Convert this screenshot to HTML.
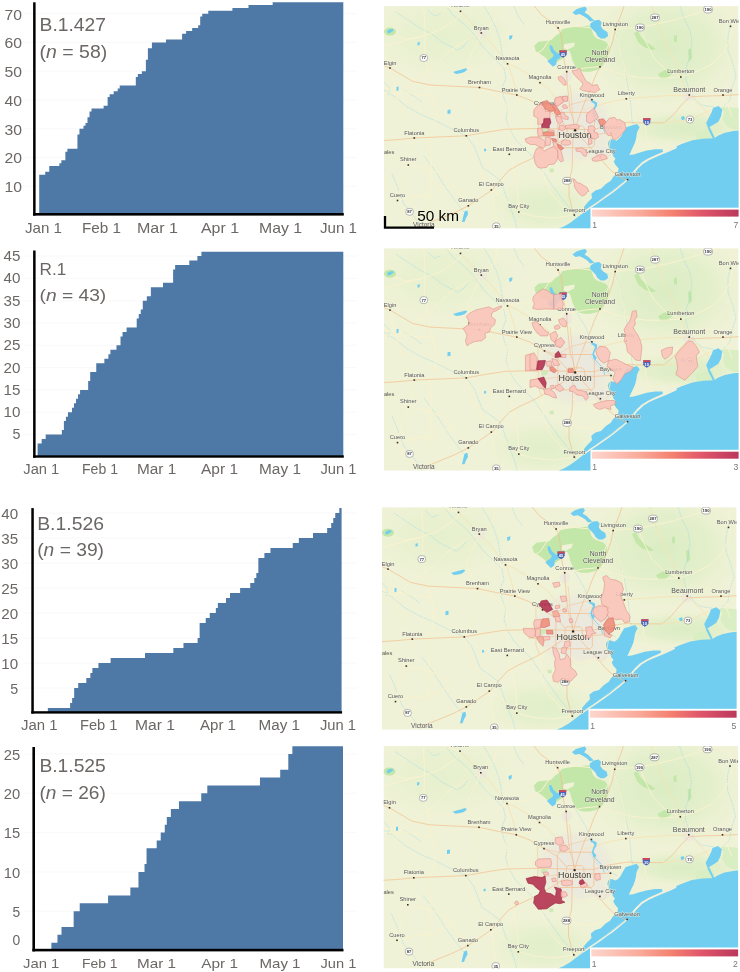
<!DOCTYPE html>
<html lang="en"><head><meta charset="utf-8"><title>Variant cumulative counts and maps</title>
<style>html,body{margin:0;padding:0;background:#fff}svg{display:block}text{font-family:"Liberation Sans",sans-serif}</style></head><body>
<svg width="740" height="972" viewBox="0 0 740 972">
<rect width="740" height="972" fill="#fff"/>
<defs><linearGradient id="lg" x1="0" x2="1" y1="0" y2="0"><stop offset="0" stop-color="#fdd6cd"/><stop offset="0.33" stop-color="#f9aa9a"/><stop offset="0.55" stop-color="#f4806f"/><stop offset="0.75" stop-color="#e0566a"/><stop offset="1" stop-color="#bb385c"/></linearGradient><radialGradient id="urb"><stop offset="0" stop-color="#ebe8de"/><stop offset="0.55" stop-color="#ebe8de" stop-opacity="0.95"/><stop offset="0.8" stop-color="#ece9dc" stop-opacity="0.6"/><stop offset="1" stop-color="#eff2d6" stop-opacity="0"/></radialGradient><radialGradient id="grn"><stop offset="0" stop-color="#d7ecc0" stop-opacity="0.85"/><stop offset="0.6" stop-color="#daedc3" stop-opacity="0.55"/><stop offset="1" stop-color="#e6f0cc" stop-opacity="0"/></radialGradient></defs>
<g id="chart1">
<line x1="25.1" y1="186.15" x2="357" y2="186.15" stroke="#f6f6f6" stroke-width="0.7"/>
<line x1="25.1" y1="157.4" x2="357" y2="157.4" stroke="#f6f6f6" stroke-width="0.7"/>
<line x1="25.1" y1="128.65" x2="357" y2="128.65" stroke="#f6f6f6" stroke-width="0.7"/>
<line x1="25.1" y1="99.9" x2="357" y2="99.9" stroke="#f6f6f6" stroke-width="0.7"/>
<line x1="25.1" y1="71.15" x2="357" y2="71.15" stroke="#f6f6f6" stroke-width="0.7"/>
<line x1="25.1" y1="42.4" x2="357" y2="42.4" stroke="#f6f6f6" stroke-width="0.7"/>
<line x1="25.1" y1="13.65" x2="357" y2="13.65" stroke="#f6f6f6" stroke-width="0.7"/>
<path d="M39.2,214.9V174.65H45.24V171.78H49.26V166.03H59.33V163.15H61.34V160.28H65.36V151.65H67.38V148.78H77.44V134.4H79.45V128.65H83.48V125.78H85.49V122.9H87.5V117.15H89.52V111.4H91.53V108.53H103.6V105.65H107.63V97.03H109.64V94.15H113.67V91.28H117.69V88.4H119.7V85.53H135.8V76.9H137.82V74.03H141.84V71.15H145.87V59.65H147.88V48.15H151.91V42.4H165.99V39.53H182.09V33.78H186.12V30.9H192.16V28.03H198.2V25.15H200.21V16.53H202.22V13.65H208.26V10.78H232.41V7.9H248.51V5.03H272.66V2.15H343.3V214.9Z" fill="#4e79a7"/>
<rect x="33.1" y="2.3" width="2.5" height="213.3" fill="#000"/>
<rect x="33.1" y="213" width="310.7" height="2.6" fill="#000"/>
<text x="4.6" y="192.15" font-size="15.08" textLength="17.5" lengthAdjust="spacingAndGlyphs" fill="#6b6765">10</text>
<text x="4.6" y="163.4" font-size="15.08" textLength="17.5" lengthAdjust="spacingAndGlyphs" fill="#6b6765">20</text>
<text x="4.6" y="134.65" font-size="15.08" textLength="17.5" lengthAdjust="spacingAndGlyphs" fill="#6b6765">30</text>
<text x="4.6" y="105.9" font-size="15.08" textLength="17.5" lengthAdjust="spacingAndGlyphs" fill="#6b6765">40</text>
<text x="4.6" y="77.15" font-size="15.08" textLength="17.5" lengthAdjust="spacingAndGlyphs" fill="#6b6765">50</text>
<text x="4.6" y="48.4" font-size="15.08" textLength="17.5" lengthAdjust="spacingAndGlyphs" fill="#6b6765">60</text>
<text x="4.6" y="19.65" font-size="15.08" textLength="17.5" lengthAdjust="spacingAndGlyphs" fill="#6b6765">70</text>
<text x="25" y="233" font-size="14.8" textLength="37" lengthAdjust="spacingAndGlyphs" fill="#6b6765">Jan 1</text>
<text x="82" y="233" font-size="14.8" textLength="39" lengthAdjust="spacingAndGlyphs" fill="#6b6765">Feb 1</text>
<text x="137" y="233" font-size="14.8" textLength="41" lengthAdjust="spacingAndGlyphs" fill="#6b6765">Mar 1</text>
<text x="201" y="233" font-size="14.8" textLength="38" lengthAdjust="spacingAndGlyphs" fill="#6b6765">Apr 1</text>
<text x="259" y="233" font-size="14.8" textLength="43" lengthAdjust="spacingAndGlyphs" fill="#6b6765">May 1</text>
<text x="320" y="233" font-size="14.8" textLength="37" lengthAdjust="spacingAndGlyphs" fill="#6b6765">Jun 1</text>
<text x="39.6" y="31.4" font-size="18.3" textLength="66.4" lengthAdjust="spacingAndGlyphs" fill="#6b6765">B.1.427</text>
<text x="39.6" y="58.4" font-size="18.3" textLength="67.6" lengthAdjust="spacingAndGlyphs" fill="#6b6765">(<tspan font-style="italic">n</tspan> = 58)</text>
</g>
<g id="chart2">
<line x1="25.1" y1="434.5" x2="357" y2="434.5" stroke="#f6f6f6" stroke-width="0.7"/>
<line x1="25.1" y1="412.2" x2="357" y2="412.2" stroke="#f6f6f6" stroke-width="0.7"/>
<line x1="25.1" y1="389.9" x2="357" y2="389.9" stroke="#f6f6f6" stroke-width="0.7"/>
<line x1="25.1" y1="367.6" x2="357" y2="367.6" stroke="#f6f6f6" stroke-width="0.7"/>
<line x1="25.1" y1="345.3" x2="357" y2="345.3" stroke="#f6f6f6" stroke-width="0.7"/>
<line x1="25.1" y1="323" x2="357" y2="323" stroke="#f6f6f6" stroke-width="0.7"/>
<line x1="25.1" y1="300.7" x2="357" y2="300.7" stroke="#f6f6f6" stroke-width="0.7"/>
<line x1="25.1" y1="278.4" x2="357" y2="278.4" stroke="#f6f6f6" stroke-width="0.7"/>
<line x1="25.1" y1="256.1" x2="357" y2="256.1" stroke="#f6f6f6" stroke-width="0.7"/>
<path d="M37.6,456.8V443.42H41.65V438.96H45.69V434.5H61.87V430.04H63.89V421.12H65.91V416.66H67.94V412.2H71.98V407.74H74V403.28H76.03V398.82H78.05V394.36H80.07V389.9H88.16V380.98H90.19V372.06H96.25V363.14H104.34V358.68H108.39V354.22H110.41V349.76H116.48V345.3H120.52V336.38H122.54V331.92H126.59V327.46H136.7V318.54H138.72V314.08H140.75V309.62H142.77V300.7H146.81V296.24H150.86V287.32H163V282.86H173.11V269.48H175.13V265.02H189.29V260.56H197.38V256.1H201.42V251.64H343.3V456.8Z" fill="#4e79a7"/>
<rect x="33.1" y="250.5" width="2.5" height="207.2" fill="#000"/>
<rect x="33.1" y="455.3" width="310.7" height="2.4" fill="#000"/>
<text x="12.55" y="439.45" font-size="13.83" textLength="7.95" lengthAdjust="spacingAndGlyphs" fill="#6b6765">5</text>
<text x="3.6" y="417.15" font-size="13.83" textLength="16.9" lengthAdjust="spacingAndGlyphs" fill="#6b6765">10</text>
<text x="3.6" y="394.85" font-size="13.83" textLength="16.9" lengthAdjust="spacingAndGlyphs" fill="#6b6765">15</text>
<text x="3.6" y="372.55" font-size="13.83" textLength="16.9" lengthAdjust="spacingAndGlyphs" fill="#6b6765">20</text>
<text x="3.6" y="350.25" font-size="13.83" textLength="16.9" lengthAdjust="spacingAndGlyphs" fill="#6b6765">25</text>
<text x="3.6" y="327.95" font-size="13.83" textLength="16.9" lengthAdjust="spacingAndGlyphs" fill="#6b6765">30</text>
<text x="3.6" y="305.65" font-size="13.83" textLength="16.9" lengthAdjust="spacingAndGlyphs" fill="#6b6765">35</text>
<text x="3.6" y="283.35" font-size="13.83" textLength="16.9" lengthAdjust="spacingAndGlyphs" fill="#6b6765">40</text>
<text x="3.6" y="261.05" font-size="13.83" textLength="16.9" lengthAdjust="spacingAndGlyphs" fill="#6b6765">45</text>
<text x="23.3" y="474" font-size="13.97" textLength="36" lengthAdjust="spacingAndGlyphs" fill="#6b6765">Jan 1</text>
<text x="82" y="474" font-size="13.97" textLength="36" lengthAdjust="spacingAndGlyphs" fill="#6b6765">Feb 1</text>
<text x="137" y="474" font-size="13.97" textLength="39.3" lengthAdjust="spacingAndGlyphs" fill="#6b6765">Mar 1</text>
<text x="201" y="474" font-size="13.97" textLength="37" lengthAdjust="spacingAndGlyphs" fill="#6b6765">Apr 1</text>
<text x="259" y="474" font-size="13.97" textLength="42" lengthAdjust="spacingAndGlyphs" fill="#6b6765">May 1</text>
<text x="320.5" y="474" font-size="13.97" textLength="36" lengthAdjust="spacingAndGlyphs" fill="#6b6765">Jun 1</text>
<text x="39.5" y="274.5" font-size="17.04" textLength="26.7" lengthAdjust="spacingAndGlyphs" fill="#6b6765">R.1</text>
<text x="39.5" y="301.1" font-size="17.04" textLength="66.7" lengthAdjust="spacingAndGlyphs" fill="#6b6765">(<tspan font-style="italic">n</tspan> = 43)</text>
</g>
<g id="chart3">
<line x1="23.3" y1="688.1" x2="357" y2="688.1" stroke="#f6f6f6" stroke-width="0.7"/>
<line x1="23.3" y1="663.1" x2="357" y2="663.1" stroke="#f6f6f6" stroke-width="0.7"/>
<line x1="23.3" y1="638.1" x2="357" y2="638.1" stroke="#f6f6f6" stroke-width="0.7"/>
<line x1="23.3" y1="613.1" x2="357" y2="613.1" stroke="#f6f6f6" stroke-width="0.7"/>
<line x1="23.3" y1="588.1" x2="357" y2="588.1" stroke="#f6f6f6" stroke-width="0.7"/>
<line x1="23.3" y1="563.1" x2="357" y2="563.1" stroke="#f6f6f6" stroke-width="0.7"/>
<line x1="23.3" y1="538.1" x2="357" y2="538.1" stroke="#f6f6f6" stroke-width="0.7"/>
<line x1="23.3" y1="513.1" x2="357" y2="513.1" stroke="#f6f6f6" stroke-width="0.7"/>
<path d="M47.84,713.1V708.1H70.11V703.1H72.13V698.1H74.16V688.1H78.2V683.1H86.3V678.1H90.35V673.1H92.37V668.1H98.44V663.1H110.59V658.1H145V653.1H173.33V648.1H183.45V643.1H197.62V638.1H199.64V623.1H205.72V618.1H209.76V613.1H215.84V608.1H217.86V603.1H225.96V598.1H230V593.1H240.12V588.1H250.24V583.1H254.29V578.1H256.32V573.1H258.34V558.1H264.41V553.1H270.48V548.1H292.75V543.1H298.82V538.1H312.99V533.1H327.16V528.1H331.2V523.1H333.23V518.1H335.25V513.1H339.3V508.1H341.6V713.1Z" fill="#4e79a7"/>
<rect x="31.3" y="508.1" width="2.5" height="205.5" fill="#000"/>
<rect x="31.3" y="711.2" width="310.8" height="2.4" fill="#000"/>
<text x="10.15" y="693.8" font-size="13.97" textLength="7.95" lengthAdjust="spacingAndGlyphs" fill="#6b6765">5</text>
<text x="1.2" y="668.8" font-size="13.97" textLength="16.9" lengthAdjust="spacingAndGlyphs" fill="#6b6765">10</text>
<text x="1.2" y="643.8" font-size="13.97" textLength="16.9" lengthAdjust="spacingAndGlyphs" fill="#6b6765">15</text>
<text x="1.2" y="618.8" font-size="13.97" textLength="16.9" lengthAdjust="spacingAndGlyphs" fill="#6b6765">20</text>
<text x="1.2" y="593.8" font-size="13.97" textLength="16.9" lengthAdjust="spacingAndGlyphs" fill="#6b6765">25</text>
<text x="1.2" y="568.8" font-size="13.97" textLength="16.9" lengthAdjust="spacingAndGlyphs" fill="#6b6765">30</text>
<text x="1.2" y="543.8" font-size="13.97" textLength="16.9" lengthAdjust="spacingAndGlyphs" fill="#6b6765">35</text>
<text x="1.2" y="518.8" font-size="13.97" textLength="16.9" lengthAdjust="spacingAndGlyphs" fill="#6b6765">40</text>
<text x="21" y="730" font-size="13.97" textLength="36.5" lengthAdjust="spacingAndGlyphs" fill="#6b6765">Jan 1</text>
<text x="80" y="730" font-size="13.97" textLength="37.5" lengthAdjust="spacingAndGlyphs" fill="#6b6765">Feb 1</text>
<text x="135" y="730" font-size="13.97" textLength="40" lengthAdjust="spacingAndGlyphs" fill="#6b6765">Mar 1</text>
<text x="200" y="730" font-size="13.97" textLength="36" lengthAdjust="spacingAndGlyphs" fill="#6b6765">Apr 1</text>
<text x="258.5" y="730" font-size="13.97" textLength="41.5" lengthAdjust="spacingAndGlyphs" fill="#6b6765">May 1</text>
<text x="320" y="730" font-size="13.97" textLength="36" lengthAdjust="spacingAndGlyphs" fill="#6b6765">Jun 1</text>
<text x="37.2" y="529.9" font-size="18.02" textLength="66.8" lengthAdjust="spacingAndGlyphs" fill="#6b6765">B.1.526</text>
<text x="37.2" y="556.2" font-size="18.02" textLength="66.8" lengthAdjust="spacingAndGlyphs" fill="#6b6765">(<tspan font-style="italic">n</tspan> = 39)</text>
</g>
<g id="chart4">
<line x1="24.4" y1="911.2" x2="357" y2="911.2" stroke="#f6f6f6" stroke-width="0.7"/>
<line x1="24.4" y1="871.9" x2="357" y2="871.9" stroke="#f6f6f6" stroke-width="0.7"/>
<line x1="24.4" y1="832.6" x2="357" y2="832.6" stroke="#f6f6f6" stroke-width="0.7"/>
<line x1="24.4" y1="793.3" x2="357" y2="793.3" stroke="#f6f6f6" stroke-width="0.7"/>
<line x1="24.4" y1="754" x2="357" y2="754" stroke="#f6f6f6" stroke-width="0.7"/>
<path d="M51.38,950.5V942.64H57.45V934.78H61.5V926.92H73.65V911.2H79.72V903.34H108.08V895.48H130.35V887.62H138.45V871.9H144.52V864.04H146.55V848.32H156.68V840.46H160.72V832.6H164.77V824.74H166.8V816.88H170.85V809.02H178.95V801.16H201.23V793.3H207.3V785.44H259.95V777.58H280.2V769.72H288.3V754H292.35V746.14H343V950.5Z" fill="#4e79a7"/>
<rect x="32.4" y="747" width="2.6" height="204.4" fill="#000"/>
<rect x="32.4" y="948.8" width="311.1" height="2.6" fill="#000"/>
<text x="12.4" y="917.05" font-size="14.39" textLength="7.7" lengthAdjust="spacingAndGlyphs" fill="#6b6765">5</text>
<text x="3.7" y="877.75" font-size="14.39" textLength="16.4" lengthAdjust="spacingAndGlyphs" fill="#6b6765">10</text>
<text x="3.7" y="838.45" font-size="14.39" textLength="16.4" lengthAdjust="spacingAndGlyphs" fill="#6b6765">15</text>
<text x="3.7" y="799.15" font-size="14.39" textLength="16.4" lengthAdjust="spacingAndGlyphs" fill="#6b6765">20</text>
<text x="3.7" y="759.85" font-size="14.39" textLength="16.4" lengthAdjust="spacingAndGlyphs" fill="#6b6765">25</text>
<text x="12.4" y="945.15" font-size="14.39" textLength="7.7" lengthAdjust="spacingAndGlyphs" fill="#6b6765">0</text>
<text x="23" y="967.5" font-size="13.41" textLength="36.3" lengthAdjust="spacingAndGlyphs" fill="#6b6765">Jan 1</text>
<text x="82" y="967.5" font-size="13.41" textLength="35.5" lengthAdjust="spacingAndGlyphs" fill="#6b6765">Feb 1</text>
<text x="137" y="967.5" font-size="13.41" textLength="39" lengthAdjust="spacingAndGlyphs" fill="#6b6765">Mar 1</text>
<text x="201.3" y="967.5" font-size="13.41" textLength="36.7" lengthAdjust="spacingAndGlyphs" fill="#6b6765">Apr 1</text>
<text x="259.5" y="967.5" font-size="13.41" textLength="41" lengthAdjust="spacingAndGlyphs" fill="#6b6765">May 1</text>
<text x="320.5" y="967.5" font-size="13.41" textLength="35.8" lengthAdjust="spacingAndGlyphs" fill="#6b6765">Jun 1</text>
<text x="39.4" y="772.4" font-size="18.3" textLength="66.4" lengthAdjust="spacingAndGlyphs" fill="#6b6765">B.1.525</text>
<text x="39.4" y="799.2" font-size="18.3" textLength="66.4" lengthAdjust="spacingAndGlyphs" fill="#6b6765">(<tspan font-style="italic">n</tspan> = 26)</text>
</g>
<clipPath id="clip0"><rect x="0" y="0" width="354.6" height="222.5"/></clipPath>
<g id="map1" transform="translate(384.0,6.1)"><g clip-path="url(#clip0)">
<rect x="0" y="0" width="354.6" height="222.5" fill="#eff2d6"/>
<ellipse cx="282" cy="42" rx="78" ry="58" fill="url(#grn)"/>
<ellipse cx="300" cy="122" rx="62" ry="18" fill="url(#grn)"/>
<ellipse cx="160" cy="200" rx="55" ry="28" fill="url(#grn)" opacity="0.7"/>
<ellipse cx="60" cy="30" rx="70" ry="40" fill="url(#grn)" opacity="0.45"/>
<path d="M150.3,39.6 154.3,35.6 160.8,34.8 167.3,34 171.4,29.9 176.2,26.7 177.8,23.4 183.5,21.8 190,21 198.1,20.2 205.4,19.4 207.8,23.4 209.5,29.1 212.7,32.3 217.6,34 221.6,35.6 224.9,39.6 224.9,46.1 223.3,52.6 220,57.5 217.6,61.5 212.7,64 206.2,65.6 199.7,65.6 194.1,64 191.6,60.7 188.4,54.2 186.8,47.7 185.1,44.5 182.7,45.3 180.3,51 177,53.4 173,55.9 168.9,57.5 164.9,55 160.8,51 156,47.7 151.9,45.3Z" fill="#c3e6a9"/>
<path d="M250,27 254,25 257,31 262,36 268,40 272,43 268,44 260,41 254,36Z" fill="#c3e6a9"/>
<path d="M274,68 281,64 287,63 288,68 283,72 277,73Z" fill="#c3e6a9"/>
<path d="M304,44 307,42 308,52 305,56Z" fill="#c3e6a9"/>
<path d="M290,30 293,29 293,36 290,36Z" fill="#c3e6a9"/>
<path d="M180.3,38 190.8,36.4 190,40.4 183.5,43.7 179.5,42.1Z" fill="#eff2d6"/>
<path d="M337.1,100.7 356,102 356,123.7 349.2,123.7 342.5,119.6 338.4,112.9 339.8,106.1Z" fill="#d9eec3"/>
<path d="M311.4,126.4 319.5,123.7 327.6,122.3 330.3,127.7 331.7,131.8 320.9,133.2 312.8,133.8Z" fill="#d9eec3"/>
<ellipse cx="191" cy="121" rx="44" ry="41" fill="url(#urb)"/>
<ellipse cx="183" cy="70" rx="5" ry="6" fill="#ece9df"/>
<ellipse cx="305" cy="90" rx="6" ry="5" fill="#ece9df"/>
<ellipse cx="218" cy="147" rx="9" ry="7" fill="#ece9df"/>
<ellipse cx="98" cy="27" rx="5" ry="5" fill="#ece9df"/>
<path d="M62,0 70,10 80,18 88,26 94,34 100,42 108,50 114,56 120,62 122,72 118,82 120,92 124,102 122,112 126,124 132,134 140,142 150,152 158,164 166,176 176,190 186,202 192,211" fill="none" stroke="#8fd3ee" stroke-width="0.7" stroke-linejoin="round" stroke-linecap="round" stroke-dasharray="1.3 1.5" stroke-opacity="0.6"/>
<path d="M0,84 10,90 22,100 36,108 50,114 66,122 82.3,129.7 90,140 94,150 98.5,161.4 108,168 116,174 120,184 124,196 128,206 131,214 133,222" fill="none" stroke="#8fd3ee" stroke-width="0.7" stroke-linejoin="round" stroke-linecap="round" stroke-dasharray="1.3 1.5" stroke-opacity="0.6"/>
<path d="M231,26 234,38 238,50 240,62 243,76 246,90 247,102 248,114 250,122" fill="none" stroke="#8fd3ee" stroke-width="0.7" stroke-linejoin="round" stroke-linecap="round" stroke-dasharray="1.3 1.5" stroke-opacity="0.6"/>
<path d="M296,0 300,12 306,24 308,36 306,50 302,62 302,74 306,86 312,94 318,99 330,101" fill="none" stroke="#8fd3ee" stroke-width="0.7" stroke-linejoin="round" stroke-linecap="round" stroke-dasharray="1.3 1.5" stroke-opacity="0.6"/>
<path d="M347,16 344,30 344,44 349,58 352,70 348,82 346,94 340,100" fill="none" stroke="#8fd3ee" stroke-width="0.7" stroke-linejoin="round" stroke-linecap="round" stroke-dasharray="1.3 1.5" stroke-opacity="0.6"/>
<path d="M190,60 196,70 202,80 206,90 207,96" fill="none" stroke="#8fd3ee" stroke-width="0.7" stroke-linejoin="round" stroke-linecap="round" stroke-dasharray="1.3 1.5" stroke-opacity="0.6"/>
<path d="M207,108 212,116 218,122 226,126 234,130" fill="none" stroke="#8fd3ee" stroke-width="0.7" stroke-linejoin="round" stroke-linecap="round" stroke-dasharray="1.3 1.5" stroke-opacity="0.6"/>
<path d="M100,0 106,10 112,22 116,34 118,46 120,56" fill="none" stroke="#8fd3ee" stroke-width="0.7" stroke-linejoin="round" stroke-linecap="round" stroke-dasharray="1.3 1.5" stroke-opacity="0.6"/>
<path d="M40,150 52,166 62,182 72,196 80,206" fill="none" stroke="#8fd3ee" stroke-width="0.7" stroke-linejoin="round" stroke-linecap="round" stroke-dasharray="1.3 1.5" stroke-opacity="0.6"/>
<path d="M8,168 14,182 20,198 30,210 38,222" fill="none" stroke="#8fd3ee" stroke-width="0.7" stroke-linejoin="round" stroke-linecap="round" stroke-dasharray="1.3 1.5" stroke-opacity="0.6"/>
<path d="M12,6 24,14 36,22 48,28 58,36 66,40 74,44 80,40 84,34 92,30" fill="none" stroke="#8fd3ee" stroke-width="0.7" stroke-linejoin="round" stroke-linecap="round" stroke-dasharray="1.3 1.5" stroke-opacity="0.6"/>
<path d="M20,84 30,90 38,96" fill="none" stroke="#8fd3ee" stroke-width="0.7" stroke-linejoin="round" stroke-linecap="round" stroke-dasharray="1.3 1.5" stroke-opacity="0.6"/>
<path d="M0,76 6,82 4,90" fill="none" stroke="#8fd3ee" stroke-width="0.7" stroke-linejoin="round" stroke-linecap="round" stroke-dasharray="1.3 1.5" stroke-opacity="0.6"/>
<path d="M44,4 50,10 56,8" fill="none" stroke="#8fd3ee" stroke-width="0.7" stroke-linejoin="round" stroke-linecap="round" stroke-dasharray="1.3 1.5" stroke-opacity="0.6"/>
<path d="M130,0 134,10 140,18" fill="none" stroke="#8fd3ee" stroke-width="0.7" stroke-linejoin="round" stroke-linecap="round" stroke-dasharray="1.3 1.5" stroke-opacity="0.6"/>
<path d="M-0.3,40.2 38.5,30.2 56,23.9 71,13.9 78.5,6.4" fill="none" stroke="#f9f2d0" stroke-width="1.0" stroke-linejoin="round" stroke-linecap="round"/>
<path d="M97.3,26.9 88.5,31.4 78.5,36.4 63.5,46.4 46,63.9 28.5,75.2" fill="none" stroke="#f9f2d0" stroke-width="1.0" stroke-linejoin="round" stroke-linecap="round"/>
<path d="M39.8,1.4 41,23.9 40.5,51.4 44.8,68.9 46,78.9 49.8,93.9 52.3,108.9 50,122 46,132" fill="none" stroke="#f9f2d0" stroke-width="1.0" stroke-linejoin="round" stroke-linecap="round"/>
<path d="M97.3,26.9 111,13.9 113.5,1.4" fill="none" stroke="#f9f2d0" stroke-width="1.0" stroke-linejoin="round" stroke-linecap="round"/>
<path d="M95.5,81.4 83.5,56.4 91,41.4 97.3,26.9" fill="none" stroke="#f9f2d0" stroke-width="1.0" stroke-linejoin="round" stroke-linecap="round"/>
<path d="M124,57.7 143.5,53.9 158.5,43.9 173,21.9" fill="none" stroke="#f9f2d0" stroke-width="1.0" stroke-linejoin="round" stroke-linecap="round"/>
<path d="M95.5,81.4 106,68.9 124,57.7" fill="none" stroke="#f9f2d0" stroke-width="1.0" stroke-linejoin="round" stroke-linecap="round"/>
<path d="M-0.3,86.4 16,87.7 28.5,75.2" fill="none" stroke="#f9f2d0" stroke-width="1.0" stroke-linejoin="round" stroke-linecap="round"/>
<path d="M95.5,81.4 93.5,98.9 88.5,115.9 82.3,129.7" fill="none" stroke="#f9f2d0" stroke-width="1.0" stroke-linejoin="round" stroke-linecap="round"/>
<path d="M76.5,5.2 60,0" fill="none" stroke="#f9f2d0" stroke-width="1.0" stroke-linejoin="round" stroke-linecap="round"/>
<path d="M0,23 10,29 22,33 38.5,30.2" fill="none" stroke="#f9f2d0" stroke-width="1.0" stroke-linejoin="round" stroke-linecap="round"/>
<path d="M95.5,81.4 112,90 124,100 125.3,120 125.3,148.2" fill="none" stroke="#f9f2d0" stroke-width="1.0" stroke-linejoin="round" stroke-linecap="round"/>
<path d="M0,82 14,84 30,88 48,90 50,90" fill="none" stroke="#f9f2d0" stroke-width="1.0" stroke-linejoin="round" stroke-linecap="round"/>
<path d="M6,62 10,78 14,96 20,112 30.3,131.9" fill="none" stroke="#f9f2d0" stroke-width="1.0" stroke-linejoin="round" stroke-linecap="round"/>
<path d="M30.3,131.9 28,146 24.3,158.9 18,176 13.5,194.4 20,206 30,214 39.8,222" fill="none" stroke="#f9f2d0" stroke-width="1.0" stroke-linejoin="round" stroke-linecap="round"/>
<path d="M0,146 10,150 24.3,158.9 40,162 58,168 70,180 84.3,199.7" fill="none" stroke="#f9f2d0" stroke-width="1.0" stroke-linejoin="round" stroke-linecap="round"/>
<path d="M82.3,129.7 86,146 92,160 100,172 107.3,183.9" fill="none" stroke="#f9f2d0" stroke-width="1.0" stroke-linejoin="round" stroke-linecap="round"/>
<path d="M107.3,183.9 110,198 112,212 112.3,222" fill="none" stroke="#f9f2d0" stroke-width="1.0" stroke-linejoin="round" stroke-linecap="round"/>
<path d="M107.3,183.9 120,192 134.8,205.9 150,210 170,212 190.3,209" fill="none" stroke="#f9f2d0" stroke-width="1.0" stroke-linejoin="round" stroke-linecap="round"/>
<path d="M125.3,148.2 130,166 134,186 134.8,205.9" fill="none" stroke="#f9f2d0" stroke-width="1.0" stroke-linejoin="round" stroke-linecap="round"/>
<path d="M13.5,194.4 30,190 50,188 60,182 70,180" fill="none" stroke="#f9f2d0" stroke-width="1.0" stroke-linejoin="round" stroke-linecap="round"/>
<path d="M46,132 47,150 47,170 46,190 44,206" fill="none" stroke="#f9f2d0" stroke-width="1.0" stroke-linejoin="round" stroke-linecap="round"/>
<path d="M173,21.9 190,20 210,22 229.3,23.2 245,22 256,21.4 272,18 290,14 310,8 324,3.4 336,0" fill="none" stroke="#f9f2d0" stroke-width="1.0" stroke-linejoin="round" stroke-linecap="round"/>
<path d="M229.3,23.2 226,36 220,48" fill="none" stroke="#f9f2d0" stroke-width="1.0" stroke-linejoin="round" stroke-linecap="round"/>
<path d="M216,60.5 230,66 246,70 262,72 280,72 296.8,70.9" fill="none" stroke="#f9f2d0" stroke-width="1.0" stroke-linejoin="round" stroke-linecap="round"/>
<path d="M216,60.5 200,62 182,66 168,70 154.8,76.4" fill="none" stroke="#f9f2d0" stroke-width="1.0" stroke-linejoin="round" stroke-linecap="round"/>
<path d="M242.3,92.7 242,78 240,60 236,44 229.3,23.2" fill="none" stroke="#f9f2d0" stroke-width="1.0" stroke-linejoin="round" stroke-linecap="round"/>
<path d="M242.3,92.7 246,104 246,114" fill="none" stroke="#f9f2d0" stroke-width="1.0" stroke-linejoin="round" stroke-linecap="round"/>
<path d="M296.8,70.9 312,66 328,58 340,46 348,30 348,20.2 346,0" fill="none" stroke="#f9f2d0" stroke-width="1.0" stroke-linejoin="round" stroke-linecap="round"/>
<path d="M305.3,89.5 316,84 326,80 339,89.5" fill="none" stroke="#f9f2d0" stroke-width="1.0" stroke-linejoin="round" stroke-linecap="round"/>
<path d="M256,21.4 262,36 270,52 282,64 296.8,70.9" fill="none" stroke="#f9f2d0" stroke-width="1.0" stroke-linejoin="round" stroke-linecap="round"/>
<path d="M261,114.3 262,128 266,140 270,150" fill="none" stroke="#f9f2d0" stroke-width="1.0" stroke-linejoin="round" stroke-linecap="round"/>
<path d="M226.8,126.9 236,120 246,114.2" fill="none" stroke="#f9f2d0" stroke-width="1.0" stroke-linejoin="round" stroke-linecap="round"/>
<path d="M154.8,76.4 148,86 133,89" fill="none" stroke="#f9f2d0" stroke-width="1.0" stroke-linejoin="round" stroke-linecap="round"/>
<path d="M133,89 140,104 146,116 148,122" fill="none" stroke="#f9f2d0" stroke-width="1.0" stroke-linejoin="round" stroke-linecap="round"/>
<path d="M160,141.5 158,156 160,172 166,186 178,200 190.3,209" fill="none" stroke="#f9f2d0" stroke-width="1.0" stroke-linejoin="round" stroke-linecap="round"/>
<path d="M184,175 200,180 214,178 226,172" fill="none" stroke="#f9f2d0" stroke-width="1.0" stroke-linejoin="round" stroke-linecap="round"/>
<path d="M216.7,150.5 206,154 196,156 188.5,150" fill="none" stroke="#f9f2d0" stroke-width="1.0" stroke-linejoin="round" stroke-linecap="round"/>
<path d="M339,89.5 344,100 348,110" fill="none" stroke="#f9f2d0" stroke-width="1.0" stroke-linejoin="round" stroke-linecap="round"/>
<path d="M174.4,222.5 179.8,220.4 186.3,216.6 192.8,211.7 199.2,206.9 206.8,201.5 216.5,193.4 226.3,185.8 236,178.2 244.9,172.2 250.6,164.6 258.1,157.1 267.6,151.4 278.9,146.7 286.8,142.9 297.6,138 308.4,134.2 319.2,132.6 330.1,132.1 334.4,129.4 340.9,126.7 349.5,125 356.5,124.3 356.5,222.5Z" fill="#72cef1"/>
<path d="M242.2,121.1 240.6,123.8 238.9,126.5 237.3,129.8 235.1,132.5 232.4,134.6 229.7,133.6 227,133 224.9,134.6 223.8,137.3 224.5,140.6 226,143.8 228,147.1 229.5,150.3 231.5,152.6 229.7,155.3 231.4,158.6 234.6,162.3 234,166 235.7,170.5 238.9,173.7 243,174.5 245.4,173.7 247.5,169.5 251.5,164 256,159 262,154.8 268.5,151.2 275,148 279,145.8 278.5,143.2 271.4,143.2 262.7,144.5 255.1,146.7 249.7,148.3 245.4,148.8 248.1,142.7 249.7,139.5 251.4,135.2 252.4,130.9 253,126.5 254.1,123.8 255.7,121.1 253,117.9 247.6,119.5Z" fill="#72cef1"/>
<path d="M245,172.5 238,170 232,168 229,171 226.8,174.6 221.9,177.9 217,182.7 211.4,184.4 207.3,187.6 208,192 204,196 200.3,200.4 199,207 206.8,201.5 216.5,193.4 226.3,185.8 236,178.2 244.9,172.5Z" fill="#72cef1"/>
<path d="M329,102 334.4,100 338.4,103.4 337.1,110.2 334.4,115.6 329,119 325.5,121 327.5,125 331,132.4 329,132.6 324.5,123.5 322.2,116.9 324.9,111.5 327.6,106.1Z" fill="#72cef1"/>
<ellipse cx="6" cy="25.5" rx="6" ry="4" fill="#c3e6a9"/>
<path d="M206.2,17.7 210.3,14.5 215.1,13.7 217.6,16.1 216.8,20.2 219.2,23.4 223.3,25.9 224.1,29.9 220.8,32.3 216.8,32.3 213.5,29.9 211.9,26.7 208.7,23.4 206.2,21Z" fill="#72cef1"/>
<path d="M188.4,6.4 192.4,3.2 197.3,1.5 201.4,0.7 203,3.2 200.6,6.4 204.6,8.8 207.8,12.1 210.3,14.5 206.2,15.3 203,12.1 198.9,9.6 195.7,8 191.6,8.8Z" fill="#72cef1"/>
<path d="M165.7,38.8 168.1,39.6 169.7,43.7 173,46.9 177,48.6 176.2,51.8 173,53.4 172.2,58.3 168.9,60.7 164.9,56.7 163.3,55 166.5,52.6 168.9,51 169.7,48.6 167.3,46.1 165.7,42.1Z" fill="#72cef1"/>
<path d="M69,65.8 73,64.6 77,63.6 81.5,62.2 83.4,63.4 80.5,66 76.5,67.2 72,67.8Z" fill="#72cef1"/>
<path d="M3,25 5.5,23.2 9,22.8 9.6,24.5 7,26.3 4,27.5Z" fill="#72cef1"/>
<path d="M125,30 128.5,29 128,32.5 125.5,34Z" fill="#72cef1"/>
<path d="M33.5,36.5 36,36 35.5,39 33.5,39.5Z" fill="#72cef1"/>
<path d="M63.5,104 66.5,103.5 66.5,107.5 63.5,108Z" fill="#72cef1"/>
<path d="M12.5,81 14.5,80.5 14.5,84.5 12.5,85Z" fill="#72cef1"/>
<path d="M80.5,205.5 83.5,204.5 84,208.5 82,212 80.5,216 78,216 79,211.5Z" fill="#72cef1"/>
<path d="M100,143 102,142.5 102.2,145 100.2,145.5Z" fill="#72cef1"/>
<path d="M297,111 300,110 301,113 298,114.5Z" fill="#72cef1"/>
<path d="M243.8,173.3 238.9,177.6 233.5,182 228.1,186.3 222.7,190.1 217.3,193.9 211.9,197.7 206.8,201 200,205.8" fill="none" stroke="#f3f1da" stroke-width="1.5" stroke-linejoin="round" stroke-linecap="round"/>
<path d="M249.5,166.5 253,162.3 258.4,157 264.5,153.3 271,150.2 278,147.3 285,144.5 292,141.2" fill="none" stroke="#f3f1da" stroke-width="1.9" stroke-linejoin="round" stroke-linecap="round"/>
<path d="M0,134.4 14,133.5 30.3,131.9 56,130.8 82.3,129.7 100,126.5 121,123.2 146.5,122.5 173.9,122.7 191.1,123.4 210.4,123.4 214.6,122.1 219.5,120.3 229.2,118.5 236.5,117.3 246,116 252,116.7 262.8,116.7 280,116.7 289.5,108.5 297.6,98.8 305.7,90.7 320,90 339,89.5 355,88.5" fill="none" stroke="#f4bd8a" stroke-width="0.75" stroke-linejoin="round" stroke-linecap="round" stroke-opacity="0.9"/>
<path d="M191.1,124.2 189.1,113 186.6,106.3 185.4,98.4 184.2,86.3 183,74.1 182.7,65.6 180.3,55.9 179.1,47.7 178.3,38 177,28.3 174.1,21.8 168.9,16.9 157.6,8.8 149.5,-0.9" fill="none" stroke="#f4bd8a" stroke-width="0.75" stroke-linejoin="round" stroke-linecap="round" stroke-opacity="0.9"/>
<path d="M191.1,124.2 197.6,131.9 203.7,138.6 210.4,145.9 217,153.2 224.3,161.7 232,168.5 239,172.5 243.6,173.6" fill="none" stroke="#f4bd8a" stroke-width="0.75" stroke-linejoin="round" stroke-linecap="round" stroke-opacity="0.9"/>
<path d="M191.1,124.2 193.9,114.2 197.6,104.5 201.2,94.8 206.1,83.8 209.7,74.1 212.7,67.2 216,60.7 224.9,46.1 228.9,34.8 231,23.4 237,8.8 240.3,-0.9" fill="none" stroke="#f4bd8a" stroke-width="0.75" stroke-linejoin="round" stroke-linecap="round" stroke-opacity="0.9"/>
<path d="M191.1,124.2 183,131.3 173.9,137.3 162.3,144.6 153.8,149.5 146.5,153.2 136,158 125.3,164 118,172 108.5,183.5 96,192 84.3,199.7 71,206.4 55,213 40,219" fill="none" stroke="#f4bd8a" stroke-width="0.75" stroke-linejoin="round" stroke-linecap="round" stroke-opacity="0.9"/>
<path d="M183,120.9 173.9,110.6 160.5,102.7 153.8,98.4 146.5,94.2 132.8,88.9 113.5,85.2 95.5,81.4 71,80.2 46,78.9 28.5,75.2 6,61.9 0,59.5" fill="none" stroke="#f4bd8a" stroke-width="0.75" stroke-linejoin="round" stroke-linecap="round" stroke-opacity="0.9"/>
<path d="M189.1,131.3 188.5,141.6 188.5,152 187.9,164.1 185,175 185,190 188,202 190.3,209" fill="none" stroke="#f4bd8a" stroke-width="0.75" stroke-linejoin="round" stroke-linecap="round" stroke-opacity="0.9"/>
<path d="M200.6,127.6 210.4,128.2 219.5,127.6 227,127.3" fill="none" stroke="#f4bd8a" stroke-width="0.75" stroke-linejoin="round" stroke-linecap="round" stroke-opacity="0.9"/>
<path d="M197.6,104.5 208,101 220,97.5 232,94.5 242.3,92.7 262,91 284,89.5 305.3,89.5" fill="none" stroke="#f6e3b4" stroke-width="0.9" stroke-linejoin="round" stroke-linecap="round"/>
<path d="M186.6,106.3 176.9,96 169.6,88.7 164.7,82.6 156,76.6 144,68 132,61 124,57.7" fill="none" stroke="#f6e3b4" stroke-width="0.9" stroke-linejoin="round" stroke-linecap="round"/>
<path d="M227,127.3 226,136 224,146 221,154 217,153.2" fill="none" stroke="#f6e3b4" stroke-width="0.9" stroke-linejoin="round" stroke-linecap="round"/>
<path d="M76.5,5.2 88,17 97.3,26.9 106,35 114,45 124,57.7 128,70 131,80 133,89" fill="none" stroke="#f6e3b4" stroke-width="0.9" stroke-linejoin="round" stroke-linecap="round"/>
<path d="M305.3,89.5 301,80 296.8,70.9 292,58 284,42 277,26 271,11 268,0" fill="none" stroke="#f6e3b4" stroke-width="0.9" stroke-linejoin="round" stroke-linecap="round"/>
<path d="M305.3,89.5 312,96 320,103 326,110" fill="none" stroke="#f6e3b4" stroke-width="0.9" stroke-linejoin="round" stroke-linecap="round"/>
<path d="M280,116.7 294,115 306,113.5 316,109 326,104" fill="none" stroke="#f6e3b4" stroke-width="0.9" stroke-linejoin="round" stroke-linecap="round"/>
<path d="M191.1,124.2 189.3,114.2 188.5,106.3 187.6,96 187.2,88.7 186,79" fill="none" stroke="#f4bd8a" stroke-width="0.6" stroke-linejoin="round" stroke-linecap="round" stroke-opacity="0.8"/>
<path d="M153.8,98.4 154,110.6 154.4,122.7 153.8,137.3 157.4,147.1" fill="none" stroke="#f4bd8a" stroke-width="0.6" stroke-linejoin="round" stroke-linecap="round" stroke-opacity="0.8"/>
<path d="M160.5,102.7 173.9,106.3 180.6,102.1 186.6,98.4 201.2,94.8 207.3,93.6" fill="none" stroke="#f4bd8a" stroke-width="0.6" stroke-linejoin="round" stroke-linecap="round" stroke-opacity="0.8"/>
<path d="M146.5,131.3 162.3,130.7 173.9,128.8 183,127.6" fill="none" stroke="#f4bd8a" stroke-width="0.6" stroke-linejoin="round" stroke-linecap="round" stroke-opacity="0.8"/>
<path d="M176.3,106.3 207.9,106.3 210.4,108.8 210.4,139.2 207.9,141.6 176.3,141.6 173.9,139.2 173.9,108.8 176.3,106.3" fill="none" stroke="#f4bd8a" stroke-width="0.7" stroke-linejoin="round" stroke-linecap="round"/>
<path d="M184.8,119.7 198.2,119.7 200.3,121.8 200.6,129.4 198.8,131.5 184.8,131.9 183,130 183,121.5 184.8,119.7" fill="none" stroke="#f4bd8a" stroke-width="0.7" stroke-linejoin="round" stroke-linecap="round"/>
<path d="M207.9,94.2 210.4,95 213.2,96.6 212.8,100.2 210.7,103.3 210,106 212.8,109.4 211.6,112 209.7,110.6 208.3,106 209.5,102.3 211,99 209.7,97.2 207.3,96Z" fill="#72cef1"/>
<path d="M211.6,112 214.6,115.5 217.7,118.5 219.5,122.7 220.7,126.4" fill="none" stroke="#72cef1" stroke-width="0.8" stroke-linejoin="round" stroke-linecap="round"/>
<path d="M157.9,122.8 164,122.6 163.2,126.6 157.2,127.5Z" fill="#cfe9b6"/>
<path d="M165.3,162.7 169.5,162.2 170,165.8 166,166.4Z" fill="#cfe9b6"/>
<path d="M208,88 211,87.6 211,90 208,90.4Z" fill="#cfe9b6"/>
<rect x="36" y="48.5" width="7.5" height="6.8" rx="3" fill="#fff" stroke="#777" stroke-width="0.5"/>
<text x="39.8" y="53.4" font-size="4.2" text-anchor="middle" fill="#333" font-weight="bold">77</text>
<rect x="251.5" y="18" width="9" height="6.8" rx="3" fill="#fff" stroke="#777" stroke-width="0.5"/>
<text x="256" y="22.9" font-size="4.2" text-anchor="middle" fill="#333" font-weight="bold">190</text>
<rect x="266.5" y="8" width="9" height="6.8" rx="3" fill="#fff" stroke="#777" stroke-width="0.5"/>
<text x="271" y="12.9" font-size="4.2" text-anchor="middle" fill="#333" font-weight="bold">287</text>
<rect x="319.5" y="0" width="9" height="6.8" rx="3" fill="#fff" stroke="#777" stroke-width="0.5"/>
<text x="324" y="4.9" font-size="4.2" text-anchor="middle" fill="#333" font-weight="bold">190</text>
<rect x="178.5" y="171.3" width="9" height="6.8" rx="3" fill="#fff" stroke="#777" stroke-width="0.5"/>
<text x="183" y="176.2" font-size="4.2" text-anchor="middle" fill="#333" font-weight="bold">288</text>
<rect x="302.2" y="110" width="7.5" height="6.8" rx="3" fill="#fff" stroke="#777" stroke-width="0.5"/>
<text x="306" y="114.9" font-size="4.2" text-anchor="middle" fill="#333" font-weight="bold">73</text>
<rect x="21.8" y="202.3" width="7.5" height="6.8" rx="3" fill="#fff" stroke="#777" stroke-width="0.5"/>
<text x="25.5" y="207.2" font-size="4.2" text-anchor="middle" fill="#333" font-weight="bold">87</text>
<rect x="108.5" y="216.8" width="7.5" height="6.8" rx="3" fill="#fff" stroke="#777" stroke-width="0.5"/>
<text x="112.3" y="221.7" font-size="4.2" text-anchor="middle" fill="#333" font-weight="bold">35</text>
<path d="M175.5,44.3H182.7V48.2Q182.3,50.7 179.1,51.7Q175.9,50.7 175.5,48.2Z" fill="#4a66b8"/>
<rect x="175.5" y="44.3" width="7.2" height="1.8" fill="#d0465a"/>
<text x="179.1" y="49.9" font-size="4" text-anchor="middle" fill="#fff" font-weight="bold">45</text>
<path d="M259.2,112.1H266.4V116Q266,118.5 262.8,119.5Q259.6,118.5 259.2,116Z" fill="#4a66b8"/>
<rect x="259.2" y="112.1" width="7.2" height="1.8" fill="#d0465a"/>
<text x="262.8" y="117.7" font-size="4" text-anchor="middle" fill="#fff" font-weight="bold">10</text>
<rect x="75.7" y="4.4" width="1.6" height="1.6" fill="#333"/>
<text x="76.5" y="0.9" font-size="5.7" text-anchor="middle" fill="#555" font-weight="normal" stroke="#f6f6e6" stroke-width="0.9" paint-order="stroke" stroke-opacity="0.7">Hearne</text>
<rect x="96.5" y="26.1" width="1.6" height="1.6" fill="#333"/>
<text x="97.3" y="23.5" font-size="5.7" text-anchor="middle" fill="#555" font-weight="normal" stroke="#f6f6e6" stroke-width="0.9" paint-order="stroke" stroke-opacity="0.7">Bryan</text>
<rect x="122.7" y="56.9" width="1.6" height="1.6" fill="#333"/>
<text x="123.5" y="54.3" font-size="5.7" text-anchor="middle" fill="#555" font-weight="normal" stroke="#f6f6e6" stroke-width="0.9" paint-order="stroke" stroke-opacity="0.7">Navasota</text>
<rect x="94.7" y="80.6" width="1.6" height="1.6" fill="#333"/>
<text x="95.5" y="77.8" font-size="5.7" text-anchor="middle" fill="#555" font-weight="normal" stroke="#f6f6e6" stroke-width="0.9" paint-order="stroke" stroke-opacity="0.7">Brenham</text>
<rect x="5.2" y="61.1" width="1.6" height="1.6" fill="#333"/>
<text x="6" y="58.5" font-size="5.7" text-anchor="middle" fill="#555" font-weight="normal" stroke="#f6f6e6" stroke-width="0.9" paint-order="stroke" stroke-opacity="0.7">Elgin</text>
<rect x="132" y="88.1" width="1.6" height="1.6" fill="#333"/>
<text x="132.8" y="85.5" font-size="5.7" text-anchor="middle" fill="#555" font-weight="normal" stroke="#f6f6e6" stroke-width="0.9" paint-order="stroke" stroke-opacity="0.7">Prairie View</text>
<rect x="155.2" y="75.8" width="1.6" height="1.6" fill="#333"/>
<text x="156" y="73" font-size="5.7" text-anchor="middle" fill="#555" font-weight="normal" stroke="#f6f6e6" stroke-width="0.9" paint-order="stroke" stroke-opacity="0.7">Magnolia</text>
<rect x="173.3" y="21" width="1.6" height="1.6" fill="#333"/>
<text x="174.1" y="18.3" font-size="5.7" text-anchor="middle" fill="#555" font-weight="normal" stroke="#f6f6e6" stroke-width="0.9" paint-order="stroke" stroke-opacity="0.7">Huntsville</text>
<rect x="230.4" y="22.6" width="1.6" height="1.6" fill="#333"/>
<text x="231.2" y="19.5" font-size="5.7" text-anchor="middle" fill="#555" font-weight="normal" stroke="#f6f6e6" stroke-width="0.9" paint-order="stroke" stroke-opacity="0.7">Livingston</text>
<rect x="345.7" y="19.4" width="1.6" height="1.6" fill="#333"/>
<text x="346.5" y="16.8" font-size="5.7" text-anchor="middle" fill="#555" font-weight="normal" stroke="#f6f6e6" stroke-width="0.9" paint-order="stroke" stroke-opacity="0.7">Bon Wier</text>
<rect x="181.9" y="64.8" width="1.6" height="1.6" fill="#333"/>
<text x="182.7" y="62.5" font-size="5.7" text-anchor="middle" fill="#555" font-weight="normal" stroke="#f6f6e6" stroke-width="0.9" paint-order="stroke" stroke-opacity="0.7">Conroe</text>
<rect x="296" y="70.1" width="1.6" height="1.6" fill="#333"/>
<text x="296.8" y="67.3" font-size="5.7" text-anchor="middle" fill="#555" font-weight="normal" stroke="#f6f6e6" stroke-width="0.9" paint-order="stroke" stroke-opacity="0.7">Lumberton</text>
<rect x="304.5" y="88.1" width="1.6" height="1.6" fill="#333"/>
<text x="305.3" y="85.7" font-size="7.0" text-anchor="middle" fill="#555" font-weight="normal" stroke="#f6f6e6" stroke-width="0.9" paint-order="stroke" stroke-opacity="0.7">Beaumont</text>
<rect x="338.2" y="88.1" width="1.6" height="1.6" fill="#333"/>
<text x="339" y="85.5" font-size="5.7" text-anchor="middle" fill="#555" font-weight="normal" stroke="#f6f6e6" stroke-width="0.9" paint-order="stroke" stroke-opacity="0.7">Orange</text>
<rect x="241.5" y="91.9" width="1.6" height="1.6" fill="#333"/>
<text x="242.3" y="89.3" font-size="5.7" text-anchor="middle" fill="#555" font-weight="normal" stroke="#f6f6e6" stroke-width="0.9" paint-order="stroke" stroke-opacity="0.7">Liberty</text>
<rect x="207.1" y="92.8" width="1.6" height="1.6" fill="#333"/>
<text x="207.9" y="90.6" font-size="5.7" text-anchor="middle" fill="#555" font-weight="normal" stroke="#f6f6e6" stroke-width="0.9" paint-order="stroke" stroke-opacity="0.7">Kingwood</text>
<rect x="159.7" y="101.9" width="1.6" height="1.6" fill="#333"/>
<text x="160.5" y="99.1" font-size="5.7" text-anchor="middle" fill="#555" font-weight="normal" stroke="#f6f6e6" stroke-width="0.9" paint-order="stroke" stroke-opacity="0.7">Cypress</text>
<rect x="226.2" y="126.5" width="1.6" height="1.6" fill="#333"/>
<text x="227" y="123.3" font-size="5.7" text-anchor="middle" fill="#555" font-weight="normal" stroke="#f6f6e6" stroke-width="0.9" paint-order="stroke" stroke-opacity="0.7">Baytown</text>
<rect x="29.5" y="131.1" width="1.6" height="1.6" fill="#333"/>
<text x="30.3" y="128.5" font-size="5.7" text-anchor="middle" fill="#555" font-weight="normal" stroke="#f6f6e6" stroke-width="0.9" paint-order="stroke" stroke-opacity="0.7">Flatonia</text>
<rect x="81.5" y="128.9" width="1.6" height="1.6" fill="#333"/>
<text x="82.3" y="126" font-size="5.7" text-anchor="middle" fill="#555" font-weight="normal" stroke="#f6f6e6" stroke-width="0.9" paint-order="stroke" stroke-opacity="0.7">Columbus</text>
<rect x="124.5" y="147.4" width="1.6" height="1.6" fill="#333"/>
<text x="125.3" y="144.8" font-size="5.7" text-anchor="middle" fill="#555" font-weight="normal" stroke="#f6f6e6" stroke-width="0.9" paint-order="stroke" stroke-opacity="0.7">East Bernard</text>
<rect x="23.5" y="158.1" width="1.6" height="1.6" fill="#333"/>
<text x="24.3" y="155.3" font-size="5.7" text-anchor="middle" fill="#555" font-weight="normal" stroke="#f6f6e6" stroke-width="0.9" paint-order="stroke" stroke-opacity="0.7">Shiner</text>
<rect x="106.5" y="183.1" width="1.6" height="1.6" fill="#333"/>
<text x="107.3" y="180.3" font-size="5.7" text-anchor="middle" fill="#555" font-weight="normal" stroke="#f6f6e6" stroke-width="0.9" paint-order="stroke" stroke-opacity="0.7">El Campo</text>
<rect x="12.7" y="193.6" width="1.6" height="1.6" fill="#333"/>
<text x="13.5" y="191" font-size="5.7" text-anchor="middle" fill="#555" font-weight="normal" stroke="#f6f6e6" stroke-width="0.9" paint-order="stroke" stroke-opacity="0.7">Cuero</text>
<rect x="83.5" y="198.9" width="1.6" height="1.6" fill="#333"/>
<text x="84.3" y="196" font-size="5.7" text-anchor="middle" fill="#555" font-weight="normal" stroke="#f6f6e6" stroke-width="0.9" paint-order="stroke" stroke-opacity="0.7">Ganado</text>
<rect x="134" y="205.1" width="1.6" height="1.6" fill="#333"/>
<text x="134.8" y="202.3" font-size="5.7" text-anchor="middle" fill="#555" font-weight="normal" stroke="#f6f6e6" stroke-width="0.9" paint-order="stroke" stroke-opacity="0.7">Bay City</text>
<rect x="215.6" y="149.7" width="1.6" height="1.6" fill="#333"/>
<text x="216.4" y="147.1" font-size="5.7" text-anchor="middle" fill="#555" font-weight="normal" stroke="#f6f6e6" stroke-width="0.9" paint-order="stroke" stroke-opacity="0.7">League City</text>
<rect x="242.8" y="172.7" width="1.6" height="1.6" fill="#333"/>
<text x="243.6" y="170" font-size="5.7" text-anchor="middle" fill="#555" font-weight="normal" stroke="#f6f6e6" stroke-width="0.9" paint-order="stroke" stroke-opacity="0.7">Galveston</text>
<rect x="189.5" y="208.1" width="1.6" height="1.6" fill="#333"/>
<text x="190.3" y="205.5" font-size="5.7" text-anchor="middle" fill="#555" font-weight="normal" stroke="#f6f6e6" stroke-width="0.9" paint-order="stroke" stroke-opacity="0.7">Freeport</text>
<text x="10.3" y="148" font-size="5.7" text-anchor="end" fill="#555">ales</text>
<text x="39.8" y="220.5" font-size="6.5" text-anchor="middle" fill="#555" font-weight="normal" stroke="#f6f6e6" stroke-width="0.9" paint-order="stroke" stroke-opacity="0.7">Victoria</text>
<text x="216" y="48.5" font-size="6.8" text-anchor="middle" fill="#555" font-weight="normal" stroke="#f6f6e6" stroke-width="0.9" paint-order="stroke" stroke-opacity="0.7">North</text>
<text x="216" y="55.8" font-size="6.8" text-anchor="middle" fill="#555" font-weight="normal" stroke="#f6f6e6" stroke-width="0.9" paint-order="stroke" stroke-opacity="0.7">Cleveland</text>
<rect x="215.2" y="59.9" width="1.6" height="1.6" fill="#333"/>
<circle cx="191.1" cy="124.2" r="1.2" fill="#222"/>
<text x="191.1" y="132.4" font-size="8.9" text-anchor="middle" fill="#333" font-weight="normal" stroke="#f6f6e6" stroke-width="0.9" paint-order="stroke" stroke-opacity="0.7">Houston</text>
<path d="M187.9,64.6 192.1,64 195.8,62.1 197,65.2 198.2,67.6 200.7,72.5 202.5,75.5 205.5,76.7 208,79.2 213.4,78.6 214.6,81.6 215.9,83.4 213.4,84.6 211.6,86.5 208,85.9 203.7,85.3 199.4,84.6 195.8,82.8 198.2,79.8 198.8,77.3 195.8,74.3 192.8,71.3 189.7,68.2Z" fill="#fac3b9" stroke="#dd9488" stroke-width="0.6" fill-opacity="0.88" stroke-linejoin="round"/>
<path d="M173.9,71.3 176.9,70 180,72.5 181.8,75.5 182.4,78.6 180,79.2 177.6,76.7 175.1,74.3Z" fill="#fac3b9" stroke="#dd9488" stroke-width="0.6" fill-opacity="0.88" stroke-linejoin="round"/>
<path d="M170.9,93.2 174.5,91.3 178.2,90.7 183,90.1 183.6,94.4 180.6,95 177.6,97.4 173.3,99.8 170.9,97.4Z" fill="#fac3b9" stroke="#dd9488" stroke-width="0.6" fill-opacity="0.88" stroke-linejoin="round"/>
<path d="M188.7,172.4 191.4,173.8 192.8,176.5 196.1,177.1 199.5,179.2 202.9,181.2 204.9,185.3 202.9,185.9 201.5,188.6 198.2,190 195.5,188 192.8,184.6 190.7,181.2 190.1,177.1Z" fill="#fac3b9" stroke="#dd9488" stroke-width="0.6" fill-opacity="0.88" stroke-linejoin="round"/>
<path d="M149.8,103.9 153.8,99.2 157.9,97.8 161.3,99.2 161.3,105.3 166,105.3 166,112 159.9,112 159.9,118.1 153.8,118.1 153.8,112 149.8,110Z" fill="#fac3b9" stroke="#dd9488" stroke-width="0.6" fill-opacity="0.88" stroke-linejoin="round"/>
<path d="M159.9,112.7 166,112.4 166.9,116.7 165.3,119.4 165.1,121.9 157.5,121.5 157.9,118.1 159.6,116.7Z" fill="#b32d4d" stroke="#94223e" stroke-width="0.6" fill-opacity="0.88" stroke-linejoin="round"/>
<path d="M157.9,95.8 163.3,94.4 166,97.8 168.7,100.5 171.4,103.9 168,105.3 164.6,104.6 161.3,102.5 158.6,99.2Z" fill="#f08b79" stroke="#d26f63" stroke-width="0.6" fill-opacity="0.88" stroke-linejoin="round"/>
<path d="M168.7,97.8 171.4,99.2 174.8,103.9 176.8,108 172.8,109.3 170.1,105.9 171.4,103.9 168.7,100.5Z" fill="#f08b79" stroke="#d26f63" stroke-width="0.6" fill-opacity="0.88" stroke-linejoin="round"/>
<path d="M171.4,91.7 176.8,90.4 179.5,95.1 178.2,96.5 174.1,99.8 171.4,99.2 170.7,95.1Z" fill="#fac3b9" stroke="#dd9488" stroke-width="0.6" fill-opacity="0.88" stroke-linejoin="round"/>
<path d="M178.2,90.4 183.6,90 183.6,95.1 179.5,95.1Z" fill="#fac3b9" stroke="#dd9488" stroke-width="0.6" fill-opacity="0.88" stroke-linejoin="round"/>
<path d="M178.8,99.2 181.5,98.5 183.6,101.9 180.9,102.5 178.6,101.2Z" fill="#fac3b9" stroke="#dd9488" stroke-width="0.6" fill-opacity="0.88" stroke-linejoin="round"/>
<path d="M176.8,105.9 180.2,106.6 181.5,110 184.2,110.7 184.2,113.4 179.5,112.7 176.8,110.7Z" fill="#fac3b9" stroke="#dd9488" stroke-width="0.6" fill-opacity="0.88" stroke-linejoin="round"/>
<path d="M171.4,110 176.8,110.7 178.8,115.4 175.5,118.1 172.8,115.4Z" fill="#fac3b9" stroke="#dd9488" stroke-width="0.6" fill-opacity="0.88" stroke-linejoin="round"/>
<path d="M181.5,119.4 186.9,118.8 191.7,118.1 195.1,119.4 195.1,122.1 191,122.8 186.9,122.1 181.5,122.4Z" fill="#fac3b9" stroke="#dd9488" stroke-width="0.6" fill-opacity="0.88" stroke-linejoin="round"/>
<path d="M175.5,119.4 179.5,118.8 181.5,122.4 178.8,124.8 174.8,123.5Z" fill="#fac3b9" stroke="#dd9488" stroke-width="0.6" fill-opacity="0.88" stroke-linejoin="round"/>
<path d="M202.5,108 209.9,101.9 211.9,105.9 214.6,111.3 211.3,114 205.9,117.4 202.5,115.4Z" fill="#fac3b9" stroke="#dd9488" stroke-width="0.6" fill-opacity="0.88" stroke-linejoin="round"/>
<path d="M214.6,113.4 219.4,112.7 222.1,116.1 220.1,118.8 216.7,119.4 215.1,116.7Z" fill="#f08b79" stroke="#d26f63" stroke-width="0.6" fill-opacity="0.88" stroke-linejoin="round"/>
<path d="M222.1,116.1 225.5,112 230.9,111.3 232.9,114 235.6,113.4 241,116.7 241.7,123.5 235.6,130.3 231.5,133.6 228.8,133 227.5,128.9 224.1,129.6 222.1,126.2 220.1,122.1 220.1,118.8Z" fill="#fac3b9" stroke="#dd9488" stroke-width="0.6" fill-opacity="0.88" stroke-linejoin="round"/>
<path d="M204.5,120.1 208.6,119.4 211.3,122.1 209.9,125.5 213.3,126.9 214.6,130.9 211.3,133 207.9,132.3 206.5,127.5 203.8,125.5Z" fill="#fac3b9" stroke="#dd9488" stroke-width="0.6" fill-opacity="0.88" stroke-linejoin="round"/>
<path d="M204.5,132.3 207.9,132.3 207.9,137.7 204.5,138.4Z" fill="#fac3b9" stroke="#dd9488" stroke-width="0.6" fill-opacity="0.88" stroke-linejoin="round"/>
<path d="M159.2,126.2 164,125.5 170.1,126.2 170.1,129.6 164,130 159.2,129.6Z" fill="#f08b79" stroke="#d26f63" stroke-width="0.6" fill-opacity="0.88" stroke-linejoin="round"/>
<path d="M164,123.5 170.1,124.2 170.1,126.2 164,125.5Z" fill="#fac3b9" stroke="#dd9488" stroke-width="0.6" fill-opacity="0.88" stroke-linejoin="round"/>
<path d="M167.4,132.3 172.1,133 172.8,135.7 168.7,135Z" fill="#f08b79" stroke="#d26f63" stroke-width="0.6" fill-opacity="0.88" stroke-linejoin="round"/>
<path d="M153.8,122.1 157.9,121.9 158.6,125.5 159.2,129.6 154.5,130.3 153.4,126.2Z" fill="#fac3b9" stroke="#dd9488" stroke-width="0.6" fill-opacity="0.88" stroke-linejoin="round"/>
<path d="M141,133 146.4,130.9 153.8,130.9 158.6,133 161.3,135.7 161.3,139.7 159.2,142.4 154.5,140.4 151.1,138.4 146.4,138.4 142.4,136.3Z" fill="#fac3b9" stroke="#dd9488" stroke-width="0.6" fill-opacity="0.88" stroke-linejoin="round"/>
<path d="M161.3,131.6 166,130.9 166.7,135.7 166,139 161.3,139.7Z" fill="#fac3b9" stroke="#dd9488" stroke-width="0.6" fill-opacity="0.88" stroke-linejoin="round"/>
<path d="M149.8,149.2 152.5,142.4 157.2,141.1 159.9,145.1 164.6,142.4 170.1,140.4 173.4,143.8 174.1,149.2 172.8,154.6 170.1,158 164.6,158.6 162.6,161.3 157.2,162 153.8,161.3 151.1,157.3Z" fill="#fac3b9" stroke="#dd9488" stroke-width="0.6" fill-opacity="0.88" stroke-linejoin="round"/>
<path d="M168.7,135.7 172.8,137 175.5,140.4 179.5,142.4 176.8,143.8 178.2,149.2 179.5,154.6 176.8,155.9 174.1,152.5 174.1,149.2 173.4,143.8 170.1,140.4Z" fill="#fac3b9" stroke="#dd9488" stroke-width="0.6" fill-opacity="0.88" stroke-linejoin="round"/>
<path d="M173.4,138.4 176.8,139 179.5,142.4 176.8,143.8 174.1,141.7Z" fill="#f08b79" stroke="#d26f63" stroke-width="0.6" fill-opacity="0.88" stroke-linejoin="round"/>
<path d="M177.5,135 181.5,133.6 186.3,135 186.9,137.7 184.2,139 180.2,139 177.2,137.7Z" fill="#fac3b9" stroke="#dd9488" stroke-width="0.6" fill-opacity="0.88" stroke-linejoin="round"/>
<path d="M191.7,142.4 197.8,141.7 201.8,143.8 203.2,147.1 201.8,150.5 199.1,149.2 197.1,145.8 192.4,145.1Z" fill="#fac3b9" stroke="#dd9488" stroke-width="0.6" fill-opacity="0.88" stroke-linejoin="round"/>
<path d="M207.9,152.5 214,149.2 218,147.8 222.1,149.8 223.4,152.5 218,153.9 212.6,155.3 208.6,154.6Z" fill="#fac3b9" stroke="#dd9488" stroke-width="0.6" fill-opacity="0.88" stroke-linejoin="round"/>
</g>
<rect x="206.5" y="201.6" width="150.1" height="22.9" fill="#fff"/>
<rect x="207.8" y="203.5" width="146.8" height="7.0" fill="url(#lg)"/>
<text x="208.3" y="221.6" font-size="8.6" fill="#777">1</text>
<text x="354.2" y="221.6" font-size="8.6" fill="#777" text-anchor="end">7</text>
<path d="M1,210V221.5H50" fill="none" stroke="#000" stroke-width="2.3"/>
<text x="33.2" y="214.9" font-size="14.6" textLength="41.8" lengthAdjust="spacingAndGlyphs" fill="#000">50 km</text>
</g>
<clipPath id="clip1"><rect x="0" y="0" width="354.6" height="222.5"/></clipPath>
<g id="map2" transform="translate(384.0,248.2)"><g clip-path="url(#clip1)">
<rect x="0" y="0" width="354.6" height="222.5" fill="#eff2d6"/>
<ellipse cx="282" cy="42" rx="78" ry="58" fill="url(#grn)"/>
<ellipse cx="300" cy="122" rx="62" ry="18" fill="url(#grn)"/>
<ellipse cx="160" cy="200" rx="55" ry="28" fill="url(#grn)" opacity="0.7"/>
<ellipse cx="60" cy="30" rx="70" ry="40" fill="url(#grn)" opacity="0.45"/>
<path d="M150.3,39.6 154.3,35.6 160.8,34.8 167.3,34 171.4,29.9 176.2,26.7 177.8,23.4 183.5,21.8 190,21 198.1,20.2 205.4,19.4 207.8,23.4 209.5,29.1 212.7,32.3 217.6,34 221.6,35.6 224.9,39.6 224.9,46.1 223.3,52.6 220,57.5 217.6,61.5 212.7,64 206.2,65.6 199.7,65.6 194.1,64 191.6,60.7 188.4,54.2 186.8,47.7 185.1,44.5 182.7,45.3 180.3,51 177,53.4 173,55.9 168.9,57.5 164.9,55 160.8,51 156,47.7 151.9,45.3Z" fill="#c3e6a9"/>
<path d="M250,27 254,25 257,31 262,36 268,40 272,43 268,44 260,41 254,36Z" fill="#c3e6a9"/>
<path d="M274,68 281,64 287,63 288,68 283,72 277,73Z" fill="#c3e6a9"/>
<path d="M304,44 307,42 308,52 305,56Z" fill="#c3e6a9"/>
<path d="M290,30 293,29 293,36 290,36Z" fill="#c3e6a9"/>
<path d="M180.3,38 190.8,36.4 190,40.4 183.5,43.7 179.5,42.1Z" fill="#eff2d6"/>
<path d="M337.1,100.7 356,102 356,123.7 349.2,123.7 342.5,119.6 338.4,112.9 339.8,106.1Z" fill="#d9eec3"/>
<path d="M311.4,126.4 319.5,123.7 327.6,122.3 330.3,127.7 331.7,131.8 320.9,133.2 312.8,133.8Z" fill="#d9eec3"/>
<ellipse cx="191" cy="121" rx="44" ry="41" fill="url(#urb)"/>
<ellipse cx="183" cy="70" rx="5" ry="6" fill="#ece9df"/>
<ellipse cx="305" cy="90" rx="6" ry="5" fill="#ece9df"/>
<ellipse cx="218" cy="147" rx="9" ry="7" fill="#ece9df"/>
<ellipse cx="98" cy="27" rx="5" ry="5" fill="#ece9df"/>
<path d="M62,0 70,10 80,18 88,26 94,34 100,42 108,50 114,56 120,62 122,72 118,82 120,92 124,102 122,112 126,124 132,134 140,142 150,152 158,164 166,176 176,190 186,202 192,211" fill="none" stroke="#8fd3ee" stroke-width="0.7" stroke-linejoin="round" stroke-linecap="round" stroke-dasharray="1.3 1.5" stroke-opacity="0.6"/>
<path d="M0,84 10,90 22,100 36,108 50,114 66,122 82.3,129.7 90,140 94,150 98.5,161.4 108,168 116,174 120,184 124,196 128,206 131,214 133,222" fill="none" stroke="#8fd3ee" stroke-width="0.7" stroke-linejoin="round" stroke-linecap="round" stroke-dasharray="1.3 1.5" stroke-opacity="0.6"/>
<path d="M231,26 234,38 238,50 240,62 243,76 246,90 247,102 248,114 250,122" fill="none" stroke="#8fd3ee" stroke-width="0.7" stroke-linejoin="round" stroke-linecap="round" stroke-dasharray="1.3 1.5" stroke-opacity="0.6"/>
<path d="M296,0 300,12 306,24 308,36 306,50 302,62 302,74 306,86 312,94 318,99 330,101" fill="none" stroke="#8fd3ee" stroke-width="0.7" stroke-linejoin="round" stroke-linecap="round" stroke-dasharray="1.3 1.5" stroke-opacity="0.6"/>
<path d="M347,16 344,30 344,44 349,58 352,70 348,82 346,94 340,100" fill="none" stroke="#8fd3ee" stroke-width="0.7" stroke-linejoin="round" stroke-linecap="round" stroke-dasharray="1.3 1.5" stroke-opacity="0.6"/>
<path d="M190,60 196,70 202,80 206,90 207,96" fill="none" stroke="#8fd3ee" stroke-width="0.7" stroke-linejoin="round" stroke-linecap="round" stroke-dasharray="1.3 1.5" stroke-opacity="0.6"/>
<path d="M207,108 212,116 218,122 226,126 234,130" fill="none" stroke="#8fd3ee" stroke-width="0.7" stroke-linejoin="round" stroke-linecap="round" stroke-dasharray="1.3 1.5" stroke-opacity="0.6"/>
<path d="M100,0 106,10 112,22 116,34 118,46 120,56" fill="none" stroke="#8fd3ee" stroke-width="0.7" stroke-linejoin="round" stroke-linecap="round" stroke-dasharray="1.3 1.5" stroke-opacity="0.6"/>
<path d="M40,150 52,166 62,182 72,196 80,206" fill="none" stroke="#8fd3ee" stroke-width="0.7" stroke-linejoin="round" stroke-linecap="round" stroke-dasharray="1.3 1.5" stroke-opacity="0.6"/>
<path d="M8,168 14,182 20,198 30,210 38,222" fill="none" stroke="#8fd3ee" stroke-width="0.7" stroke-linejoin="round" stroke-linecap="round" stroke-dasharray="1.3 1.5" stroke-opacity="0.6"/>
<path d="M12,6 24,14 36,22 48,28 58,36 66,40 74,44 80,40 84,34 92,30" fill="none" stroke="#8fd3ee" stroke-width="0.7" stroke-linejoin="round" stroke-linecap="round" stroke-dasharray="1.3 1.5" stroke-opacity="0.6"/>
<path d="M20,84 30,90 38,96" fill="none" stroke="#8fd3ee" stroke-width="0.7" stroke-linejoin="round" stroke-linecap="round" stroke-dasharray="1.3 1.5" stroke-opacity="0.6"/>
<path d="M0,76 6,82 4,90" fill="none" stroke="#8fd3ee" stroke-width="0.7" stroke-linejoin="round" stroke-linecap="round" stroke-dasharray="1.3 1.5" stroke-opacity="0.6"/>
<path d="M44,4 50,10 56,8" fill="none" stroke="#8fd3ee" stroke-width="0.7" stroke-linejoin="round" stroke-linecap="round" stroke-dasharray="1.3 1.5" stroke-opacity="0.6"/>
<path d="M130,0 134,10 140,18" fill="none" stroke="#8fd3ee" stroke-width="0.7" stroke-linejoin="round" stroke-linecap="round" stroke-dasharray="1.3 1.5" stroke-opacity="0.6"/>
<path d="M-0.3,40.2 38.5,30.2 56,23.9 71,13.9 78.5,6.4" fill="none" stroke="#f9f2d0" stroke-width="1.0" stroke-linejoin="round" stroke-linecap="round"/>
<path d="M97.3,26.9 88.5,31.4 78.5,36.4 63.5,46.4 46,63.9 28.5,75.2" fill="none" stroke="#f9f2d0" stroke-width="1.0" stroke-linejoin="round" stroke-linecap="round"/>
<path d="M39.8,1.4 41,23.9 40.5,51.4 44.8,68.9 46,78.9 49.8,93.9 52.3,108.9 50,122 46,132" fill="none" stroke="#f9f2d0" stroke-width="1.0" stroke-linejoin="round" stroke-linecap="round"/>
<path d="M97.3,26.9 111,13.9 113.5,1.4" fill="none" stroke="#f9f2d0" stroke-width="1.0" stroke-linejoin="round" stroke-linecap="round"/>
<path d="M95.5,81.4 83.5,56.4 91,41.4 97.3,26.9" fill="none" stroke="#f9f2d0" stroke-width="1.0" stroke-linejoin="round" stroke-linecap="round"/>
<path d="M124,57.7 143.5,53.9 158.5,43.9 173,21.9" fill="none" stroke="#f9f2d0" stroke-width="1.0" stroke-linejoin="round" stroke-linecap="round"/>
<path d="M95.5,81.4 106,68.9 124,57.7" fill="none" stroke="#f9f2d0" stroke-width="1.0" stroke-linejoin="round" stroke-linecap="round"/>
<path d="M-0.3,86.4 16,87.7 28.5,75.2" fill="none" stroke="#f9f2d0" stroke-width="1.0" stroke-linejoin="round" stroke-linecap="round"/>
<path d="M95.5,81.4 93.5,98.9 88.5,115.9 82.3,129.7" fill="none" stroke="#f9f2d0" stroke-width="1.0" stroke-linejoin="round" stroke-linecap="round"/>
<path d="M76.5,5.2 60,0" fill="none" stroke="#f9f2d0" stroke-width="1.0" stroke-linejoin="round" stroke-linecap="round"/>
<path d="M0,23 10,29 22,33 38.5,30.2" fill="none" stroke="#f9f2d0" stroke-width="1.0" stroke-linejoin="round" stroke-linecap="round"/>
<path d="M95.5,81.4 112,90 124,100 125.3,120 125.3,148.2" fill="none" stroke="#f9f2d0" stroke-width="1.0" stroke-linejoin="round" stroke-linecap="round"/>
<path d="M0,82 14,84 30,88 48,90 50,90" fill="none" stroke="#f9f2d0" stroke-width="1.0" stroke-linejoin="round" stroke-linecap="round"/>
<path d="M6,62 10,78 14,96 20,112 30.3,131.9" fill="none" stroke="#f9f2d0" stroke-width="1.0" stroke-linejoin="round" stroke-linecap="round"/>
<path d="M30.3,131.9 28,146 24.3,158.9 18,176 13.5,194.4 20,206 30,214 39.8,222" fill="none" stroke="#f9f2d0" stroke-width="1.0" stroke-linejoin="round" stroke-linecap="round"/>
<path d="M0,146 10,150 24.3,158.9 40,162 58,168 70,180 84.3,199.7" fill="none" stroke="#f9f2d0" stroke-width="1.0" stroke-linejoin="round" stroke-linecap="round"/>
<path d="M82.3,129.7 86,146 92,160 100,172 107.3,183.9" fill="none" stroke="#f9f2d0" stroke-width="1.0" stroke-linejoin="round" stroke-linecap="round"/>
<path d="M107.3,183.9 110,198 112,212 112.3,222" fill="none" stroke="#f9f2d0" stroke-width="1.0" stroke-linejoin="round" stroke-linecap="round"/>
<path d="M107.3,183.9 120,192 134.8,205.9 150,210 170,212 190.3,209" fill="none" stroke="#f9f2d0" stroke-width="1.0" stroke-linejoin="round" stroke-linecap="round"/>
<path d="M125.3,148.2 130,166 134,186 134.8,205.9" fill="none" stroke="#f9f2d0" stroke-width="1.0" stroke-linejoin="round" stroke-linecap="round"/>
<path d="M13.5,194.4 30,190 50,188 60,182 70,180" fill="none" stroke="#f9f2d0" stroke-width="1.0" stroke-linejoin="round" stroke-linecap="round"/>
<path d="M46,132 47,150 47,170 46,190 44,206" fill="none" stroke="#f9f2d0" stroke-width="1.0" stroke-linejoin="round" stroke-linecap="round"/>
<path d="M173,21.9 190,20 210,22 229.3,23.2 245,22 256,21.4 272,18 290,14 310,8 324,3.4 336,0" fill="none" stroke="#f9f2d0" stroke-width="1.0" stroke-linejoin="round" stroke-linecap="round"/>
<path d="M229.3,23.2 226,36 220,48" fill="none" stroke="#f9f2d0" stroke-width="1.0" stroke-linejoin="round" stroke-linecap="round"/>
<path d="M216,60.5 230,66 246,70 262,72 280,72 296.8,70.9" fill="none" stroke="#f9f2d0" stroke-width="1.0" stroke-linejoin="round" stroke-linecap="round"/>
<path d="M216,60.5 200,62 182,66 168,70 154.8,76.4" fill="none" stroke="#f9f2d0" stroke-width="1.0" stroke-linejoin="round" stroke-linecap="round"/>
<path d="M242.3,92.7 242,78 240,60 236,44 229.3,23.2" fill="none" stroke="#f9f2d0" stroke-width="1.0" stroke-linejoin="round" stroke-linecap="round"/>
<path d="M242.3,92.7 246,104 246,114" fill="none" stroke="#f9f2d0" stroke-width="1.0" stroke-linejoin="round" stroke-linecap="round"/>
<path d="M296.8,70.9 312,66 328,58 340,46 348,30 348,20.2 346,0" fill="none" stroke="#f9f2d0" stroke-width="1.0" stroke-linejoin="round" stroke-linecap="round"/>
<path d="M305.3,89.5 316,84 326,80 339,89.5" fill="none" stroke="#f9f2d0" stroke-width="1.0" stroke-linejoin="round" stroke-linecap="round"/>
<path d="M256,21.4 262,36 270,52 282,64 296.8,70.9" fill="none" stroke="#f9f2d0" stroke-width="1.0" stroke-linejoin="round" stroke-linecap="round"/>
<path d="M261,114.3 262,128 266,140 270,150" fill="none" stroke="#f9f2d0" stroke-width="1.0" stroke-linejoin="round" stroke-linecap="round"/>
<path d="M226.8,126.9 236,120 246,114.2" fill="none" stroke="#f9f2d0" stroke-width="1.0" stroke-linejoin="round" stroke-linecap="round"/>
<path d="M154.8,76.4 148,86 133,89" fill="none" stroke="#f9f2d0" stroke-width="1.0" stroke-linejoin="round" stroke-linecap="round"/>
<path d="M133,89 140,104 146,116 148,122" fill="none" stroke="#f9f2d0" stroke-width="1.0" stroke-linejoin="round" stroke-linecap="round"/>
<path d="M160,141.5 158,156 160,172 166,186 178,200 190.3,209" fill="none" stroke="#f9f2d0" stroke-width="1.0" stroke-linejoin="round" stroke-linecap="round"/>
<path d="M184,175 200,180 214,178 226,172" fill="none" stroke="#f9f2d0" stroke-width="1.0" stroke-linejoin="round" stroke-linecap="round"/>
<path d="M216.7,150.5 206,154 196,156 188.5,150" fill="none" stroke="#f9f2d0" stroke-width="1.0" stroke-linejoin="round" stroke-linecap="round"/>
<path d="M339,89.5 344,100 348,110" fill="none" stroke="#f9f2d0" stroke-width="1.0" stroke-linejoin="round" stroke-linecap="round"/>
<path d="M174.4,222.5 179.8,220.4 186.3,216.6 192.8,211.7 199.2,206.9 206.8,201.5 216.5,193.4 226.3,185.8 236,178.2 244.9,172.2 250.6,164.6 258.1,157.1 267.6,151.4 278.9,146.7 286.8,142.9 297.6,138 308.4,134.2 319.2,132.6 330.1,132.1 334.4,129.4 340.9,126.7 349.5,125 356.5,124.3 356.5,222.5Z" fill="#72cef1"/>
<path d="M242.2,121.1 240.6,123.8 238.9,126.5 237.3,129.8 235.1,132.5 232.4,134.6 229.7,133.6 227,133 224.9,134.6 223.8,137.3 224.5,140.6 226,143.8 228,147.1 229.5,150.3 231.5,152.6 229.7,155.3 231.4,158.6 234.6,162.3 234,166 235.7,170.5 238.9,173.7 243,174.5 245.4,173.7 247.5,169.5 251.5,164 256,159 262,154.8 268.5,151.2 275,148 279,145.8 278.5,143.2 271.4,143.2 262.7,144.5 255.1,146.7 249.7,148.3 245.4,148.8 248.1,142.7 249.7,139.5 251.4,135.2 252.4,130.9 253,126.5 254.1,123.8 255.7,121.1 253,117.9 247.6,119.5Z" fill="#72cef1"/>
<path d="M245,172.5 238,170 232,168 229,171 226.8,174.6 221.9,177.9 217,182.7 211.4,184.4 207.3,187.6 208,192 204,196 200.3,200.4 199,207 206.8,201.5 216.5,193.4 226.3,185.8 236,178.2 244.9,172.5Z" fill="#72cef1"/>
<path d="M329,102 334.4,100 338.4,103.4 337.1,110.2 334.4,115.6 329,119 325.5,121 327.5,125 331,132.4 329,132.6 324.5,123.5 322.2,116.9 324.9,111.5 327.6,106.1Z" fill="#72cef1"/>
<ellipse cx="6" cy="25.5" rx="6" ry="4" fill="#c3e6a9"/>
<path d="M206.2,17.7 210.3,14.5 215.1,13.7 217.6,16.1 216.8,20.2 219.2,23.4 223.3,25.9 224.1,29.9 220.8,32.3 216.8,32.3 213.5,29.9 211.9,26.7 208.7,23.4 206.2,21Z" fill="#72cef1"/>
<path d="M188.4,6.4 192.4,3.2 197.3,1.5 201.4,0.7 203,3.2 200.6,6.4 204.6,8.8 207.8,12.1 210.3,14.5 206.2,15.3 203,12.1 198.9,9.6 195.7,8 191.6,8.8Z" fill="#72cef1"/>
<path d="M165.7,38.8 168.1,39.6 169.7,43.7 173,46.9 177,48.6 176.2,51.8 173,53.4 172.2,58.3 168.9,60.7 164.9,56.7 163.3,55 166.5,52.6 168.9,51 169.7,48.6 167.3,46.1 165.7,42.1Z" fill="#72cef1"/>
<path d="M69,65.8 73,64.6 77,63.6 81.5,62.2 83.4,63.4 80.5,66 76.5,67.2 72,67.8Z" fill="#72cef1"/>
<path d="M3,25 5.5,23.2 9,22.8 9.6,24.5 7,26.3 4,27.5Z" fill="#72cef1"/>
<path d="M125,30 128.5,29 128,32.5 125.5,34Z" fill="#72cef1"/>
<path d="M33.5,36.5 36,36 35.5,39 33.5,39.5Z" fill="#72cef1"/>
<path d="M63.5,104 66.5,103.5 66.5,107.5 63.5,108Z" fill="#72cef1"/>
<path d="M12.5,81 14.5,80.5 14.5,84.5 12.5,85Z" fill="#72cef1"/>
<path d="M80.5,205.5 83.5,204.5 84,208.5 82,212 80.5,216 78,216 79,211.5Z" fill="#72cef1"/>
<path d="M100,143 102,142.5 102.2,145 100.2,145.5Z" fill="#72cef1"/>
<path d="M297,111 300,110 301,113 298,114.5Z" fill="#72cef1"/>
<path d="M243.8,173.3 238.9,177.6 233.5,182 228.1,186.3 222.7,190.1 217.3,193.9 211.9,197.7 206.8,201 200,205.8" fill="none" stroke="#f3f1da" stroke-width="1.5" stroke-linejoin="round" stroke-linecap="round"/>
<path d="M249.5,166.5 253,162.3 258.4,157 264.5,153.3 271,150.2 278,147.3 285,144.5 292,141.2" fill="none" stroke="#f3f1da" stroke-width="1.9" stroke-linejoin="round" stroke-linecap="round"/>
<path d="M0,134.4 14,133.5 30.3,131.9 56,130.8 82.3,129.7 100,126.5 121,123.2 146.5,122.5 173.9,122.7 191.1,123.4 210.4,123.4 214.6,122.1 219.5,120.3 229.2,118.5 236.5,117.3 246,116 252,116.7 262.8,116.7 280,116.7 289.5,108.5 297.6,98.8 305.7,90.7 320,90 339,89.5 355,88.5" fill="none" stroke="#f4bd8a" stroke-width="0.75" stroke-linejoin="round" stroke-linecap="round" stroke-opacity="0.9"/>
<path d="M191.1,124.2 189.1,113 186.6,106.3 185.4,98.4 184.2,86.3 183,74.1 182.7,65.6 180.3,55.9 179.1,47.7 178.3,38 177,28.3 174.1,21.8 168.9,16.9 157.6,8.8 149.5,-0.9" fill="none" stroke="#f4bd8a" stroke-width="0.75" stroke-linejoin="round" stroke-linecap="round" stroke-opacity="0.9"/>
<path d="M191.1,124.2 197.6,131.9 203.7,138.6 210.4,145.9 217,153.2 224.3,161.7 232,168.5 239,172.5 243.6,173.6" fill="none" stroke="#f4bd8a" stroke-width="0.75" stroke-linejoin="round" stroke-linecap="round" stroke-opacity="0.9"/>
<path d="M191.1,124.2 193.9,114.2 197.6,104.5 201.2,94.8 206.1,83.8 209.7,74.1 212.7,67.2 216,60.7 224.9,46.1 228.9,34.8 231,23.4 237,8.8 240.3,-0.9" fill="none" stroke="#f4bd8a" stroke-width="0.75" stroke-linejoin="round" stroke-linecap="round" stroke-opacity="0.9"/>
<path d="M191.1,124.2 183,131.3 173.9,137.3 162.3,144.6 153.8,149.5 146.5,153.2 136,158 125.3,164 118,172 108.5,183.5 96,192 84.3,199.7 71,206.4 55,213 40,219" fill="none" stroke="#f4bd8a" stroke-width="0.75" stroke-linejoin="round" stroke-linecap="round" stroke-opacity="0.9"/>
<path d="M183,120.9 173.9,110.6 160.5,102.7 153.8,98.4 146.5,94.2 132.8,88.9 113.5,85.2 95.5,81.4 71,80.2 46,78.9 28.5,75.2 6,61.9 0,59.5" fill="none" stroke="#f4bd8a" stroke-width="0.75" stroke-linejoin="round" stroke-linecap="round" stroke-opacity="0.9"/>
<path d="M189.1,131.3 188.5,141.6 188.5,152 187.9,164.1 185,175 185,190 188,202 190.3,209" fill="none" stroke="#f4bd8a" stroke-width="0.75" stroke-linejoin="round" stroke-linecap="round" stroke-opacity="0.9"/>
<path d="M200.6,127.6 210.4,128.2 219.5,127.6 227,127.3" fill="none" stroke="#f4bd8a" stroke-width="0.75" stroke-linejoin="round" stroke-linecap="round" stroke-opacity="0.9"/>
<path d="M197.6,104.5 208,101 220,97.5 232,94.5 242.3,92.7 262,91 284,89.5 305.3,89.5" fill="none" stroke="#f6e3b4" stroke-width="0.9" stroke-linejoin="round" stroke-linecap="round"/>
<path d="M186.6,106.3 176.9,96 169.6,88.7 164.7,82.6 156,76.6 144,68 132,61 124,57.7" fill="none" stroke="#f6e3b4" stroke-width="0.9" stroke-linejoin="round" stroke-linecap="round"/>
<path d="M227,127.3 226,136 224,146 221,154 217,153.2" fill="none" stroke="#f6e3b4" stroke-width="0.9" stroke-linejoin="round" stroke-linecap="round"/>
<path d="M76.5,5.2 88,17 97.3,26.9 106,35 114,45 124,57.7 128,70 131,80 133,89" fill="none" stroke="#f6e3b4" stroke-width="0.9" stroke-linejoin="round" stroke-linecap="round"/>
<path d="M305.3,89.5 301,80 296.8,70.9 292,58 284,42 277,26 271,11 268,0" fill="none" stroke="#f6e3b4" stroke-width="0.9" stroke-linejoin="round" stroke-linecap="round"/>
<path d="M305.3,89.5 312,96 320,103 326,110" fill="none" stroke="#f6e3b4" stroke-width="0.9" stroke-linejoin="round" stroke-linecap="round"/>
<path d="M280,116.7 294,115 306,113.5 316,109 326,104" fill="none" stroke="#f6e3b4" stroke-width="0.9" stroke-linejoin="round" stroke-linecap="round"/>
<path d="M191.1,124.2 189.3,114.2 188.5,106.3 187.6,96 187.2,88.7 186,79" fill="none" stroke="#f4bd8a" stroke-width="0.6" stroke-linejoin="round" stroke-linecap="round" stroke-opacity="0.8"/>
<path d="M153.8,98.4 154,110.6 154.4,122.7 153.8,137.3 157.4,147.1" fill="none" stroke="#f4bd8a" stroke-width="0.6" stroke-linejoin="round" stroke-linecap="round" stroke-opacity="0.8"/>
<path d="M160.5,102.7 173.9,106.3 180.6,102.1 186.6,98.4 201.2,94.8 207.3,93.6" fill="none" stroke="#f4bd8a" stroke-width="0.6" stroke-linejoin="round" stroke-linecap="round" stroke-opacity="0.8"/>
<path d="M146.5,131.3 162.3,130.7 173.9,128.8 183,127.6" fill="none" stroke="#f4bd8a" stroke-width="0.6" stroke-linejoin="round" stroke-linecap="round" stroke-opacity="0.8"/>
<path d="M176.3,106.3 207.9,106.3 210.4,108.8 210.4,139.2 207.9,141.6 176.3,141.6 173.9,139.2 173.9,108.8 176.3,106.3" fill="none" stroke="#f4bd8a" stroke-width="0.7" stroke-linejoin="round" stroke-linecap="round"/>
<path d="M184.8,119.7 198.2,119.7 200.3,121.8 200.6,129.4 198.8,131.5 184.8,131.9 183,130 183,121.5 184.8,119.7" fill="none" stroke="#f4bd8a" stroke-width="0.7" stroke-linejoin="round" stroke-linecap="round"/>
<path d="M207.9,94.2 210.4,95 213.2,96.6 212.8,100.2 210.7,103.3 210,106 212.8,109.4 211.6,112 209.7,110.6 208.3,106 209.5,102.3 211,99 209.7,97.2 207.3,96Z" fill="#72cef1"/>
<path d="M211.6,112 214.6,115.5 217.7,118.5 219.5,122.7 220.7,126.4" fill="none" stroke="#72cef1" stroke-width="0.8" stroke-linejoin="round" stroke-linecap="round"/>
<path d="M157.9,122.8 164,122.6 163.2,126.6 157.2,127.5Z" fill="#cfe9b6"/>
<path d="M165.3,162.7 169.5,162.2 170,165.8 166,166.4Z" fill="#cfe9b6"/>
<path d="M208,88 211,87.6 211,90 208,90.4Z" fill="#cfe9b6"/>
<rect x="36" y="48.5" width="7.5" height="6.8" rx="3" fill="#fff" stroke="#777" stroke-width="0.5"/>
<text x="39.8" y="53.4" font-size="4.2" text-anchor="middle" fill="#333" font-weight="bold">77</text>
<rect x="251.5" y="18" width="9" height="6.8" rx="3" fill="#fff" stroke="#777" stroke-width="0.5"/>
<text x="256" y="22.9" font-size="4.2" text-anchor="middle" fill="#333" font-weight="bold">190</text>
<rect x="266.5" y="8" width="9" height="6.8" rx="3" fill="#fff" stroke="#777" stroke-width="0.5"/>
<text x="271" y="12.9" font-size="4.2" text-anchor="middle" fill="#333" font-weight="bold">287</text>
<rect x="319.5" y="0" width="9" height="6.8" rx="3" fill="#fff" stroke="#777" stroke-width="0.5"/>
<text x="324" y="4.9" font-size="4.2" text-anchor="middle" fill="#333" font-weight="bold">190</text>
<rect x="178.5" y="171.3" width="9" height="6.8" rx="3" fill="#fff" stroke="#777" stroke-width="0.5"/>
<text x="183" y="176.2" font-size="4.2" text-anchor="middle" fill="#333" font-weight="bold">288</text>
<rect x="302.2" y="110" width="7.5" height="6.8" rx="3" fill="#fff" stroke="#777" stroke-width="0.5"/>
<text x="306" y="114.9" font-size="4.2" text-anchor="middle" fill="#333" font-weight="bold">73</text>
<rect x="21.8" y="202.3" width="7.5" height="6.8" rx="3" fill="#fff" stroke="#777" stroke-width="0.5"/>
<text x="25.5" y="207.2" font-size="4.2" text-anchor="middle" fill="#333" font-weight="bold">87</text>
<rect x="108.5" y="216.8" width="7.5" height="6.8" rx="3" fill="#fff" stroke="#777" stroke-width="0.5"/>
<text x="112.3" y="221.7" font-size="4.2" text-anchor="middle" fill="#333" font-weight="bold">35</text>
<path d="M175.5,44.3H182.7V48.2Q182.3,50.7 179.1,51.7Q175.9,50.7 175.5,48.2Z" fill="#4a66b8"/>
<rect x="175.5" y="44.3" width="7.2" height="1.8" fill="#d0465a"/>
<text x="179.1" y="49.9" font-size="4" text-anchor="middle" fill="#fff" font-weight="bold">45</text>
<path d="M259.2,112.1H266.4V116Q266,118.5 262.8,119.5Q259.6,118.5 259.2,116Z" fill="#4a66b8"/>
<rect x="259.2" y="112.1" width="7.2" height="1.8" fill="#d0465a"/>
<text x="262.8" y="117.7" font-size="4" text-anchor="middle" fill="#fff" font-weight="bold">10</text>
<rect x="75.7" y="4.4" width="1.6" height="1.6" fill="#333"/>
<text x="76.5" y="0.9" font-size="5.7" text-anchor="middle" fill="#555" font-weight="normal" stroke="#f6f6e6" stroke-width="0.9" paint-order="stroke" stroke-opacity="0.7">Hearne</text>
<rect x="96.5" y="26.1" width="1.6" height="1.6" fill="#333"/>
<text x="97.3" y="23.5" font-size="5.7" text-anchor="middle" fill="#555" font-weight="normal" stroke="#f6f6e6" stroke-width="0.9" paint-order="stroke" stroke-opacity="0.7">Bryan</text>
<rect x="122.7" y="56.9" width="1.6" height="1.6" fill="#333"/>
<text x="123.5" y="54.3" font-size="5.7" text-anchor="middle" fill="#555" font-weight="normal" stroke="#f6f6e6" stroke-width="0.9" paint-order="stroke" stroke-opacity="0.7">Navasota</text>
<rect x="94.7" y="80.6" width="1.6" height="1.6" fill="#333"/>
<text x="95.5" y="77.8" font-size="5.7" text-anchor="middle" fill="#555" font-weight="normal" stroke="#f6f6e6" stroke-width="0.9" paint-order="stroke" stroke-opacity="0.7">Brenham</text>
<rect x="5.2" y="61.1" width="1.6" height="1.6" fill="#333"/>
<text x="6" y="58.5" font-size="5.7" text-anchor="middle" fill="#555" font-weight="normal" stroke="#f6f6e6" stroke-width="0.9" paint-order="stroke" stroke-opacity="0.7">Elgin</text>
<rect x="132" y="88.1" width="1.6" height="1.6" fill="#333"/>
<text x="132.8" y="85.5" font-size="5.7" text-anchor="middle" fill="#555" font-weight="normal" stroke="#f6f6e6" stroke-width="0.9" paint-order="stroke" stroke-opacity="0.7">Prairie View</text>
<rect x="155.2" y="75.8" width="1.6" height="1.6" fill="#333"/>
<text x="156" y="73" font-size="5.7" text-anchor="middle" fill="#555" font-weight="normal" stroke="#f6f6e6" stroke-width="0.9" paint-order="stroke" stroke-opacity="0.7">Magnolia</text>
<rect x="173.3" y="21" width="1.6" height="1.6" fill="#333"/>
<text x="174.1" y="18.3" font-size="5.7" text-anchor="middle" fill="#555" font-weight="normal" stroke="#f6f6e6" stroke-width="0.9" paint-order="stroke" stroke-opacity="0.7">Huntsville</text>
<rect x="230.4" y="22.6" width="1.6" height="1.6" fill="#333"/>
<text x="231.2" y="19.5" font-size="5.7" text-anchor="middle" fill="#555" font-weight="normal" stroke="#f6f6e6" stroke-width="0.9" paint-order="stroke" stroke-opacity="0.7">Livingston</text>
<rect x="345.7" y="19.4" width="1.6" height="1.6" fill="#333"/>
<text x="346.5" y="16.8" font-size="5.7" text-anchor="middle" fill="#555" font-weight="normal" stroke="#f6f6e6" stroke-width="0.9" paint-order="stroke" stroke-opacity="0.7">Bon Wier</text>
<rect x="181.9" y="64.8" width="1.6" height="1.6" fill="#333"/>
<text x="182.7" y="62.5" font-size="5.7" text-anchor="middle" fill="#555" font-weight="normal" stroke="#f6f6e6" stroke-width="0.9" paint-order="stroke" stroke-opacity="0.7">Conroe</text>
<rect x="296" y="70.1" width="1.6" height="1.6" fill="#333"/>
<text x="296.8" y="67.3" font-size="5.7" text-anchor="middle" fill="#555" font-weight="normal" stroke="#f6f6e6" stroke-width="0.9" paint-order="stroke" stroke-opacity="0.7">Lumberton</text>
<rect x="304.5" y="88.1" width="1.6" height="1.6" fill="#333"/>
<text x="305.3" y="85.7" font-size="7.0" text-anchor="middle" fill="#555" font-weight="normal" stroke="#f6f6e6" stroke-width="0.9" paint-order="stroke" stroke-opacity="0.7">Beaumont</text>
<rect x="338.2" y="88.1" width="1.6" height="1.6" fill="#333"/>
<text x="339" y="85.5" font-size="5.7" text-anchor="middle" fill="#555" font-weight="normal" stroke="#f6f6e6" stroke-width="0.9" paint-order="stroke" stroke-opacity="0.7">Orange</text>
<rect x="241.5" y="91.9" width="1.6" height="1.6" fill="#333"/>
<text x="242.3" y="89.3" font-size="5.7" text-anchor="middle" fill="#555" font-weight="normal" stroke="#f6f6e6" stroke-width="0.9" paint-order="stroke" stroke-opacity="0.7">Liberty</text>
<rect x="207.1" y="92.8" width="1.6" height="1.6" fill="#333"/>
<text x="207.9" y="90.6" font-size="5.7" text-anchor="middle" fill="#555" font-weight="normal" stroke="#f6f6e6" stroke-width="0.9" paint-order="stroke" stroke-opacity="0.7">Kingwood</text>
<rect x="159.7" y="101.9" width="1.6" height="1.6" fill="#333"/>
<text x="160.5" y="99.1" font-size="5.7" text-anchor="middle" fill="#555" font-weight="normal" stroke="#f6f6e6" stroke-width="0.9" paint-order="stroke" stroke-opacity="0.7">Cypress</text>
<rect x="226.2" y="126.5" width="1.6" height="1.6" fill="#333"/>
<text x="227" y="123.3" font-size="5.7" text-anchor="middle" fill="#555" font-weight="normal" stroke="#f6f6e6" stroke-width="0.9" paint-order="stroke" stroke-opacity="0.7">Baytown</text>
<rect x="29.5" y="131.1" width="1.6" height="1.6" fill="#333"/>
<text x="30.3" y="128.5" font-size="5.7" text-anchor="middle" fill="#555" font-weight="normal" stroke="#f6f6e6" stroke-width="0.9" paint-order="stroke" stroke-opacity="0.7">Flatonia</text>
<rect x="81.5" y="128.9" width="1.6" height="1.6" fill="#333"/>
<text x="82.3" y="126" font-size="5.7" text-anchor="middle" fill="#555" font-weight="normal" stroke="#f6f6e6" stroke-width="0.9" paint-order="stroke" stroke-opacity="0.7">Columbus</text>
<rect x="124.5" y="147.4" width="1.6" height="1.6" fill="#333"/>
<text x="125.3" y="144.8" font-size="5.7" text-anchor="middle" fill="#555" font-weight="normal" stroke="#f6f6e6" stroke-width="0.9" paint-order="stroke" stroke-opacity="0.7">East Bernard</text>
<rect x="23.5" y="158.1" width="1.6" height="1.6" fill="#333"/>
<text x="24.3" y="155.3" font-size="5.7" text-anchor="middle" fill="#555" font-weight="normal" stroke="#f6f6e6" stroke-width="0.9" paint-order="stroke" stroke-opacity="0.7">Shiner</text>
<rect x="106.5" y="183.1" width="1.6" height="1.6" fill="#333"/>
<text x="107.3" y="180.3" font-size="5.7" text-anchor="middle" fill="#555" font-weight="normal" stroke="#f6f6e6" stroke-width="0.9" paint-order="stroke" stroke-opacity="0.7">El Campo</text>
<rect x="12.7" y="193.6" width="1.6" height="1.6" fill="#333"/>
<text x="13.5" y="191" font-size="5.7" text-anchor="middle" fill="#555" font-weight="normal" stroke="#f6f6e6" stroke-width="0.9" paint-order="stroke" stroke-opacity="0.7">Cuero</text>
<rect x="83.5" y="198.9" width="1.6" height="1.6" fill="#333"/>
<text x="84.3" y="196" font-size="5.7" text-anchor="middle" fill="#555" font-weight="normal" stroke="#f6f6e6" stroke-width="0.9" paint-order="stroke" stroke-opacity="0.7">Ganado</text>
<rect x="134" y="205.1" width="1.6" height="1.6" fill="#333"/>
<text x="134.8" y="202.3" font-size="5.7" text-anchor="middle" fill="#555" font-weight="normal" stroke="#f6f6e6" stroke-width="0.9" paint-order="stroke" stroke-opacity="0.7">Bay City</text>
<rect x="215.6" y="149.7" width="1.6" height="1.6" fill="#333"/>
<text x="216.4" y="147.1" font-size="5.7" text-anchor="middle" fill="#555" font-weight="normal" stroke="#f6f6e6" stroke-width="0.9" paint-order="stroke" stroke-opacity="0.7">League City</text>
<rect x="242.8" y="172.7" width="1.6" height="1.6" fill="#333"/>
<text x="243.6" y="170" font-size="5.7" text-anchor="middle" fill="#555" font-weight="normal" stroke="#f6f6e6" stroke-width="0.9" paint-order="stroke" stroke-opacity="0.7">Galveston</text>
<rect x="189.5" y="208.1" width="1.6" height="1.6" fill="#333"/>
<text x="190.3" y="205.5" font-size="5.7" text-anchor="middle" fill="#555" font-weight="normal" stroke="#f6f6e6" stroke-width="0.9" paint-order="stroke" stroke-opacity="0.7">Freeport</text>
<text x="10.3" y="148" font-size="5.7" text-anchor="end" fill="#555">ales</text>
<text x="39.8" y="220.5" font-size="6.5" text-anchor="middle" fill="#555" font-weight="normal" stroke="#f6f6e6" stroke-width="0.9" paint-order="stroke" stroke-opacity="0.7">Victoria</text>
<text x="216" y="48.5" font-size="6.8" text-anchor="middle" fill="#555" font-weight="normal" stroke="#f6f6e6" stroke-width="0.9" paint-order="stroke" stroke-opacity="0.7">North</text>
<text x="216" y="55.8" font-size="6.8" text-anchor="middle" fill="#555" font-weight="normal" stroke="#f6f6e6" stroke-width="0.9" paint-order="stroke" stroke-opacity="0.7">Cleveland</text>
<rect x="215.2" y="59.9" width="1.6" height="1.6" fill="#333"/>
<circle cx="191.1" cy="124.2" r="1.2" fill="#222"/>
<text x="191.1" y="132.4" font-size="8.9" text-anchor="middle" fill="#333" font-weight="normal" stroke="#f6f6e6" stroke-width="0.9" paint-order="stroke" stroke-opacity="0.7">Houston</text>
<path d="M85.5,65 91.9,61.8 98.4,60.2 104.9,58.6 109,61 114.6,58.6 117.9,57.7 116.3,60.2 112.2,62.6 108.2,64.2 107.3,68.3 111.4,71.5 110.6,76.4 106.5,79.6 105.7,83.7 100.9,85.3 101.7,89.4 97.6,92.6 90.3,93.4 85.5,95.9 83,97.5 81.4,92.6 83,87.7 81.4,83.7 79,80.4 82.2,78 85.5,75.6 83.8,70.7 82.2,68.3Z" fill="#fac3b9" stroke="#dd9488" stroke-width="0.6" fill-opacity="0.88" stroke-linejoin="round"/>
<path d="M149.5,48 153.6,44 159.2,40.7 163.3,42.3 166.5,44.8 169.8,46.4 169.8,61 161.7,60.7 153.6,61.3 148.7,60.2 150.3,55.3 148.7,52.1Z" fill="#fac3b9" stroke="#dd9488" stroke-width="0.6" fill-opacity="0.88" stroke-linejoin="round"/>
<path d="M169.8,46.4 177.9,45.6 177.9,51.3 179.5,56.1 177.9,61 169.8,61Z" fill="#fac3b9" stroke="#dd9488" stroke-width="0.6" fill-opacity="0.88" stroke-linejoin="round"/>
<path d="M147.9,74.8 151.9,73.1 156.8,77.2 160.9,82.1 164.9,84.5 163.3,87.7 156.8,87.7 152.8,84.5 149.5,79.6Z" fill="#fac3b9" stroke="#dd9488" stroke-width="0.6" fill-opacity="0.88" stroke-linejoin="round"/>
<path d="M165.7,86.1 171.4,82.9 173.8,87.7 170.6,94.2 167.3,91.8Z" fill="#fac3b9" stroke="#dd9488" stroke-width="0.6" fill-opacity="0.88" stroke-linejoin="round"/>
<path d="M170.6,94.2 176.3,90.2 180.3,94.2 176.3,99.1 172.2,97.5Z" fill="#fac3b9" stroke="#dd9488" stroke-width="0.6" fill-opacity="0.88" stroke-linejoin="round"/>
<path d="M174.6,71.5 179.5,69.9 182.8,74 181.9,78.8 177.9,78 175.5,74.8Z" fill="#fac3b9" stroke="#dd9488" stroke-width="0.6" fill-opacity="0.88" stroke-linejoin="round"/>
<path d="M170.6,78 174.6,76.4 176.3,79.6 173,81.3 170.6,80.4Z" fill="#fac3b9" stroke="#dd9488" stroke-width="0.6" fill-opacity="0.88" stroke-linejoin="round"/>
<path d="M141.4,107.2 147.1,105.6 150.3,107.2 151.1,112.1 153.6,112.9 153.6,122.6 141.4,122.6Z" fill="#fac3b9" stroke="#dd9488" stroke-width="0.6" fill-opacity="0.88" stroke-linejoin="round"/>
<path d="M171.1,93.2 176.8,89.1 180.9,94 176.8,99.6 171.9,98Z" fill="#fac3b9" stroke="#dd9488" stroke-width="0.6" fill-opacity="0.88" stroke-linejoin="round"/>
<path d="M171.1,106.1 174.4,102.9 177.6,108.6 171.1,109.4Z" fill="#b32d4d" stroke="#94223e" stroke-width="0.6" fill-opacity="0.88" stroke-linejoin="round"/>
<path d="M177.6,106.1 181.7,106.1 181.7,109.4 177.6,109.4Z" fill="#fac3b9" stroke="#dd9488" stroke-width="0.6" fill-opacity="0.88" stroke-linejoin="round"/>
<path d="M146,106.1 150.1,104.5 153.3,110.2 152.5,116.7 154.1,121.5 146,121.5Z" fill="#fac3b9" stroke="#dd9488" stroke-width="0.6" fill-opacity="0.88" stroke-linejoin="round"/>
<path d="M154.1,112.6 161.4,112.3 160.6,116.7 158.2,121.5 152.5,121.2 153.3,116.7Z" fill="#b32d4d" stroke="#94223e" stroke-width="0.6" fill-opacity="0.88" stroke-linejoin="round"/>
<path d="M162.2,113.4 167.1,112.6 167.9,117.5 163,118.3Z" fill="#fac3b9" stroke="#dd9488" stroke-width="0.6" fill-opacity="0.88" stroke-linejoin="round"/>
<path d="M167.9,110.2 172.8,111.8 176,116.7 169.5,117.5Z" fill="#fac3b9" stroke="#dd9488" stroke-width="0.6" fill-opacity="0.88" stroke-linejoin="round"/>
<path d="M165.5,119.1 168.7,118.3 172.8,122.3 170.3,124.8 166.3,122.3Z" fill="#f08b79" stroke="#d26f63" stroke-width="0.6" fill-opacity="0.88" stroke-linejoin="round"/>
<path d="M184.1,120.7 189,120.4 189.8,124.3 184.1,124.3Z" fill="#f08b79" stroke="#d26f63" stroke-width="0.6" fill-opacity="0.88" stroke-linejoin="round"/>
<path d="M146,132.1 154.1,130.4 158.2,136.1 159.8,141 155.7,140.2 150.9,137.7 146,139.4Z" fill="#fac3b9" stroke="#dd9488" stroke-width="0.6" fill-opacity="0.88" stroke-linejoin="round"/>
<path d="M154.1,130.4 159.8,128.8 162.2,134.5 161.4,140.2 158.2,136.1Z" fill="#b32d4d" stroke="#94223e" stroke-width="0.6" fill-opacity="0.88" stroke-linejoin="round"/>
<path d="M159.8,141 165.5,140.2 170.3,144.2 172.8,149.9 168.7,149.1 164.6,146.7 160.6,145.9Z" fill="#fac3b9" stroke="#dd9488" stroke-width="0.6" fill-opacity="0.88" stroke-linejoin="round"/>
<path d="M166.3,137.7 169.5,136.9 170.3,140.2 167.1,140.5Z" fill="#fac3b9" stroke="#dd9488" stroke-width="0.6" fill-opacity="0.88" stroke-linejoin="round"/>
<path d="M171.1,137.7 176,136.1 180.1,141 176,143.4 171.9,141Z" fill="#fac3b9" stroke="#dd9488" stroke-width="0.6" fill-opacity="0.88" stroke-linejoin="round"/>
<path d="M185.7,139.4 190.6,136.9 193,141.8 197.9,142.6 202.8,144.2 204.4,149.1 201.9,152.3 198.7,147.5 193,146.7 189,143.4 185.7,143.1Z" fill="#fac3b9" stroke="#dd9488" stroke-width="0.6" fill-opacity="0.88" stroke-linejoin="round"/>
<path d="M211.7,102.9 215.7,98 222.2,98.8 226.3,104.5 224.6,112.6 219.8,115 215.7,111.8 213.3,107.7Z" fill="#fac3b9" stroke="#dd9488" stroke-width="0.6" fill-opacity="0.88" stroke-linejoin="round"/>
<path d="M224.6,112.6 231.9,111 236.8,113.4 243.3,116.7 249.8,119.1 246.5,123.1 240.9,125.6 236.8,132.1 232.8,136.1 228.7,130.4 231.1,124.8 227.1,120.7 223,118.3Z" fill="#fac3b9" stroke="#dd9488" stroke-width="0.6" fill-opacity="0.88" stroke-linejoin="round"/>
<path d="M209.2,156.4 215.7,154 223,152.3 230.3,152.3 231.9,155.6 226.3,158 227.1,161.3 220.6,159.6 215.7,161.3 211.7,159.6Z" fill="#fac3b9" stroke="#dd9488" stroke-width="0.6" fill-opacity="0.88" stroke-linejoin="round"/>
<path d="M248.2,63.2 252.2,62.3 253,68 250.6,72.1 251.4,76.1 249,79.4 251.4,83.4 253.8,86.7 256.3,92.3 257.9,98.8 257.1,106.9 256.3,112.6 251.4,111.8 247.4,106.9 243.3,103.7 242.5,97.2 240.1,92.3 241.7,86.7 240.1,81.8 242.5,76.9 245.7,72.9 247.4,68Z" fill="#fac3b9" stroke="#dd9488" stroke-width="0.6" fill-opacity="0.88" stroke-linejoin="round"/>
<path d="M304.1,93.1 308.2,93.1 312.2,98 315.5,103.7 312.2,107.7 313,113.4 313.8,118.3 309.8,123.1 305.7,127.2 300.9,132.1 296.8,129.6 291.9,126.4 293.6,119.9 292.8,113.4 291.1,108.6 294.4,103.7 299.2,98.8Z" fill="#fac3b9" stroke="#dd9488" stroke-width="0.6" fill-opacity="0.88" stroke-linejoin="round"/>
<path d="M277.3,102.1 283,99.6 288.7,98.8 287.9,105.3 284.6,108.6 280.6,111 278.2,107.7Z" fill="#fac3b9" stroke="#dd9488" stroke-width="0.6" fill-opacity="0.88" stroke-linejoin="round"/>
</g>
<rect x="206.5" y="201.6" width="150.1" height="22.9" fill="#fff"/>
<rect x="207.8" y="203.5" width="146.8" height="7.0" fill="url(#lg)"/>
<text x="208.3" y="221.6" font-size="8.6" fill="#777">1</text>
<text x="354.2" y="221.6" font-size="8.6" fill="#777" text-anchor="end">3</text>
</g>
<clipPath id="clip2"><rect x="0" y="0" width="354.6" height="222.5"/></clipPath>
<g id="map3" transform="translate(382.0,507.2)"><g clip-path="url(#clip2)">
<rect x="0" y="0" width="354.6" height="222.5" fill="#eff2d6"/>
<ellipse cx="282" cy="42" rx="78" ry="58" fill="url(#grn)"/>
<ellipse cx="300" cy="122" rx="62" ry="18" fill="url(#grn)"/>
<ellipse cx="160" cy="200" rx="55" ry="28" fill="url(#grn)" opacity="0.7"/>
<ellipse cx="60" cy="30" rx="70" ry="40" fill="url(#grn)" opacity="0.45"/>
<path d="M150.3,39.6 154.3,35.6 160.8,34.8 167.3,34 171.4,29.9 176.2,26.7 177.8,23.4 183.5,21.8 190,21 198.1,20.2 205.4,19.4 207.8,23.4 209.5,29.1 212.7,32.3 217.6,34 221.6,35.6 224.9,39.6 224.9,46.1 223.3,52.6 220,57.5 217.6,61.5 212.7,64 206.2,65.6 199.7,65.6 194.1,64 191.6,60.7 188.4,54.2 186.8,47.7 185.1,44.5 182.7,45.3 180.3,51 177,53.4 173,55.9 168.9,57.5 164.9,55 160.8,51 156,47.7 151.9,45.3Z" fill="#c3e6a9"/>
<path d="M250,27 254,25 257,31 262,36 268,40 272,43 268,44 260,41 254,36Z" fill="#c3e6a9"/>
<path d="M274,68 281,64 287,63 288,68 283,72 277,73Z" fill="#c3e6a9"/>
<path d="M304,44 307,42 308,52 305,56Z" fill="#c3e6a9"/>
<path d="M290,30 293,29 293,36 290,36Z" fill="#c3e6a9"/>
<path d="M180.3,38 190.8,36.4 190,40.4 183.5,43.7 179.5,42.1Z" fill="#eff2d6"/>
<path d="M337.1,100.7 356,102 356,123.7 349.2,123.7 342.5,119.6 338.4,112.9 339.8,106.1Z" fill="#d9eec3"/>
<path d="M311.4,126.4 319.5,123.7 327.6,122.3 330.3,127.7 331.7,131.8 320.9,133.2 312.8,133.8Z" fill="#d9eec3"/>
<ellipse cx="191" cy="121" rx="44" ry="41" fill="url(#urb)"/>
<ellipse cx="183" cy="70" rx="5" ry="6" fill="#ece9df"/>
<ellipse cx="305" cy="90" rx="6" ry="5" fill="#ece9df"/>
<ellipse cx="218" cy="147" rx="9" ry="7" fill="#ece9df"/>
<ellipse cx="98" cy="27" rx="5" ry="5" fill="#ece9df"/>
<path d="M62,0 70,10 80,18 88,26 94,34 100,42 108,50 114,56 120,62 122,72 118,82 120,92 124,102 122,112 126,124 132,134 140,142 150,152 158,164 166,176 176,190 186,202 192,211" fill="none" stroke="#8fd3ee" stroke-width="0.7" stroke-linejoin="round" stroke-linecap="round" stroke-dasharray="1.3 1.5" stroke-opacity="0.6"/>
<path d="M0,84 10,90 22,100 36,108 50,114 66,122 82.3,129.7 90,140 94,150 98.5,161.4 108,168 116,174 120,184 124,196 128,206 131,214 133,222" fill="none" stroke="#8fd3ee" stroke-width="0.7" stroke-linejoin="round" stroke-linecap="round" stroke-dasharray="1.3 1.5" stroke-opacity="0.6"/>
<path d="M231,26 234,38 238,50 240,62 243,76 246,90 247,102 248,114 250,122" fill="none" stroke="#8fd3ee" stroke-width="0.7" stroke-linejoin="round" stroke-linecap="round" stroke-dasharray="1.3 1.5" stroke-opacity="0.6"/>
<path d="M296,0 300,12 306,24 308,36 306,50 302,62 302,74 306,86 312,94 318,99 330,101" fill="none" stroke="#8fd3ee" stroke-width="0.7" stroke-linejoin="round" stroke-linecap="round" stroke-dasharray="1.3 1.5" stroke-opacity="0.6"/>
<path d="M347,16 344,30 344,44 349,58 352,70 348,82 346,94 340,100" fill="none" stroke="#8fd3ee" stroke-width="0.7" stroke-linejoin="round" stroke-linecap="round" stroke-dasharray="1.3 1.5" stroke-opacity="0.6"/>
<path d="M190,60 196,70 202,80 206,90 207,96" fill="none" stroke="#8fd3ee" stroke-width="0.7" stroke-linejoin="round" stroke-linecap="round" stroke-dasharray="1.3 1.5" stroke-opacity="0.6"/>
<path d="M207,108 212,116 218,122 226,126 234,130" fill="none" stroke="#8fd3ee" stroke-width="0.7" stroke-linejoin="round" stroke-linecap="round" stroke-dasharray="1.3 1.5" stroke-opacity="0.6"/>
<path d="M100,0 106,10 112,22 116,34 118,46 120,56" fill="none" stroke="#8fd3ee" stroke-width="0.7" stroke-linejoin="round" stroke-linecap="round" stroke-dasharray="1.3 1.5" stroke-opacity="0.6"/>
<path d="M40,150 52,166 62,182 72,196 80,206" fill="none" stroke="#8fd3ee" stroke-width="0.7" stroke-linejoin="round" stroke-linecap="round" stroke-dasharray="1.3 1.5" stroke-opacity="0.6"/>
<path d="M8,168 14,182 20,198 30,210 38,222" fill="none" stroke="#8fd3ee" stroke-width="0.7" stroke-linejoin="round" stroke-linecap="round" stroke-dasharray="1.3 1.5" stroke-opacity="0.6"/>
<path d="M12,6 24,14 36,22 48,28 58,36 66,40 74,44 80,40 84,34 92,30" fill="none" stroke="#8fd3ee" stroke-width="0.7" stroke-linejoin="round" stroke-linecap="round" stroke-dasharray="1.3 1.5" stroke-opacity="0.6"/>
<path d="M20,84 30,90 38,96" fill="none" stroke="#8fd3ee" stroke-width="0.7" stroke-linejoin="round" stroke-linecap="round" stroke-dasharray="1.3 1.5" stroke-opacity="0.6"/>
<path d="M0,76 6,82 4,90" fill="none" stroke="#8fd3ee" stroke-width="0.7" stroke-linejoin="round" stroke-linecap="round" stroke-dasharray="1.3 1.5" stroke-opacity="0.6"/>
<path d="M44,4 50,10 56,8" fill="none" stroke="#8fd3ee" stroke-width="0.7" stroke-linejoin="round" stroke-linecap="round" stroke-dasharray="1.3 1.5" stroke-opacity="0.6"/>
<path d="M130,0 134,10 140,18" fill="none" stroke="#8fd3ee" stroke-width="0.7" stroke-linejoin="round" stroke-linecap="round" stroke-dasharray="1.3 1.5" stroke-opacity="0.6"/>
<path d="M-0.3,40.2 38.5,30.2 56,23.9 71,13.9 78.5,6.4" fill="none" stroke="#f9f2d0" stroke-width="1.0" stroke-linejoin="round" stroke-linecap="round"/>
<path d="M97.3,26.9 88.5,31.4 78.5,36.4 63.5,46.4 46,63.9 28.5,75.2" fill="none" stroke="#f9f2d0" stroke-width="1.0" stroke-linejoin="round" stroke-linecap="round"/>
<path d="M39.8,1.4 41,23.9 40.5,51.4 44.8,68.9 46,78.9 49.8,93.9 52.3,108.9 50,122 46,132" fill="none" stroke="#f9f2d0" stroke-width="1.0" stroke-linejoin="round" stroke-linecap="round"/>
<path d="M97.3,26.9 111,13.9 113.5,1.4" fill="none" stroke="#f9f2d0" stroke-width="1.0" stroke-linejoin="round" stroke-linecap="round"/>
<path d="M95.5,81.4 83.5,56.4 91,41.4 97.3,26.9" fill="none" stroke="#f9f2d0" stroke-width="1.0" stroke-linejoin="round" stroke-linecap="round"/>
<path d="M124,57.7 143.5,53.9 158.5,43.9 173,21.9" fill="none" stroke="#f9f2d0" stroke-width="1.0" stroke-linejoin="round" stroke-linecap="round"/>
<path d="M95.5,81.4 106,68.9 124,57.7" fill="none" stroke="#f9f2d0" stroke-width="1.0" stroke-linejoin="round" stroke-linecap="round"/>
<path d="M-0.3,86.4 16,87.7 28.5,75.2" fill="none" stroke="#f9f2d0" stroke-width="1.0" stroke-linejoin="round" stroke-linecap="round"/>
<path d="M95.5,81.4 93.5,98.9 88.5,115.9 82.3,129.7" fill="none" stroke="#f9f2d0" stroke-width="1.0" stroke-linejoin="round" stroke-linecap="round"/>
<path d="M76.5,5.2 60,0" fill="none" stroke="#f9f2d0" stroke-width="1.0" stroke-linejoin="round" stroke-linecap="round"/>
<path d="M0,23 10,29 22,33 38.5,30.2" fill="none" stroke="#f9f2d0" stroke-width="1.0" stroke-linejoin="round" stroke-linecap="round"/>
<path d="M95.5,81.4 112,90 124,100 125.3,120 125.3,148.2" fill="none" stroke="#f9f2d0" stroke-width="1.0" stroke-linejoin="round" stroke-linecap="round"/>
<path d="M0,82 14,84 30,88 48,90 50,90" fill="none" stroke="#f9f2d0" stroke-width="1.0" stroke-linejoin="round" stroke-linecap="round"/>
<path d="M6,62 10,78 14,96 20,112 30.3,131.9" fill="none" stroke="#f9f2d0" stroke-width="1.0" stroke-linejoin="round" stroke-linecap="round"/>
<path d="M30.3,131.9 28,146 24.3,158.9 18,176 13.5,194.4 20,206 30,214 39.8,222" fill="none" stroke="#f9f2d0" stroke-width="1.0" stroke-linejoin="round" stroke-linecap="round"/>
<path d="M0,146 10,150 24.3,158.9 40,162 58,168 70,180 84.3,199.7" fill="none" stroke="#f9f2d0" stroke-width="1.0" stroke-linejoin="round" stroke-linecap="round"/>
<path d="M82.3,129.7 86,146 92,160 100,172 107.3,183.9" fill="none" stroke="#f9f2d0" stroke-width="1.0" stroke-linejoin="round" stroke-linecap="round"/>
<path d="M107.3,183.9 110,198 112,212 112.3,222" fill="none" stroke="#f9f2d0" stroke-width="1.0" stroke-linejoin="round" stroke-linecap="round"/>
<path d="M107.3,183.9 120,192 134.8,205.9 150,210 170,212 190.3,209" fill="none" stroke="#f9f2d0" stroke-width="1.0" stroke-linejoin="round" stroke-linecap="round"/>
<path d="M125.3,148.2 130,166 134,186 134.8,205.9" fill="none" stroke="#f9f2d0" stroke-width="1.0" stroke-linejoin="round" stroke-linecap="round"/>
<path d="M13.5,194.4 30,190 50,188 60,182 70,180" fill="none" stroke="#f9f2d0" stroke-width="1.0" stroke-linejoin="round" stroke-linecap="round"/>
<path d="M46,132 47,150 47,170 46,190 44,206" fill="none" stroke="#f9f2d0" stroke-width="1.0" stroke-linejoin="round" stroke-linecap="round"/>
<path d="M173,21.9 190,20 210,22 229.3,23.2 245,22 256,21.4 272,18 290,14 310,8 324,3.4 336,0" fill="none" stroke="#f9f2d0" stroke-width="1.0" stroke-linejoin="round" stroke-linecap="round"/>
<path d="M229.3,23.2 226,36 220,48" fill="none" stroke="#f9f2d0" stroke-width="1.0" stroke-linejoin="round" stroke-linecap="round"/>
<path d="M216,60.5 230,66 246,70 262,72 280,72 296.8,70.9" fill="none" stroke="#f9f2d0" stroke-width="1.0" stroke-linejoin="round" stroke-linecap="round"/>
<path d="M216,60.5 200,62 182,66 168,70 154.8,76.4" fill="none" stroke="#f9f2d0" stroke-width="1.0" stroke-linejoin="round" stroke-linecap="round"/>
<path d="M242.3,92.7 242,78 240,60 236,44 229.3,23.2" fill="none" stroke="#f9f2d0" stroke-width="1.0" stroke-linejoin="round" stroke-linecap="round"/>
<path d="M242.3,92.7 246,104 246,114" fill="none" stroke="#f9f2d0" stroke-width="1.0" stroke-linejoin="round" stroke-linecap="round"/>
<path d="M296.8,70.9 312,66 328,58 340,46 348,30 348,20.2 346,0" fill="none" stroke="#f9f2d0" stroke-width="1.0" stroke-linejoin="round" stroke-linecap="round"/>
<path d="M305.3,89.5 316,84 326,80 339,89.5" fill="none" stroke="#f9f2d0" stroke-width="1.0" stroke-linejoin="round" stroke-linecap="round"/>
<path d="M256,21.4 262,36 270,52 282,64 296.8,70.9" fill="none" stroke="#f9f2d0" stroke-width="1.0" stroke-linejoin="round" stroke-linecap="round"/>
<path d="M261,114.3 262,128 266,140 270,150" fill="none" stroke="#f9f2d0" stroke-width="1.0" stroke-linejoin="round" stroke-linecap="round"/>
<path d="M226.8,126.9 236,120 246,114.2" fill="none" stroke="#f9f2d0" stroke-width="1.0" stroke-linejoin="round" stroke-linecap="round"/>
<path d="M154.8,76.4 148,86 133,89" fill="none" stroke="#f9f2d0" stroke-width="1.0" stroke-linejoin="round" stroke-linecap="round"/>
<path d="M133,89 140,104 146,116 148,122" fill="none" stroke="#f9f2d0" stroke-width="1.0" stroke-linejoin="round" stroke-linecap="round"/>
<path d="M160,141.5 158,156 160,172 166,186 178,200 190.3,209" fill="none" stroke="#f9f2d0" stroke-width="1.0" stroke-linejoin="round" stroke-linecap="round"/>
<path d="M184,175 200,180 214,178 226,172" fill="none" stroke="#f9f2d0" stroke-width="1.0" stroke-linejoin="round" stroke-linecap="round"/>
<path d="M216.7,150.5 206,154 196,156 188.5,150" fill="none" stroke="#f9f2d0" stroke-width="1.0" stroke-linejoin="round" stroke-linecap="round"/>
<path d="M339,89.5 344,100 348,110" fill="none" stroke="#f9f2d0" stroke-width="1.0" stroke-linejoin="round" stroke-linecap="round"/>
<path d="M174.4,222.5 179.8,220.4 186.3,216.6 192.8,211.7 199.2,206.9 206.8,201.5 216.5,193.4 226.3,185.8 236,178.2 244.9,172.2 250.6,164.6 258.1,157.1 267.6,151.4 278.9,146.7 286.8,142.9 297.6,138 308.4,134.2 319.2,132.6 330.1,132.1 334.4,129.4 340.9,126.7 349.5,125 356.5,124.3 356.5,222.5Z" fill="#72cef1"/>
<path d="M242.2,121.1 240.6,123.8 238.9,126.5 237.3,129.8 235.1,132.5 232.4,134.6 229.7,133.6 227,133 224.9,134.6 223.8,137.3 224.5,140.6 226,143.8 228,147.1 229.5,150.3 231.5,152.6 229.7,155.3 231.4,158.6 234.6,162.3 234,166 235.7,170.5 238.9,173.7 243,174.5 245.4,173.7 247.5,169.5 251.5,164 256,159 262,154.8 268.5,151.2 275,148 279,145.8 278.5,143.2 271.4,143.2 262.7,144.5 255.1,146.7 249.7,148.3 245.4,148.8 248.1,142.7 249.7,139.5 251.4,135.2 252.4,130.9 253,126.5 254.1,123.8 255.7,121.1 253,117.9 247.6,119.5Z" fill="#72cef1"/>
<path d="M245,172.5 238,170 232,168 229,171 226.8,174.6 221.9,177.9 217,182.7 211.4,184.4 207.3,187.6 208,192 204,196 200.3,200.4 199,207 206.8,201.5 216.5,193.4 226.3,185.8 236,178.2 244.9,172.5Z" fill="#72cef1"/>
<path d="M329,102 334.4,100 338.4,103.4 337.1,110.2 334.4,115.6 329,119 325.5,121 327.5,125 331,132.4 329,132.6 324.5,123.5 322.2,116.9 324.9,111.5 327.6,106.1Z" fill="#72cef1"/>
<ellipse cx="6" cy="25.5" rx="6" ry="4" fill="#c3e6a9"/>
<path d="M206.2,17.7 210.3,14.5 215.1,13.7 217.6,16.1 216.8,20.2 219.2,23.4 223.3,25.9 224.1,29.9 220.8,32.3 216.8,32.3 213.5,29.9 211.9,26.7 208.7,23.4 206.2,21Z" fill="#72cef1"/>
<path d="M188.4,6.4 192.4,3.2 197.3,1.5 201.4,0.7 203,3.2 200.6,6.4 204.6,8.8 207.8,12.1 210.3,14.5 206.2,15.3 203,12.1 198.9,9.6 195.7,8 191.6,8.8Z" fill="#72cef1"/>
<path d="M165.7,38.8 168.1,39.6 169.7,43.7 173,46.9 177,48.6 176.2,51.8 173,53.4 172.2,58.3 168.9,60.7 164.9,56.7 163.3,55 166.5,52.6 168.9,51 169.7,48.6 167.3,46.1 165.7,42.1Z" fill="#72cef1"/>
<path d="M69,65.8 73,64.6 77,63.6 81.5,62.2 83.4,63.4 80.5,66 76.5,67.2 72,67.8Z" fill="#72cef1"/>
<path d="M3,25 5.5,23.2 9,22.8 9.6,24.5 7,26.3 4,27.5Z" fill="#72cef1"/>
<path d="M125,30 128.5,29 128,32.5 125.5,34Z" fill="#72cef1"/>
<path d="M33.5,36.5 36,36 35.5,39 33.5,39.5Z" fill="#72cef1"/>
<path d="M63.5,104 66.5,103.5 66.5,107.5 63.5,108Z" fill="#72cef1"/>
<path d="M12.5,81 14.5,80.5 14.5,84.5 12.5,85Z" fill="#72cef1"/>
<path d="M80.5,205.5 83.5,204.5 84,208.5 82,212 80.5,216 78,216 79,211.5Z" fill="#72cef1"/>
<path d="M100,143 102,142.5 102.2,145 100.2,145.5Z" fill="#72cef1"/>
<path d="M297,111 300,110 301,113 298,114.5Z" fill="#72cef1"/>
<path d="M243.8,173.3 238.9,177.6 233.5,182 228.1,186.3 222.7,190.1 217.3,193.9 211.9,197.7 206.8,201 200,205.8" fill="none" stroke="#f3f1da" stroke-width="1.5" stroke-linejoin="round" stroke-linecap="round"/>
<path d="M249.5,166.5 253,162.3 258.4,157 264.5,153.3 271,150.2 278,147.3 285,144.5 292,141.2" fill="none" stroke="#f3f1da" stroke-width="1.9" stroke-linejoin="round" stroke-linecap="round"/>
<path d="M0,134.4 14,133.5 30.3,131.9 56,130.8 82.3,129.7 100,126.5 121,123.2 146.5,122.5 173.9,122.7 191.1,123.4 210.4,123.4 214.6,122.1 219.5,120.3 229.2,118.5 236.5,117.3 246,116 252,116.7 262.8,116.7 280,116.7 289.5,108.5 297.6,98.8 305.7,90.7 320,90 339,89.5 355,88.5" fill="none" stroke="#f4bd8a" stroke-width="0.75" stroke-linejoin="round" stroke-linecap="round" stroke-opacity="0.9"/>
<path d="M191.1,124.2 189.1,113 186.6,106.3 185.4,98.4 184.2,86.3 183,74.1 182.7,65.6 180.3,55.9 179.1,47.7 178.3,38 177,28.3 174.1,21.8 168.9,16.9 157.6,8.8 149.5,-0.9" fill="none" stroke="#f4bd8a" stroke-width="0.75" stroke-linejoin="round" stroke-linecap="round" stroke-opacity="0.9"/>
<path d="M191.1,124.2 197.6,131.9 203.7,138.6 210.4,145.9 217,153.2 224.3,161.7 232,168.5 239,172.5 243.6,173.6" fill="none" stroke="#f4bd8a" stroke-width="0.75" stroke-linejoin="round" stroke-linecap="round" stroke-opacity="0.9"/>
<path d="M191.1,124.2 193.9,114.2 197.6,104.5 201.2,94.8 206.1,83.8 209.7,74.1 212.7,67.2 216,60.7 224.9,46.1 228.9,34.8 231,23.4 237,8.8 240.3,-0.9" fill="none" stroke="#f4bd8a" stroke-width="0.75" stroke-linejoin="round" stroke-linecap="round" stroke-opacity="0.9"/>
<path d="M191.1,124.2 183,131.3 173.9,137.3 162.3,144.6 153.8,149.5 146.5,153.2 136,158 125.3,164 118,172 108.5,183.5 96,192 84.3,199.7 71,206.4 55,213 40,219" fill="none" stroke="#f4bd8a" stroke-width="0.75" stroke-linejoin="round" stroke-linecap="round" stroke-opacity="0.9"/>
<path d="M183,120.9 173.9,110.6 160.5,102.7 153.8,98.4 146.5,94.2 132.8,88.9 113.5,85.2 95.5,81.4 71,80.2 46,78.9 28.5,75.2 6,61.9 0,59.5" fill="none" stroke="#f4bd8a" stroke-width="0.75" stroke-linejoin="round" stroke-linecap="round" stroke-opacity="0.9"/>
<path d="M189.1,131.3 188.5,141.6 188.5,152 187.9,164.1 185,175 185,190 188,202 190.3,209" fill="none" stroke="#f4bd8a" stroke-width="0.75" stroke-linejoin="round" stroke-linecap="round" stroke-opacity="0.9"/>
<path d="M200.6,127.6 210.4,128.2 219.5,127.6 227,127.3" fill="none" stroke="#f4bd8a" stroke-width="0.75" stroke-linejoin="round" stroke-linecap="round" stroke-opacity="0.9"/>
<path d="M197.6,104.5 208,101 220,97.5 232,94.5 242.3,92.7 262,91 284,89.5 305.3,89.5" fill="none" stroke="#f6e3b4" stroke-width="0.9" stroke-linejoin="round" stroke-linecap="round"/>
<path d="M186.6,106.3 176.9,96 169.6,88.7 164.7,82.6 156,76.6 144,68 132,61 124,57.7" fill="none" stroke="#f6e3b4" stroke-width="0.9" stroke-linejoin="round" stroke-linecap="round"/>
<path d="M227,127.3 226,136 224,146 221,154 217,153.2" fill="none" stroke="#f6e3b4" stroke-width="0.9" stroke-linejoin="round" stroke-linecap="round"/>
<path d="M76.5,5.2 88,17 97.3,26.9 106,35 114,45 124,57.7 128,70 131,80 133,89" fill="none" stroke="#f6e3b4" stroke-width="0.9" stroke-linejoin="round" stroke-linecap="round"/>
<path d="M305.3,89.5 301,80 296.8,70.9 292,58 284,42 277,26 271,11 268,0" fill="none" stroke="#f6e3b4" stroke-width="0.9" stroke-linejoin="round" stroke-linecap="round"/>
<path d="M305.3,89.5 312,96 320,103 326,110" fill="none" stroke="#f6e3b4" stroke-width="0.9" stroke-linejoin="round" stroke-linecap="round"/>
<path d="M280,116.7 294,115 306,113.5 316,109 326,104" fill="none" stroke="#f6e3b4" stroke-width="0.9" stroke-linejoin="round" stroke-linecap="round"/>
<path d="M191.1,124.2 189.3,114.2 188.5,106.3 187.6,96 187.2,88.7 186,79" fill="none" stroke="#f4bd8a" stroke-width="0.6" stroke-linejoin="round" stroke-linecap="round" stroke-opacity="0.8"/>
<path d="M153.8,98.4 154,110.6 154.4,122.7 153.8,137.3 157.4,147.1" fill="none" stroke="#f4bd8a" stroke-width="0.6" stroke-linejoin="round" stroke-linecap="round" stroke-opacity="0.8"/>
<path d="M160.5,102.7 173.9,106.3 180.6,102.1 186.6,98.4 201.2,94.8 207.3,93.6" fill="none" stroke="#f4bd8a" stroke-width="0.6" stroke-linejoin="round" stroke-linecap="round" stroke-opacity="0.8"/>
<path d="M146.5,131.3 162.3,130.7 173.9,128.8 183,127.6" fill="none" stroke="#f4bd8a" stroke-width="0.6" stroke-linejoin="round" stroke-linecap="round" stroke-opacity="0.8"/>
<path d="M176.3,106.3 207.9,106.3 210.4,108.8 210.4,139.2 207.9,141.6 176.3,141.6 173.9,139.2 173.9,108.8 176.3,106.3" fill="none" stroke="#f4bd8a" stroke-width="0.7" stroke-linejoin="round" stroke-linecap="round"/>
<path d="M184.8,119.7 198.2,119.7 200.3,121.8 200.6,129.4 198.8,131.5 184.8,131.9 183,130 183,121.5 184.8,119.7" fill="none" stroke="#f4bd8a" stroke-width="0.7" stroke-linejoin="round" stroke-linecap="round"/>
<path d="M207.9,94.2 210.4,95 213.2,96.6 212.8,100.2 210.7,103.3 210,106 212.8,109.4 211.6,112 209.7,110.6 208.3,106 209.5,102.3 211,99 209.7,97.2 207.3,96Z" fill="#72cef1"/>
<path d="M211.6,112 214.6,115.5 217.7,118.5 219.5,122.7 220.7,126.4" fill="none" stroke="#72cef1" stroke-width="0.8" stroke-linejoin="round" stroke-linecap="round"/>
<path d="M157.9,122.8 164,122.6 163.2,126.6 157.2,127.5Z" fill="#cfe9b6"/>
<path d="M165.3,162.7 169.5,162.2 170,165.8 166,166.4Z" fill="#cfe9b6"/>
<path d="M208,88 211,87.6 211,90 208,90.4Z" fill="#cfe9b6"/>
<rect x="36" y="48.5" width="7.5" height="6.8" rx="3" fill="#fff" stroke="#777" stroke-width="0.5"/>
<text x="39.8" y="53.4" font-size="4.2" text-anchor="middle" fill="#333" font-weight="bold">77</text>
<rect x="251.5" y="18" width="9" height="6.8" rx="3" fill="#fff" stroke="#777" stroke-width="0.5"/>
<text x="256" y="22.9" font-size="4.2" text-anchor="middle" fill="#333" font-weight="bold">190</text>
<rect x="266.5" y="8" width="9" height="6.8" rx="3" fill="#fff" stroke="#777" stroke-width="0.5"/>
<text x="271" y="12.9" font-size="4.2" text-anchor="middle" fill="#333" font-weight="bold">287</text>
<rect x="319.5" y="0" width="9" height="6.8" rx="3" fill="#fff" stroke="#777" stroke-width="0.5"/>
<text x="324" y="4.9" font-size="4.2" text-anchor="middle" fill="#333" font-weight="bold">190</text>
<rect x="178.5" y="171.3" width="9" height="6.8" rx="3" fill="#fff" stroke="#777" stroke-width="0.5"/>
<text x="183" y="176.2" font-size="4.2" text-anchor="middle" fill="#333" font-weight="bold">288</text>
<rect x="302.2" y="110" width="7.5" height="6.8" rx="3" fill="#fff" stroke="#777" stroke-width="0.5"/>
<text x="306" y="114.9" font-size="4.2" text-anchor="middle" fill="#333" font-weight="bold">73</text>
<rect x="21.8" y="202.3" width="7.5" height="6.8" rx="3" fill="#fff" stroke="#777" stroke-width="0.5"/>
<text x="25.5" y="207.2" font-size="4.2" text-anchor="middle" fill="#333" font-weight="bold">87</text>
<rect x="108.5" y="216.8" width="7.5" height="6.8" rx="3" fill="#fff" stroke="#777" stroke-width="0.5"/>
<text x="112.3" y="221.7" font-size="4.2" text-anchor="middle" fill="#333" font-weight="bold">35</text>
<path d="M175.5,44.3H182.7V48.2Q182.3,50.7 179.1,51.7Q175.9,50.7 175.5,48.2Z" fill="#4a66b8"/>
<rect x="175.5" y="44.3" width="7.2" height="1.8" fill="#d0465a"/>
<text x="179.1" y="49.9" font-size="4" text-anchor="middle" fill="#fff" font-weight="bold">45</text>
<path d="M259.2,112.1H266.4V116Q266,118.5 262.8,119.5Q259.6,118.5 259.2,116Z" fill="#4a66b8"/>
<rect x="259.2" y="112.1" width="7.2" height="1.8" fill="#d0465a"/>
<text x="262.8" y="117.7" font-size="4" text-anchor="middle" fill="#fff" font-weight="bold">10</text>
<rect x="75.7" y="4.4" width="1.6" height="1.6" fill="#333"/>
<text x="76.5" y="0.9" font-size="5.7" text-anchor="middle" fill="#555" font-weight="normal" stroke="#f6f6e6" stroke-width="0.9" paint-order="stroke" stroke-opacity="0.7">Hearne</text>
<rect x="96.5" y="26.1" width="1.6" height="1.6" fill="#333"/>
<text x="97.3" y="23.5" font-size="5.7" text-anchor="middle" fill="#555" font-weight="normal" stroke="#f6f6e6" stroke-width="0.9" paint-order="stroke" stroke-opacity="0.7">Bryan</text>
<rect x="122.7" y="56.9" width="1.6" height="1.6" fill="#333"/>
<text x="123.5" y="54.3" font-size="5.7" text-anchor="middle" fill="#555" font-weight="normal" stroke="#f6f6e6" stroke-width="0.9" paint-order="stroke" stroke-opacity="0.7">Navasota</text>
<rect x="94.7" y="80.6" width="1.6" height="1.6" fill="#333"/>
<text x="95.5" y="77.8" font-size="5.7" text-anchor="middle" fill="#555" font-weight="normal" stroke="#f6f6e6" stroke-width="0.9" paint-order="stroke" stroke-opacity="0.7">Brenham</text>
<rect x="5.2" y="61.1" width="1.6" height="1.6" fill="#333"/>
<text x="6" y="58.5" font-size="5.7" text-anchor="middle" fill="#555" font-weight="normal" stroke="#f6f6e6" stroke-width="0.9" paint-order="stroke" stroke-opacity="0.7">Elgin</text>
<rect x="132" y="88.1" width="1.6" height="1.6" fill="#333"/>
<text x="132.8" y="85.5" font-size="5.7" text-anchor="middle" fill="#555" font-weight="normal" stroke="#f6f6e6" stroke-width="0.9" paint-order="stroke" stroke-opacity="0.7">Prairie View</text>
<rect x="155.2" y="75.8" width="1.6" height="1.6" fill="#333"/>
<text x="156" y="73" font-size="5.7" text-anchor="middle" fill="#555" font-weight="normal" stroke="#f6f6e6" stroke-width="0.9" paint-order="stroke" stroke-opacity="0.7">Magnolia</text>
<rect x="173.3" y="21" width="1.6" height="1.6" fill="#333"/>
<text x="174.1" y="18.3" font-size="5.7" text-anchor="middle" fill="#555" font-weight="normal" stroke="#f6f6e6" stroke-width="0.9" paint-order="stroke" stroke-opacity="0.7">Huntsville</text>
<rect x="230.4" y="22.6" width="1.6" height="1.6" fill="#333"/>
<text x="231.2" y="19.5" font-size="5.7" text-anchor="middle" fill="#555" font-weight="normal" stroke="#f6f6e6" stroke-width="0.9" paint-order="stroke" stroke-opacity="0.7">Livingston</text>
<rect x="345.7" y="19.4" width="1.6" height="1.6" fill="#333"/>
<text x="346.5" y="16.8" font-size="5.7" text-anchor="middle" fill="#555" font-weight="normal" stroke="#f6f6e6" stroke-width="0.9" paint-order="stroke" stroke-opacity="0.7">Bon Wier</text>
<rect x="181.9" y="64.8" width="1.6" height="1.6" fill="#333"/>
<text x="182.7" y="62.5" font-size="5.7" text-anchor="middle" fill="#555" font-weight="normal" stroke="#f6f6e6" stroke-width="0.9" paint-order="stroke" stroke-opacity="0.7">Conroe</text>
<rect x="296" y="70.1" width="1.6" height="1.6" fill="#333"/>
<text x="296.8" y="67.3" font-size="5.7" text-anchor="middle" fill="#555" font-weight="normal" stroke="#f6f6e6" stroke-width="0.9" paint-order="stroke" stroke-opacity="0.7">Lumberton</text>
<rect x="304.5" y="88.1" width="1.6" height="1.6" fill="#333"/>
<text x="305.3" y="85.7" font-size="7.0" text-anchor="middle" fill="#555" font-weight="normal" stroke="#f6f6e6" stroke-width="0.9" paint-order="stroke" stroke-opacity="0.7">Beaumont</text>
<rect x="338.2" y="88.1" width="1.6" height="1.6" fill="#333"/>
<text x="339" y="85.5" font-size="5.7" text-anchor="middle" fill="#555" font-weight="normal" stroke="#f6f6e6" stroke-width="0.9" paint-order="stroke" stroke-opacity="0.7">Orange</text>
<rect x="241.5" y="91.9" width="1.6" height="1.6" fill="#333"/>
<text x="242.3" y="89.3" font-size="5.7" text-anchor="middle" fill="#555" font-weight="normal" stroke="#f6f6e6" stroke-width="0.9" paint-order="stroke" stroke-opacity="0.7">Liberty</text>
<rect x="207.1" y="92.8" width="1.6" height="1.6" fill="#333"/>
<text x="207.9" y="90.6" font-size="5.7" text-anchor="middle" fill="#555" font-weight="normal" stroke="#f6f6e6" stroke-width="0.9" paint-order="stroke" stroke-opacity="0.7">Kingwood</text>
<rect x="159.7" y="101.9" width="1.6" height="1.6" fill="#333"/>
<text x="160.5" y="99.1" font-size="5.7" text-anchor="middle" fill="#555" font-weight="normal" stroke="#f6f6e6" stroke-width="0.9" paint-order="stroke" stroke-opacity="0.7">Cypress</text>
<rect x="226.2" y="126.5" width="1.6" height="1.6" fill="#333"/>
<text x="227" y="123.3" font-size="5.7" text-anchor="middle" fill="#555" font-weight="normal" stroke="#f6f6e6" stroke-width="0.9" paint-order="stroke" stroke-opacity="0.7">Baytown</text>
<rect x="29.5" y="131.1" width="1.6" height="1.6" fill="#333"/>
<text x="30.3" y="128.5" font-size="5.7" text-anchor="middle" fill="#555" font-weight="normal" stroke="#f6f6e6" stroke-width="0.9" paint-order="stroke" stroke-opacity="0.7">Flatonia</text>
<rect x="81.5" y="128.9" width="1.6" height="1.6" fill="#333"/>
<text x="82.3" y="126" font-size="5.7" text-anchor="middle" fill="#555" font-weight="normal" stroke="#f6f6e6" stroke-width="0.9" paint-order="stroke" stroke-opacity="0.7">Columbus</text>
<rect x="124.5" y="147.4" width="1.6" height="1.6" fill="#333"/>
<text x="125.3" y="144.8" font-size="5.7" text-anchor="middle" fill="#555" font-weight="normal" stroke="#f6f6e6" stroke-width="0.9" paint-order="stroke" stroke-opacity="0.7">East Bernard</text>
<rect x="23.5" y="158.1" width="1.6" height="1.6" fill="#333"/>
<text x="24.3" y="155.3" font-size="5.7" text-anchor="middle" fill="#555" font-weight="normal" stroke="#f6f6e6" stroke-width="0.9" paint-order="stroke" stroke-opacity="0.7">Shiner</text>
<rect x="106.5" y="183.1" width="1.6" height="1.6" fill="#333"/>
<text x="107.3" y="180.3" font-size="5.7" text-anchor="middle" fill="#555" font-weight="normal" stroke="#f6f6e6" stroke-width="0.9" paint-order="stroke" stroke-opacity="0.7">El Campo</text>
<rect x="12.7" y="193.6" width="1.6" height="1.6" fill="#333"/>
<text x="13.5" y="191" font-size="5.7" text-anchor="middle" fill="#555" font-weight="normal" stroke="#f6f6e6" stroke-width="0.9" paint-order="stroke" stroke-opacity="0.7">Cuero</text>
<rect x="83.5" y="198.9" width="1.6" height="1.6" fill="#333"/>
<text x="84.3" y="196" font-size="5.7" text-anchor="middle" fill="#555" font-weight="normal" stroke="#f6f6e6" stroke-width="0.9" paint-order="stroke" stroke-opacity="0.7">Ganado</text>
<rect x="134" y="205.1" width="1.6" height="1.6" fill="#333"/>
<text x="134.8" y="202.3" font-size="5.7" text-anchor="middle" fill="#555" font-weight="normal" stroke="#f6f6e6" stroke-width="0.9" paint-order="stroke" stroke-opacity="0.7">Bay City</text>
<rect x="215.6" y="149.7" width="1.6" height="1.6" fill="#333"/>
<text x="216.4" y="147.1" font-size="5.7" text-anchor="middle" fill="#555" font-weight="normal" stroke="#f6f6e6" stroke-width="0.9" paint-order="stroke" stroke-opacity="0.7">League City</text>
<rect x="242.8" y="172.7" width="1.6" height="1.6" fill="#333"/>
<text x="243.6" y="170" font-size="5.7" text-anchor="middle" fill="#555" font-weight="normal" stroke="#f6f6e6" stroke-width="0.9" paint-order="stroke" stroke-opacity="0.7">Galveston</text>
<rect x="189.5" y="208.1" width="1.6" height="1.6" fill="#333"/>
<text x="190.3" y="205.5" font-size="5.7" text-anchor="middle" fill="#555" font-weight="normal" stroke="#f6f6e6" stroke-width="0.9" paint-order="stroke" stroke-opacity="0.7">Freeport</text>
<text x="10.3" y="148" font-size="5.7" text-anchor="end" fill="#555">ales</text>
<text x="39.8" y="220.5" font-size="6.5" text-anchor="middle" fill="#555" font-weight="normal" stroke="#f6f6e6" stroke-width="0.9" paint-order="stroke" stroke-opacity="0.7">Victoria</text>
<text x="216" y="48.5" font-size="6.8" text-anchor="middle" fill="#555" font-weight="normal" stroke="#f6f6e6" stroke-width="0.9" paint-order="stroke" stroke-opacity="0.7">North</text>
<text x="216" y="55.8" font-size="6.8" text-anchor="middle" fill="#555" font-weight="normal" stroke="#f6f6e6" stroke-width="0.9" paint-order="stroke" stroke-opacity="0.7">Cleveland</text>
<rect x="215.2" y="59.9" width="1.6" height="1.6" fill="#333"/>
<circle cx="191.1" cy="124.2" r="1.2" fill="#222"/>
<text x="191.1" y="132.4" font-size="8.9" text-anchor="middle" fill="#333" font-weight="normal" stroke="#f6f6e6" stroke-width="0.9" paint-order="stroke" stroke-opacity="0.7">Houston</text>
<path d="M220.7,70.1 224.5,68.2 228.3,72 233.9,72.9 239.6,75.8 241.5,82.4 238.7,88.1 241.5,95.6 244.3,103.2 248.1,108.9 247.2,114.6 242.5,115.5 239.6,111.7 233.9,112.7 231.1,110.8 226.4,110.8 224.5,105.1 226.4,100.4 219.8,97.5 218.8,90.9 221.6,84.3 222.6,76.7Z" fill="#fac3b9" stroke="#dd9488" stroke-width="0.6" fill-opacity="0.88" stroke-linejoin="round"/>
<path d="M211.2,101.3 216.9,98.5 224.5,99.4 226.4,105.1 223.5,111.7 218.8,114.6 214.1,110.8 211.2,106Z" fill="#fac3b9" stroke="#dd9488" stroke-width="0.6" fill-opacity="0.88" stroke-linejoin="round"/>
<path d="M225.4,111.7 231.1,110.8 233,118.3 231.1,124 226.4,126.9 222.6,122.1 221.6,117.4Z" fill="#f08b79" stroke="#d26f63" stroke-width="0.6" fill-opacity="0.88" stroke-linejoin="round"/>
<path d="M221.6,122.1 226.4,126.9 230.2,127.8 228.3,130.6 222.6,128.7Z" fill="#fac3b9" stroke="#dd9488" stroke-width="0.6" fill-opacity="0.88" stroke-linejoin="round"/>
<path d="M159.2,93.7 164.9,92.8 167.7,96.6 170.6,102.3 164.9,105.1 160.2,101.3 157.3,97.5Z" fill="#b32d4d" stroke="#94223e" stroke-width="0.6" fill-opacity="0.88" stroke-linejoin="round"/>
<path d="M170.6,75.8 177.2,74.8 178.1,78.6 172.5,80.5Z" fill="#fac3b9" stroke="#dd9488" stroke-width="0.6" fill-opacity="0.88" stroke-linejoin="round"/>
<path d="M178.1,89 183.8,89 184.8,93.7 180,94.7Z" fill="#fac3b9" stroke="#dd9488" stroke-width="0.6" fill-opacity="0.88" stroke-linejoin="round"/>
<path d="M173.4,98.5 177.6,97.9 177.6,100.9 173.4,101.3Z" fill="#fac3b9" stroke="#dd9488" stroke-width="0.6" fill-opacity="0.88" stroke-linejoin="round"/>
<path d="M181,101.7 184.4,101.7 184.4,104.7 181,104.7Z" fill="#fac3b9" stroke="#dd9488" stroke-width="0.6" fill-opacity="0.88" stroke-linejoin="round"/>
<path d="M170.6,104.1 175.3,103.2 178.1,108.9 171.5,109.8Z" fill="#f6a898" stroke="#d8887a" stroke-width="0.6" fill-opacity="0.88" stroke-linejoin="round"/>
<path d="M172.5,109.3 177.6,109.3 178.7,114.6 174.3,114.6Z" fill="#fac3b9" stroke="#dd9488" stroke-width="0.6" fill-opacity="0.88" stroke-linejoin="round"/>
<path d="M187,111.7 190.1,111.3 191,115.1 187.8,115.5Z" fill="#fac3b9" stroke="#dd9488" stroke-width="0.6" fill-opacity="0.88" stroke-linejoin="round"/>
<path d="M160.2,111.7 166.8,111.3 167.7,118.3 163,120.2 158.3,120.2 159.2,115.5Z" fill="#f08b79" stroke="#d26f63" stroke-width="0.6" fill-opacity="0.88" stroke-linejoin="round"/>
<path d="M152.6,112.7 159.2,112.3 158.3,120.2 152.6,121.2 151.6,116.4Z" fill="#fac3b9" stroke="#dd9488" stroke-width="0.6" fill-opacity="0.88" stroke-linejoin="round"/>
<path d="M141.2,121.2 152.6,121.2 153.5,125.9 151.6,130.6 146.9,129.7 142.2,125.9Z" fill="#fac3b9" stroke="#dd9488" stroke-width="0.6" fill-opacity="0.88" stroke-linejoin="round"/>
<path d="M153.5,122.1 158.3,121.2 158.3,128.7 153.5,129.7Z" fill="#fac3b9" stroke="#dd9488" stroke-width="0.6" fill-opacity="0.88" stroke-linejoin="round"/>
<path d="M164.3,123.1 170.6,123.1 171.1,126.9 164.9,126.9Z" fill="#f08b79" stroke="#d26f63" stroke-width="0.6" fill-opacity="0.88" stroke-linejoin="round"/>
<path d="M154.5,130.6 160.2,128.7 162.1,133.5 161.1,139.1 157.3,135.4Z" fill="#f6a898" stroke="#d8887a" stroke-width="0.6" fill-opacity="0.88" stroke-linejoin="round"/>
<path d="M161.1,129.3 167.7,129.3 167.7,132.5 161.7,133.1Z" fill="#fac3b9" stroke="#dd9488" stroke-width="0.6" fill-opacity="0.88" stroke-linejoin="round"/>
<path d="M203.7,120.2 209.3,119.3 211.2,124 214.1,125.9 209.3,126.9 208.4,130.6 203.7,131.2 204.6,125.9Z" fill="#fac3b9" stroke="#dd9488" stroke-width="0.6" fill-opacity="0.88" stroke-linejoin="round"/>
<path d="M182.9,134.4 187.6,133.5 188.2,138.2 184.8,141 181.9,139.1Z" fill="#fac3b9" stroke="#dd9488" stroke-width="0.6" fill-opacity="0.88" stroke-linejoin="round"/>
<path d="M180,140.1 184.8,141 183.8,146.7 179.1,145.8Z" fill="#fac3b9" stroke="#dd9488" stroke-width="0.6" fill-opacity="0.88" stroke-linejoin="round"/>
<path d="M170.6,140.1 174.3,141 177.2,146.7 178.1,152.4 182.9,151.4 184.8,146.7 188.5,152.4 188.9,160 193.3,163.7 195.2,167.5 191.4,171.3 188.9,174.1 184.8,173.2 180,171.3 176.2,175.1 171.5,174.1 170.6,168.5 173.4,162.8 172.5,156.2 173.4,151.4 171.5,146.7Z" fill="#fac3b9" stroke="#dd9488" stroke-width="0.6" fill-opacity="0.88" stroke-linejoin="round"/>
</g>
<rect x="206.5" y="201.6" width="150.1" height="22.9" fill="#fff"/>
<rect x="207.8" y="203.5" width="146.8" height="7.0" fill="url(#lg)"/>
<text x="208.3" y="221.6" font-size="8.6" fill="#777">1</text>
<text x="354.2" y="221.6" font-size="8.6" fill="#777" text-anchor="end">5</text>
</g>
<clipPath id="clip3"><rect x="0" y="0" width="354.6" height="222.5"/></clipPath>
<g id="map4" transform="translate(383.5,745.9)"><g clip-path="url(#clip3)">
<rect x="0" y="0" width="354.6" height="222.5" fill="#eff2d6"/>
<ellipse cx="282" cy="42" rx="78" ry="58" fill="url(#grn)"/>
<ellipse cx="300" cy="122" rx="62" ry="18" fill="url(#grn)"/>
<ellipse cx="160" cy="200" rx="55" ry="28" fill="url(#grn)" opacity="0.7"/>
<ellipse cx="60" cy="30" rx="70" ry="40" fill="url(#grn)" opacity="0.45"/>
<path d="M150.3,39.6 154.3,35.6 160.8,34.8 167.3,34 171.4,29.9 176.2,26.7 177.8,23.4 183.5,21.8 190,21 198.1,20.2 205.4,19.4 207.8,23.4 209.5,29.1 212.7,32.3 217.6,34 221.6,35.6 224.9,39.6 224.9,46.1 223.3,52.6 220,57.5 217.6,61.5 212.7,64 206.2,65.6 199.7,65.6 194.1,64 191.6,60.7 188.4,54.2 186.8,47.7 185.1,44.5 182.7,45.3 180.3,51 177,53.4 173,55.9 168.9,57.5 164.9,55 160.8,51 156,47.7 151.9,45.3Z" fill="#c3e6a9"/>
<path d="M250,27 254,25 257,31 262,36 268,40 272,43 268,44 260,41 254,36Z" fill="#c3e6a9"/>
<path d="M274,68 281,64 287,63 288,68 283,72 277,73Z" fill="#c3e6a9"/>
<path d="M304,44 307,42 308,52 305,56Z" fill="#c3e6a9"/>
<path d="M290,30 293,29 293,36 290,36Z" fill="#c3e6a9"/>
<path d="M180.3,38 190.8,36.4 190,40.4 183.5,43.7 179.5,42.1Z" fill="#eff2d6"/>
<path d="M337.1,100.7 356,102 356,123.7 349.2,123.7 342.5,119.6 338.4,112.9 339.8,106.1Z" fill="#d9eec3"/>
<path d="M311.4,126.4 319.5,123.7 327.6,122.3 330.3,127.7 331.7,131.8 320.9,133.2 312.8,133.8Z" fill="#d9eec3"/>
<ellipse cx="191" cy="121" rx="44" ry="41" fill="url(#urb)"/>
<ellipse cx="183" cy="70" rx="5" ry="6" fill="#ece9df"/>
<ellipse cx="305" cy="90" rx="6" ry="5" fill="#ece9df"/>
<ellipse cx="218" cy="147" rx="9" ry="7" fill="#ece9df"/>
<ellipse cx="98" cy="27" rx="5" ry="5" fill="#ece9df"/>
<path d="M62,0 70,10 80,18 88,26 94,34 100,42 108,50 114,56 120,62 122,72 118,82 120,92 124,102 122,112 126,124 132,134 140,142 150,152 158,164 166,176 176,190 186,202 192,211" fill="none" stroke="#8fd3ee" stroke-width="0.7" stroke-linejoin="round" stroke-linecap="round" stroke-dasharray="1.3 1.5" stroke-opacity="0.6"/>
<path d="M0,84 10,90 22,100 36,108 50,114 66,122 82.3,129.7 90,140 94,150 98.5,161.4 108,168 116,174 120,184 124,196 128,206 131,214 133,222" fill="none" stroke="#8fd3ee" stroke-width="0.7" stroke-linejoin="round" stroke-linecap="round" stroke-dasharray="1.3 1.5" stroke-opacity="0.6"/>
<path d="M231,26 234,38 238,50 240,62 243,76 246,90 247,102 248,114 250,122" fill="none" stroke="#8fd3ee" stroke-width="0.7" stroke-linejoin="round" stroke-linecap="round" stroke-dasharray="1.3 1.5" stroke-opacity="0.6"/>
<path d="M296,0 300,12 306,24 308,36 306,50 302,62 302,74 306,86 312,94 318,99 330,101" fill="none" stroke="#8fd3ee" stroke-width="0.7" stroke-linejoin="round" stroke-linecap="round" stroke-dasharray="1.3 1.5" stroke-opacity="0.6"/>
<path d="M347,16 344,30 344,44 349,58 352,70 348,82 346,94 340,100" fill="none" stroke="#8fd3ee" stroke-width="0.7" stroke-linejoin="round" stroke-linecap="round" stroke-dasharray="1.3 1.5" stroke-opacity="0.6"/>
<path d="M190,60 196,70 202,80 206,90 207,96" fill="none" stroke="#8fd3ee" stroke-width="0.7" stroke-linejoin="round" stroke-linecap="round" stroke-dasharray="1.3 1.5" stroke-opacity="0.6"/>
<path d="M207,108 212,116 218,122 226,126 234,130" fill="none" stroke="#8fd3ee" stroke-width="0.7" stroke-linejoin="round" stroke-linecap="round" stroke-dasharray="1.3 1.5" stroke-opacity="0.6"/>
<path d="M100,0 106,10 112,22 116,34 118,46 120,56" fill="none" stroke="#8fd3ee" stroke-width="0.7" stroke-linejoin="round" stroke-linecap="round" stroke-dasharray="1.3 1.5" stroke-opacity="0.6"/>
<path d="M40,150 52,166 62,182 72,196 80,206" fill="none" stroke="#8fd3ee" stroke-width="0.7" stroke-linejoin="round" stroke-linecap="round" stroke-dasharray="1.3 1.5" stroke-opacity="0.6"/>
<path d="M8,168 14,182 20,198 30,210 38,222" fill="none" stroke="#8fd3ee" stroke-width="0.7" stroke-linejoin="round" stroke-linecap="round" stroke-dasharray="1.3 1.5" stroke-opacity="0.6"/>
<path d="M12,6 24,14 36,22 48,28 58,36 66,40 74,44 80,40 84,34 92,30" fill="none" stroke="#8fd3ee" stroke-width="0.7" stroke-linejoin="round" stroke-linecap="round" stroke-dasharray="1.3 1.5" stroke-opacity="0.6"/>
<path d="M20,84 30,90 38,96" fill="none" stroke="#8fd3ee" stroke-width="0.7" stroke-linejoin="round" stroke-linecap="round" stroke-dasharray="1.3 1.5" stroke-opacity="0.6"/>
<path d="M0,76 6,82 4,90" fill="none" stroke="#8fd3ee" stroke-width="0.7" stroke-linejoin="round" stroke-linecap="round" stroke-dasharray="1.3 1.5" stroke-opacity="0.6"/>
<path d="M44,4 50,10 56,8" fill="none" stroke="#8fd3ee" stroke-width="0.7" stroke-linejoin="round" stroke-linecap="round" stroke-dasharray="1.3 1.5" stroke-opacity="0.6"/>
<path d="M130,0 134,10 140,18" fill="none" stroke="#8fd3ee" stroke-width="0.7" stroke-linejoin="round" stroke-linecap="round" stroke-dasharray="1.3 1.5" stroke-opacity="0.6"/>
<path d="M-0.3,40.2 38.5,30.2 56,23.9 71,13.9 78.5,6.4" fill="none" stroke="#f9f2d0" stroke-width="1.0" stroke-linejoin="round" stroke-linecap="round"/>
<path d="M97.3,26.9 88.5,31.4 78.5,36.4 63.5,46.4 46,63.9 28.5,75.2" fill="none" stroke="#f9f2d0" stroke-width="1.0" stroke-linejoin="round" stroke-linecap="round"/>
<path d="M39.8,1.4 41,23.9 40.5,51.4 44.8,68.9 46,78.9 49.8,93.9 52.3,108.9 50,122 46,132" fill="none" stroke="#f9f2d0" stroke-width="1.0" stroke-linejoin="round" stroke-linecap="round"/>
<path d="M97.3,26.9 111,13.9 113.5,1.4" fill="none" stroke="#f9f2d0" stroke-width="1.0" stroke-linejoin="round" stroke-linecap="round"/>
<path d="M95.5,81.4 83.5,56.4 91,41.4 97.3,26.9" fill="none" stroke="#f9f2d0" stroke-width="1.0" stroke-linejoin="round" stroke-linecap="round"/>
<path d="M124,57.7 143.5,53.9 158.5,43.9 173,21.9" fill="none" stroke="#f9f2d0" stroke-width="1.0" stroke-linejoin="round" stroke-linecap="round"/>
<path d="M95.5,81.4 106,68.9 124,57.7" fill="none" stroke="#f9f2d0" stroke-width="1.0" stroke-linejoin="round" stroke-linecap="round"/>
<path d="M-0.3,86.4 16,87.7 28.5,75.2" fill="none" stroke="#f9f2d0" stroke-width="1.0" stroke-linejoin="round" stroke-linecap="round"/>
<path d="M95.5,81.4 93.5,98.9 88.5,115.9 82.3,129.7" fill="none" stroke="#f9f2d0" stroke-width="1.0" stroke-linejoin="round" stroke-linecap="round"/>
<path d="M76.5,5.2 60,0" fill="none" stroke="#f9f2d0" stroke-width="1.0" stroke-linejoin="round" stroke-linecap="round"/>
<path d="M0,23 10,29 22,33 38.5,30.2" fill="none" stroke="#f9f2d0" stroke-width="1.0" stroke-linejoin="round" stroke-linecap="round"/>
<path d="M95.5,81.4 112,90 124,100 125.3,120 125.3,148.2" fill="none" stroke="#f9f2d0" stroke-width="1.0" stroke-linejoin="round" stroke-linecap="round"/>
<path d="M0,82 14,84 30,88 48,90 50,90" fill="none" stroke="#f9f2d0" stroke-width="1.0" stroke-linejoin="round" stroke-linecap="round"/>
<path d="M6,62 10,78 14,96 20,112 30.3,131.9" fill="none" stroke="#f9f2d0" stroke-width="1.0" stroke-linejoin="round" stroke-linecap="round"/>
<path d="M30.3,131.9 28,146 24.3,158.9 18,176 13.5,194.4 20,206 30,214 39.8,222" fill="none" stroke="#f9f2d0" stroke-width="1.0" stroke-linejoin="round" stroke-linecap="round"/>
<path d="M0,146 10,150 24.3,158.9 40,162 58,168 70,180 84.3,199.7" fill="none" stroke="#f9f2d0" stroke-width="1.0" stroke-linejoin="round" stroke-linecap="round"/>
<path d="M82.3,129.7 86,146 92,160 100,172 107.3,183.9" fill="none" stroke="#f9f2d0" stroke-width="1.0" stroke-linejoin="round" stroke-linecap="round"/>
<path d="M107.3,183.9 110,198 112,212 112.3,222" fill="none" stroke="#f9f2d0" stroke-width="1.0" stroke-linejoin="round" stroke-linecap="round"/>
<path d="M107.3,183.9 120,192 134.8,205.9 150,210 170,212 190.3,209" fill="none" stroke="#f9f2d0" stroke-width="1.0" stroke-linejoin="round" stroke-linecap="round"/>
<path d="M125.3,148.2 130,166 134,186 134.8,205.9" fill="none" stroke="#f9f2d0" stroke-width="1.0" stroke-linejoin="round" stroke-linecap="round"/>
<path d="M13.5,194.4 30,190 50,188 60,182 70,180" fill="none" stroke="#f9f2d0" stroke-width="1.0" stroke-linejoin="round" stroke-linecap="round"/>
<path d="M46,132 47,150 47,170 46,190 44,206" fill="none" stroke="#f9f2d0" stroke-width="1.0" stroke-linejoin="round" stroke-linecap="round"/>
<path d="M173,21.9 190,20 210,22 229.3,23.2 245,22 256,21.4 272,18 290,14 310,8 324,3.4 336,0" fill="none" stroke="#f9f2d0" stroke-width="1.0" stroke-linejoin="round" stroke-linecap="round"/>
<path d="M229.3,23.2 226,36 220,48" fill="none" stroke="#f9f2d0" stroke-width="1.0" stroke-linejoin="round" stroke-linecap="round"/>
<path d="M216,60.5 230,66 246,70 262,72 280,72 296.8,70.9" fill="none" stroke="#f9f2d0" stroke-width="1.0" stroke-linejoin="round" stroke-linecap="round"/>
<path d="M216,60.5 200,62 182,66 168,70 154.8,76.4" fill="none" stroke="#f9f2d0" stroke-width="1.0" stroke-linejoin="round" stroke-linecap="round"/>
<path d="M242.3,92.7 242,78 240,60 236,44 229.3,23.2" fill="none" stroke="#f9f2d0" stroke-width="1.0" stroke-linejoin="round" stroke-linecap="round"/>
<path d="M242.3,92.7 246,104 246,114" fill="none" stroke="#f9f2d0" stroke-width="1.0" stroke-linejoin="round" stroke-linecap="round"/>
<path d="M296.8,70.9 312,66 328,58 340,46 348,30 348,20.2 346,0" fill="none" stroke="#f9f2d0" stroke-width="1.0" stroke-linejoin="round" stroke-linecap="round"/>
<path d="M305.3,89.5 316,84 326,80 339,89.5" fill="none" stroke="#f9f2d0" stroke-width="1.0" stroke-linejoin="round" stroke-linecap="round"/>
<path d="M256,21.4 262,36 270,52 282,64 296.8,70.9" fill="none" stroke="#f9f2d0" stroke-width="1.0" stroke-linejoin="round" stroke-linecap="round"/>
<path d="M261,114.3 262,128 266,140 270,150" fill="none" stroke="#f9f2d0" stroke-width="1.0" stroke-linejoin="round" stroke-linecap="round"/>
<path d="M226.8,126.9 236,120 246,114.2" fill="none" stroke="#f9f2d0" stroke-width="1.0" stroke-linejoin="round" stroke-linecap="round"/>
<path d="M154.8,76.4 148,86 133,89" fill="none" stroke="#f9f2d0" stroke-width="1.0" stroke-linejoin="round" stroke-linecap="round"/>
<path d="M133,89 140,104 146,116 148,122" fill="none" stroke="#f9f2d0" stroke-width="1.0" stroke-linejoin="round" stroke-linecap="round"/>
<path d="M160,141.5 158,156 160,172 166,186 178,200 190.3,209" fill="none" stroke="#f9f2d0" stroke-width="1.0" stroke-linejoin="round" stroke-linecap="round"/>
<path d="M184,175 200,180 214,178 226,172" fill="none" stroke="#f9f2d0" stroke-width="1.0" stroke-linejoin="round" stroke-linecap="round"/>
<path d="M216.7,150.5 206,154 196,156 188.5,150" fill="none" stroke="#f9f2d0" stroke-width="1.0" stroke-linejoin="round" stroke-linecap="round"/>
<path d="M339,89.5 344,100 348,110" fill="none" stroke="#f9f2d0" stroke-width="1.0" stroke-linejoin="round" stroke-linecap="round"/>
<path d="M174.4,222.5 179.8,220.4 186.3,216.6 192.8,211.7 199.2,206.9 206.8,201.5 216.5,193.4 226.3,185.8 236,178.2 244.9,172.2 250.6,164.6 258.1,157.1 267.6,151.4 278.9,146.7 286.8,142.9 297.6,138 308.4,134.2 319.2,132.6 330.1,132.1 334.4,129.4 340.9,126.7 349.5,125 356.5,124.3 356.5,222.5Z" fill="#72cef1"/>
<path d="M242.2,121.1 240.6,123.8 238.9,126.5 237.3,129.8 235.1,132.5 232.4,134.6 229.7,133.6 227,133 224.9,134.6 223.8,137.3 224.5,140.6 226,143.8 228,147.1 229.5,150.3 231.5,152.6 229.7,155.3 231.4,158.6 234.6,162.3 234,166 235.7,170.5 238.9,173.7 243,174.5 245.4,173.7 247.5,169.5 251.5,164 256,159 262,154.8 268.5,151.2 275,148 279,145.8 278.5,143.2 271.4,143.2 262.7,144.5 255.1,146.7 249.7,148.3 245.4,148.8 248.1,142.7 249.7,139.5 251.4,135.2 252.4,130.9 253,126.5 254.1,123.8 255.7,121.1 253,117.9 247.6,119.5Z" fill="#72cef1"/>
<path d="M245,172.5 238,170 232,168 229,171 226.8,174.6 221.9,177.9 217,182.7 211.4,184.4 207.3,187.6 208,192 204,196 200.3,200.4 199,207 206.8,201.5 216.5,193.4 226.3,185.8 236,178.2 244.9,172.5Z" fill="#72cef1"/>
<path d="M329,102 334.4,100 338.4,103.4 337.1,110.2 334.4,115.6 329,119 325.5,121 327.5,125 331,132.4 329,132.6 324.5,123.5 322.2,116.9 324.9,111.5 327.6,106.1Z" fill="#72cef1"/>
<ellipse cx="6" cy="25.5" rx="6" ry="4" fill="#c3e6a9"/>
<path d="M206.2,17.7 210.3,14.5 215.1,13.7 217.6,16.1 216.8,20.2 219.2,23.4 223.3,25.9 224.1,29.9 220.8,32.3 216.8,32.3 213.5,29.9 211.9,26.7 208.7,23.4 206.2,21Z" fill="#72cef1"/>
<path d="M188.4,6.4 192.4,3.2 197.3,1.5 201.4,0.7 203,3.2 200.6,6.4 204.6,8.8 207.8,12.1 210.3,14.5 206.2,15.3 203,12.1 198.9,9.6 195.7,8 191.6,8.8Z" fill="#72cef1"/>
<path d="M165.7,38.8 168.1,39.6 169.7,43.7 173,46.9 177,48.6 176.2,51.8 173,53.4 172.2,58.3 168.9,60.7 164.9,56.7 163.3,55 166.5,52.6 168.9,51 169.7,48.6 167.3,46.1 165.7,42.1Z" fill="#72cef1"/>
<path d="M69,65.8 73,64.6 77,63.6 81.5,62.2 83.4,63.4 80.5,66 76.5,67.2 72,67.8Z" fill="#72cef1"/>
<path d="M3,25 5.5,23.2 9,22.8 9.6,24.5 7,26.3 4,27.5Z" fill="#72cef1"/>
<path d="M125,30 128.5,29 128,32.5 125.5,34Z" fill="#72cef1"/>
<path d="M33.5,36.5 36,36 35.5,39 33.5,39.5Z" fill="#72cef1"/>
<path d="M63.5,104 66.5,103.5 66.5,107.5 63.5,108Z" fill="#72cef1"/>
<path d="M12.5,81 14.5,80.5 14.5,84.5 12.5,85Z" fill="#72cef1"/>
<path d="M80.5,205.5 83.5,204.5 84,208.5 82,212 80.5,216 78,216 79,211.5Z" fill="#72cef1"/>
<path d="M100,143 102,142.5 102.2,145 100.2,145.5Z" fill="#72cef1"/>
<path d="M297,111 300,110 301,113 298,114.5Z" fill="#72cef1"/>
<path d="M243.8,173.3 238.9,177.6 233.5,182 228.1,186.3 222.7,190.1 217.3,193.9 211.9,197.7 206.8,201 200,205.8" fill="none" stroke="#f3f1da" stroke-width="1.5" stroke-linejoin="round" stroke-linecap="round"/>
<path d="M249.5,166.5 253,162.3 258.4,157 264.5,153.3 271,150.2 278,147.3 285,144.5 292,141.2" fill="none" stroke="#f3f1da" stroke-width="1.9" stroke-linejoin="round" stroke-linecap="round"/>
<path d="M0,134.4 14,133.5 30.3,131.9 56,130.8 82.3,129.7 100,126.5 121,123.2 146.5,122.5 173.9,122.7 191.1,123.4 210.4,123.4 214.6,122.1 219.5,120.3 229.2,118.5 236.5,117.3 246,116 252,116.7 262.8,116.7 280,116.7 289.5,108.5 297.6,98.8 305.7,90.7 320,90 339,89.5 355,88.5" fill="none" stroke="#f4bd8a" stroke-width="0.75" stroke-linejoin="round" stroke-linecap="round" stroke-opacity="0.9"/>
<path d="M191.1,124.2 189.1,113 186.6,106.3 185.4,98.4 184.2,86.3 183,74.1 182.7,65.6 180.3,55.9 179.1,47.7 178.3,38 177,28.3 174.1,21.8 168.9,16.9 157.6,8.8 149.5,-0.9" fill="none" stroke="#f4bd8a" stroke-width="0.75" stroke-linejoin="round" stroke-linecap="round" stroke-opacity="0.9"/>
<path d="M191.1,124.2 197.6,131.9 203.7,138.6 210.4,145.9 217,153.2 224.3,161.7 232,168.5 239,172.5 243.6,173.6" fill="none" stroke="#f4bd8a" stroke-width="0.75" stroke-linejoin="round" stroke-linecap="round" stroke-opacity="0.9"/>
<path d="M191.1,124.2 193.9,114.2 197.6,104.5 201.2,94.8 206.1,83.8 209.7,74.1 212.7,67.2 216,60.7 224.9,46.1 228.9,34.8 231,23.4 237,8.8 240.3,-0.9" fill="none" stroke="#f4bd8a" stroke-width="0.75" stroke-linejoin="round" stroke-linecap="round" stroke-opacity="0.9"/>
<path d="M191.1,124.2 183,131.3 173.9,137.3 162.3,144.6 153.8,149.5 146.5,153.2 136,158 125.3,164 118,172 108.5,183.5 96,192 84.3,199.7 71,206.4 55,213 40,219" fill="none" stroke="#f4bd8a" stroke-width="0.75" stroke-linejoin="round" stroke-linecap="round" stroke-opacity="0.9"/>
<path d="M183,120.9 173.9,110.6 160.5,102.7 153.8,98.4 146.5,94.2 132.8,88.9 113.5,85.2 95.5,81.4 71,80.2 46,78.9 28.5,75.2 6,61.9 0,59.5" fill="none" stroke="#f4bd8a" stroke-width="0.75" stroke-linejoin="round" stroke-linecap="round" stroke-opacity="0.9"/>
<path d="M189.1,131.3 188.5,141.6 188.5,152 187.9,164.1 185,175 185,190 188,202 190.3,209" fill="none" stroke="#f4bd8a" stroke-width="0.75" stroke-linejoin="round" stroke-linecap="round" stroke-opacity="0.9"/>
<path d="M200.6,127.6 210.4,128.2 219.5,127.6 227,127.3" fill="none" stroke="#f4bd8a" stroke-width="0.75" stroke-linejoin="round" stroke-linecap="round" stroke-opacity="0.9"/>
<path d="M197.6,104.5 208,101 220,97.5 232,94.5 242.3,92.7 262,91 284,89.5 305.3,89.5" fill="none" stroke="#f6e3b4" stroke-width="0.9" stroke-linejoin="round" stroke-linecap="round"/>
<path d="M186.6,106.3 176.9,96 169.6,88.7 164.7,82.6 156,76.6 144,68 132,61 124,57.7" fill="none" stroke="#f6e3b4" stroke-width="0.9" stroke-linejoin="round" stroke-linecap="round"/>
<path d="M227,127.3 226,136 224,146 221,154 217,153.2" fill="none" stroke="#f6e3b4" stroke-width="0.9" stroke-linejoin="round" stroke-linecap="round"/>
<path d="M76.5,5.2 88,17 97.3,26.9 106,35 114,45 124,57.7 128,70 131,80 133,89" fill="none" stroke="#f6e3b4" stroke-width="0.9" stroke-linejoin="round" stroke-linecap="round"/>
<path d="M305.3,89.5 301,80 296.8,70.9 292,58 284,42 277,26 271,11 268,0" fill="none" stroke="#f6e3b4" stroke-width="0.9" stroke-linejoin="round" stroke-linecap="round"/>
<path d="M305.3,89.5 312,96 320,103 326,110" fill="none" stroke="#f6e3b4" stroke-width="0.9" stroke-linejoin="round" stroke-linecap="round"/>
<path d="M280,116.7 294,115 306,113.5 316,109 326,104" fill="none" stroke="#f6e3b4" stroke-width="0.9" stroke-linejoin="round" stroke-linecap="round"/>
<path d="M191.1,124.2 189.3,114.2 188.5,106.3 187.6,96 187.2,88.7 186,79" fill="none" stroke="#f4bd8a" stroke-width="0.6" stroke-linejoin="round" stroke-linecap="round" stroke-opacity="0.8"/>
<path d="M153.8,98.4 154,110.6 154.4,122.7 153.8,137.3 157.4,147.1" fill="none" stroke="#f4bd8a" stroke-width="0.6" stroke-linejoin="round" stroke-linecap="round" stroke-opacity="0.8"/>
<path d="M160.5,102.7 173.9,106.3 180.6,102.1 186.6,98.4 201.2,94.8 207.3,93.6" fill="none" stroke="#f4bd8a" stroke-width="0.6" stroke-linejoin="round" stroke-linecap="round" stroke-opacity="0.8"/>
<path d="M146.5,131.3 162.3,130.7 173.9,128.8 183,127.6" fill="none" stroke="#f4bd8a" stroke-width="0.6" stroke-linejoin="round" stroke-linecap="round" stroke-opacity="0.8"/>
<path d="M176.3,106.3 207.9,106.3 210.4,108.8 210.4,139.2 207.9,141.6 176.3,141.6 173.9,139.2 173.9,108.8 176.3,106.3" fill="none" stroke="#f4bd8a" stroke-width="0.7" stroke-linejoin="round" stroke-linecap="round"/>
<path d="M184.8,119.7 198.2,119.7 200.3,121.8 200.6,129.4 198.8,131.5 184.8,131.9 183,130 183,121.5 184.8,119.7" fill="none" stroke="#f4bd8a" stroke-width="0.7" stroke-linejoin="round" stroke-linecap="round"/>
<path d="M207.9,94.2 210.4,95 213.2,96.6 212.8,100.2 210.7,103.3 210,106 212.8,109.4 211.6,112 209.7,110.6 208.3,106 209.5,102.3 211,99 209.7,97.2 207.3,96Z" fill="#72cef1"/>
<path d="M211.6,112 214.6,115.5 217.7,118.5 219.5,122.7 220.7,126.4" fill="none" stroke="#72cef1" stroke-width="0.8" stroke-linejoin="round" stroke-linecap="round"/>
<path d="M157.9,122.8 164,122.6 163.2,126.6 157.2,127.5Z" fill="#cfe9b6"/>
<path d="M165.3,162.7 169.5,162.2 170,165.8 166,166.4Z" fill="#cfe9b6"/>
<path d="M208,88 211,87.6 211,90 208,90.4Z" fill="#cfe9b6"/>
<rect x="36" y="48.5" width="7.5" height="6.8" rx="3" fill="#fff" stroke="#777" stroke-width="0.5"/>
<text x="39.8" y="53.4" font-size="4.2" text-anchor="middle" fill="#333" font-weight="bold">77</text>
<rect x="251.5" y="18" width="9" height="6.8" rx="3" fill="#fff" stroke="#777" stroke-width="0.5"/>
<text x="256" y="22.9" font-size="4.2" text-anchor="middle" fill="#333" font-weight="bold">190</text>
<rect x="266.5" y="8" width="9" height="6.8" rx="3" fill="#fff" stroke="#777" stroke-width="0.5"/>
<text x="271" y="12.9" font-size="4.2" text-anchor="middle" fill="#333" font-weight="bold">287</text>
<rect x="319.5" y="0" width="9" height="6.8" rx="3" fill="#fff" stroke="#777" stroke-width="0.5"/>
<text x="324" y="4.9" font-size="4.2" text-anchor="middle" fill="#333" font-weight="bold">190</text>
<rect x="178.5" y="171.3" width="9" height="6.8" rx="3" fill="#fff" stroke="#777" stroke-width="0.5"/>
<text x="183" y="176.2" font-size="4.2" text-anchor="middle" fill="#333" font-weight="bold">288</text>
<rect x="302.2" y="110" width="7.5" height="6.8" rx="3" fill="#fff" stroke="#777" stroke-width="0.5"/>
<text x="306" y="114.9" font-size="4.2" text-anchor="middle" fill="#333" font-weight="bold">73</text>
<rect x="21.8" y="202.3" width="7.5" height="6.8" rx="3" fill="#fff" stroke="#777" stroke-width="0.5"/>
<text x="25.5" y="207.2" font-size="4.2" text-anchor="middle" fill="#333" font-weight="bold">87</text>
<rect x="108.5" y="216.8" width="7.5" height="6.8" rx="3" fill="#fff" stroke="#777" stroke-width="0.5"/>
<text x="112.3" y="221.7" font-size="4.2" text-anchor="middle" fill="#333" font-weight="bold">35</text>
<path d="M175.5,44.3H182.7V48.2Q182.3,50.7 179.1,51.7Q175.9,50.7 175.5,48.2Z" fill="#4a66b8"/>
<rect x="175.5" y="44.3" width="7.2" height="1.8" fill="#d0465a"/>
<text x="179.1" y="49.9" font-size="4" text-anchor="middle" fill="#fff" font-weight="bold">45</text>
<path d="M259.2,112.1H266.4V116Q266,118.5 262.8,119.5Q259.6,118.5 259.2,116Z" fill="#4a66b8"/>
<rect x="259.2" y="112.1" width="7.2" height="1.8" fill="#d0465a"/>
<text x="262.8" y="117.7" font-size="4" text-anchor="middle" fill="#fff" font-weight="bold">10</text>
<rect x="75.7" y="4.4" width="1.6" height="1.6" fill="#333"/>
<text x="76.5" y="0.9" font-size="5.7" text-anchor="middle" fill="#555" font-weight="normal" stroke="#f6f6e6" stroke-width="0.9" paint-order="stroke" stroke-opacity="0.7">Hearne</text>
<rect x="96.5" y="26.1" width="1.6" height="1.6" fill="#333"/>
<text x="97.3" y="23.5" font-size="5.7" text-anchor="middle" fill="#555" font-weight="normal" stroke="#f6f6e6" stroke-width="0.9" paint-order="stroke" stroke-opacity="0.7">Bryan</text>
<rect x="122.7" y="56.9" width="1.6" height="1.6" fill="#333"/>
<text x="123.5" y="54.3" font-size="5.7" text-anchor="middle" fill="#555" font-weight="normal" stroke="#f6f6e6" stroke-width="0.9" paint-order="stroke" stroke-opacity="0.7">Navasota</text>
<rect x="94.7" y="80.6" width="1.6" height="1.6" fill="#333"/>
<text x="95.5" y="77.8" font-size="5.7" text-anchor="middle" fill="#555" font-weight="normal" stroke="#f6f6e6" stroke-width="0.9" paint-order="stroke" stroke-opacity="0.7">Brenham</text>
<rect x="5.2" y="61.1" width="1.6" height="1.6" fill="#333"/>
<text x="6" y="58.5" font-size="5.7" text-anchor="middle" fill="#555" font-weight="normal" stroke="#f6f6e6" stroke-width="0.9" paint-order="stroke" stroke-opacity="0.7">Elgin</text>
<rect x="132" y="88.1" width="1.6" height="1.6" fill="#333"/>
<text x="132.8" y="85.5" font-size="5.7" text-anchor="middle" fill="#555" font-weight="normal" stroke="#f6f6e6" stroke-width="0.9" paint-order="stroke" stroke-opacity="0.7">Prairie View</text>
<rect x="155.2" y="75.8" width="1.6" height="1.6" fill="#333"/>
<text x="156" y="73" font-size="5.7" text-anchor="middle" fill="#555" font-weight="normal" stroke="#f6f6e6" stroke-width="0.9" paint-order="stroke" stroke-opacity="0.7">Magnolia</text>
<rect x="173.3" y="21" width="1.6" height="1.6" fill="#333"/>
<text x="174.1" y="18.3" font-size="5.7" text-anchor="middle" fill="#555" font-weight="normal" stroke="#f6f6e6" stroke-width="0.9" paint-order="stroke" stroke-opacity="0.7">Huntsville</text>
<rect x="230.4" y="22.6" width="1.6" height="1.6" fill="#333"/>
<text x="231.2" y="19.5" font-size="5.7" text-anchor="middle" fill="#555" font-weight="normal" stroke="#f6f6e6" stroke-width="0.9" paint-order="stroke" stroke-opacity="0.7">Livingston</text>
<rect x="345.7" y="19.4" width="1.6" height="1.6" fill="#333"/>
<text x="346.5" y="16.8" font-size="5.7" text-anchor="middle" fill="#555" font-weight="normal" stroke="#f6f6e6" stroke-width="0.9" paint-order="stroke" stroke-opacity="0.7">Bon Wier</text>
<rect x="181.9" y="64.8" width="1.6" height="1.6" fill="#333"/>
<text x="182.7" y="62.5" font-size="5.7" text-anchor="middle" fill="#555" font-weight="normal" stroke="#f6f6e6" stroke-width="0.9" paint-order="stroke" stroke-opacity="0.7">Conroe</text>
<rect x="296" y="70.1" width="1.6" height="1.6" fill="#333"/>
<text x="296.8" y="67.3" font-size="5.7" text-anchor="middle" fill="#555" font-weight="normal" stroke="#f6f6e6" stroke-width="0.9" paint-order="stroke" stroke-opacity="0.7">Lumberton</text>
<rect x="304.5" y="88.1" width="1.6" height="1.6" fill="#333"/>
<text x="305.3" y="85.7" font-size="7.0" text-anchor="middle" fill="#555" font-weight="normal" stroke="#f6f6e6" stroke-width="0.9" paint-order="stroke" stroke-opacity="0.7">Beaumont</text>
<rect x="338.2" y="88.1" width="1.6" height="1.6" fill="#333"/>
<text x="339" y="85.5" font-size="5.7" text-anchor="middle" fill="#555" font-weight="normal" stroke="#f6f6e6" stroke-width="0.9" paint-order="stroke" stroke-opacity="0.7">Orange</text>
<rect x="241.5" y="91.9" width="1.6" height="1.6" fill="#333"/>
<text x="242.3" y="89.3" font-size="5.7" text-anchor="middle" fill="#555" font-weight="normal" stroke="#f6f6e6" stroke-width="0.9" paint-order="stroke" stroke-opacity="0.7">Liberty</text>
<rect x="207.1" y="92.8" width="1.6" height="1.6" fill="#333"/>
<text x="207.9" y="90.6" font-size="5.7" text-anchor="middle" fill="#555" font-weight="normal" stroke="#f6f6e6" stroke-width="0.9" paint-order="stroke" stroke-opacity="0.7">Kingwood</text>
<rect x="159.7" y="101.9" width="1.6" height="1.6" fill="#333"/>
<text x="160.5" y="99.1" font-size="5.7" text-anchor="middle" fill="#555" font-weight="normal" stroke="#f6f6e6" stroke-width="0.9" paint-order="stroke" stroke-opacity="0.7">Cypress</text>
<rect x="226.2" y="126.5" width="1.6" height="1.6" fill="#333"/>
<text x="227" y="123.3" font-size="5.7" text-anchor="middle" fill="#555" font-weight="normal" stroke="#f6f6e6" stroke-width="0.9" paint-order="stroke" stroke-opacity="0.7">Baytown</text>
<rect x="29.5" y="131.1" width="1.6" height="1.6" fill="#333"/>
<text x="30.3" y="128.5" font-size="5.7" text-anchor="middle" fill="#555" font-weight="normal" stroke="#f6f6e6" stroke-width="0.9" paint-order="stroke" stroke-opacity="0.7">Flatonia</text>
<rect x="81.5" y="128.9" width="1.6" height="1.6" fill="#333"/>
<text x="82.3" y="126" font-size="5.7" text-anchor="middle" fill="#555" font-weight="normal" stroke="#f6f6e6" stroke-width="0.9" paint-order="stroke" stroke-opacity="0.7">Columbus</text>
<rect x="124.5" y="147.4" width="1.6" height="1.6" fill="#333"/>
<text x="125.3" y="144.8" font-size="5.7" text-anchor="middle" fill="#555" font-weight="normal" stroke="#f6f6e6" stroke-width="0.9" paint-order="stroke" stroke-opacity="0.7">East Bernard</text>
<rect x="23.5" y="158.1" width="1.6" height="1.6" fill="#333"/>
<text x="24.3" y="155.3" font-size="5.7" text-anchor="middle" fill="#555" font-weight="normal" stroke="#f6f6e6" stroke-width="0.9" paint-order="stroke" stroke-opacity="0.7">Shiner</text>
<rect x="106.5" y="183.1" width="1.6" height="1.6" fill="#333"/>
<text x="107.3" y="180.3" font-size="5.7" text-anchor="middle" fill="#555" font-weight="normal" stroke="#f6f6e6" stroke-width="0.9" paint-order="stroke" stroke-opacity="0.7">El Campo</text>
<rect x="12.7" y="193.6" width="1.6" height="1.6" fill="#333"/>
<text x="13.5" y="191" font-size="5.7" text-anchor="middle" fill="#555" font-weight="normal" stroke="#f6f6e6" stroke-width="0.9" paint-order="stroke" stroke-opacity="0.7">Cuero</text>
<rect x="83.5" y="198.9" width="1.6" height="1.6" fill="#333"/>
<text x="84.3" y="196" font-size="5.7" text-anchor="middle" fill="#555" font-weight="normal" stroke="#f6f6e6" stroke-width="0.9" paint-order="stroke" stroke-opacity="0.7">Ganado</text>
<rect x="134" y="205.1" width="1.6" height="1.6" fill="#333"/>
<text x="134.8" y="202.3" font-size="5.7" text-anchor="middle" fill="#555" font-weight="normal" stroke="#f6f6e6" stroke-width="0.9" paint-order="stroke" stroke-opacity="0.7">Bay City</text>
<rect x="215.6" y="149.7" width="1.6" height="1.6" fill="#333"/>
<text x="216.4" y="147.1" font-size="5.7" text-anchor="middle" fill="#555" font-weight="normal" stroke="#f6f6e6" stroke-width="0.9" paint-order="stroke" stroke-opacity="0.7">League City</text>
<rect x="242.8" y="172.7" width="1.6" height="1.6" fill="#333"/>
<text x="243.6" y="170" font-size="5.7" text-anchor="middle" fill="#555" font-weight="normal" stroke="#f6f6e6" stroke-width="0.9" paint-order="stroke" stroke-opacity="0.7">Galveston</text>
<rect x="189.5" y="208.1" width="1.6" height="1.6" fill="#333"/>
<text x="190.3" y="205.5" font-size="5.7" text-anchor="middle" fill="#555" font-weight="normal" stroke="#f6f6e6" stroke-width="0.9" paint-order="stroke" stroke-opacity="0.7">Freeport</text>
<text x="10.3" y="148" font-size="5.7" text-anchor="end" fill="#555">ales</text>
<text x="39.8" y="220.5" font-size="6.5" text-anchor="middle" fill="#555" font-weight="normal" stroke="#f6f6e6" stroke-width="0.9" paint-order="stroke" stroke-opacity="0.7">Victoria</text>
<text x="216" y="48.5" font-size="6.8" text-anchor="middle" fill="#555" font-weight="normal" stroke="#f6f6e6" stroke-width="0.9" paint-order="stroke" stroke-opacity="0.7">North</text>
<text x="216" y="55.8" font-size="6.8" text-anchor="middle" fill="#555" font-weight="normal" stroke="#f6f6e6" stroke-width="0.9" paint-order="stroke" stroke-opacity="0.7">Cleveland</text>
<rect x="215.2" y="59.9" width="1.6" height="1.6" fill="#333"/>
<circle cx="191.1" cy="124.2" r="1.2" fill="#222"/>
<text x="191.1" y="132.4" font-size="8.9" text-anchor="middle" fill="#333" font-weight="normal" stroke="#f6f6e6" stroke-width="0.9" paint-order="stroke" stroke-opacity="0.7">Houston</text>
<path d="M142.6,132.6 151.1,130.7 158.7,131.7 161.5,129.8 162.4,136.4 160.6,142.1 162.4,146.8 167.2,147.7 171.9,150.6 172.8,144.9 171,141.1 177.6,143 178.5,148.7 178,154.4 181.4,156.3 176.6,157.8 171.9,157.2 167.2,160 163.4,162.9 154.9,163.4 150.1,157.2 151.1,150.6 154.9,148.7 156.8,144.9 153,142.1 149.2,138.3 144.5,137.3Z" fill="#b32d4d" stroke="#94223e" stroke-width="0.6" fill-opacity="0.88" stroke-linejoin="round"/>
<path d="M177.6,145.9 182.3,145.9 184.2,149.6 180.4,151.5 177.6,150.6Z" fill="#fac3b9" stroke="#dd9488" stroke-width="0.6" fill-opacity="0.88" stroke-linejoin="round"/>
<path d="M196.5,137.3 202.2,136.4 204.1,140.2 199.3,142.1 196.5,140.2Z" fill="#fac3b9" stroke="#dd9488" stroke-width="0.6" fill-opacity="0.88" stroke-linejoin="round"/>
<path d="M196.5,134.5 199.3,133.6 201.2,137.3 197.4,138.9 195.6,137.3Z" fill="#b32d4d" stroke="#94223e" stroke-width="0.6" fill-opacity="0.88" stroke-linejoin="round"/>
<path d="M211.6,127.9 216.4,127.5 216.9,133.6 212.6,134.5 211.1,131.3Z" fill="#fac3b9" stroke="#dd9488" stroke-width="0.6" fill-opacity="0.88" stroke-linejoin="round"/>
<path d="M171.9,91.9 178.5,91 180.4,97.6 175.7,99.5 171.5,97.2Z" fill="#fac3b9" stroke="#dd9488" stroke-width="0.6" fill-opacity="0.88" stroke-linejoin="round"/>
<path d="M176.1,100.4 182.3,99.1 185.1,102.9 181.4,105.6 176.6,104.8Z" fill="#fac3b9" stroke="#dd9488" stroke-width="0.6" fill-opacity="0.88" stroke-linejoin="round"/>
<path d="M152,115.6 154.9,113.1 167.2,112.7 168.1,117.5 167.2,121.3 154.9,121.6 152,119.4Z" fill="#fac3b9" stroke="#dd9488" stroke-width="0.6" fill-opacity="0.88" stroke-linejoin="round"/>
<path d="M159.6,126.4 164.3,126 165.3,128.8 160.6,129.4Z" fill="#fac3b9" stroke="#dd9488" stroke-width="0.6" fill-opacity="0.88" stroke-linejoin="round"/>
<path d="M168.1,132.6 171.9,132 172.8,135.4 169.1,136Z" fill="#fac3b9" stroke="#dd9488" stroke-width="0.6" fill-opacity="0.88" stroke-linejoin="round"/>
<path d="M177.6,135.4 183.3,133.9 188.9,135.1 188.6,138.9 183.3,140.2 178.5,139.2Z" fill="#fac3b9" stroke="#dd9488" stroke-width="0.6" fill-opacity="0.88" stroke-linejoin="round"/>
<path d="M131.6,155.9 133.1,155.1 134.6,155.9 135,157.4 134.1,158.9 132.2,158.9 131.2,157.4Z" fill="#fac3b9" stroke="#dd9488" stroke-width="0.6" fill-opacity="0.88" stroke-linejoin="round"/>
</g>
<rect x="206.5" y="201.6" width="150.1" height="22.9" fill="#fff"/>
<rect x="207.8" y="203.5" width="146.8" height="7.0" fill="url(#lg)"/>
<text x="208.3" y="221.6" font-size="8.6" fill="#777">1</text>
<text x="354.2" y="221.6" font-size="8.6" fill="#777" text-anchor="end">2</text>
</g>
</svg></body></html>
